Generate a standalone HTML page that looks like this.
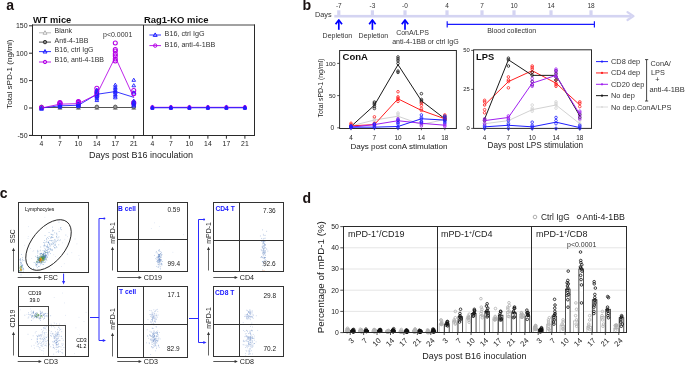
<!DOCTYPE html>
<html><head><meta charset="utf-8"><style>
html,body{margin:0;padding:0;background:#fff;}
svg{display:block;will-change:transform;}
svg text{font-family:"Liberation Sans",sans-serif;}
</style></head><body>
<svg width="685" height="365" viewBox="0 0 685 365">
<rect width="685" height="365" fill="#fff"/>
<text x="6.3" y="10.2" font-size="14" font-weight="bold" fill="#1a1212" >a</text>
<text x="33" y="23.1" font-size="9.3" font-weight="bold" fill="#111" >WT mice</text>
<text x="144" y="23.1" font-size="9.45" font-weight="bold" fill="#111" >Rag1-KO mice</text>
<line x1="32" y1="25" x2="255" y2="25" stroke="#444" stroke-width="1" />
<line x1="32.5" y1="24.5" x2="32.5" y2="136" stroke="#2a2a2a" stroke-width="1" />
<line x1="29" y1="135.5" x2="255" y2="135.5" stroke="#2a2a2a" stroke-width="1" />
<line x1="143.5" y1="25" x2="143.5" y2="135.5" stroke="#2a2a2a" stroke-width="1" />
<line x1="254.5" y1="24.5" x2="254.5" y2="136" stroke="#2a2a2a" stroke-width="1" />
<line x1="29" y1="25.8" x2="32.5" y2="25.8" stroke="#2a2a2a" stroke-width="1" />
<text x="27.6" y="28.2" font-size="7" text-anchor="end" fill="#222" >150</text>
<line x1="29" y1="53.2" x2="32.5" y2="53.2" stroke="#2a2a2a" stroke-width="1" />
<text x="27.6" y="55.6" font-size="7" text-anchor="end" fill="#222" >100</text>
<line x1="29" y1="80.6" x2="32.5" y2="80.6" stroke="#2a2a2a" stroke-width="1" />
<text x="27.6" y="83" font-size="7" text-anchor="end" fill="#222" >50</text>
<line x1="29" y1="108" x2="32.5" y2="108" stroke="#2a2a2a" stroke-width="1" />
<text x="27.6" y="110.4" font-size="7" text-anchor="end" fill="#222" >0</text>
<line x1="29" y1="135.4" x2="32.5" y2="135.4" stroke="#2a2a2a" stroke-width="1" />
<text x="27.6" y="137.8" font-size="7" text-anchor="end" fill="#222" >-50</text>
<line x1="41.5" y1="135.5" x2="41.5" y2="138.7" stroke="#2a2a2a" stroke-width="1" />
<text x="41.5" y="145.9" font-size="6.8" text-anchor="middle" fill="#222" >4</text>
<line x1="59.95" y1="135.5" x2="59.95" y2="138.7" stroke="#2a2a2a" stroke-width="1" />
<text x="59.95" y="145.9" font-size="6.8" text-anchor="middle" fill="#222" >7</text>
<line x1="78.4" y1="135.5" x2="78.4" y2="138.7" stroke="#2a2a2a" stroke-width="1" />
<text x="78.4" y="145.9" font-size="6.8" text-anchor="middle" fill="#222" >10</text>
<line x1="96.85" y1="135.5" x2="96.85" y2="138.7" stroke="#2a2a2a" stroke-width="1" />
<text x="96.85" y="145.9" font-size="6.8" text-anchor="middle" fill="#222" >14</text>
<line x1="115.3" y1="135.5" x2="115.3" y2="138.7" stroke="#2a2a2a" stroke-width="1" />
<text x="115.3" y="145.9" font-size="6.8" text-anchor="middle" fill="#222" >17</text>
<line x1="133.75" y1="135.5" x2="133.75" y2="138.7" stroke="#2a2a2a" stroke-width="1" />
<text x="133.75" y="145.9" font-size="6.8" text-anchor="middle" fill="#222" >21</text>
<line x1="152.4" y1="135.5" x2="152.4" y2="138.7" stroke="#2a2a2a" stroke-width="1" />
<text x="152.4" y="145.9" font-size="6.8" text-anchor="middle" fill="#222" >4</text>
<line x1="170.9" y1="135.5" x2="170.9" y2="138.7" stroke="#2a2a2a" stroke-width="1" />
<text x="170.9" y="145.9" font-size="6.8" text-anchor="middle" fill="#222" >7</text>
<line x1="189.4" y1="135.5" x2="189.4" y2="138.7" stroke="#2a2a2a" stroke-width="1" />
<text x="189.4" y="145.9" font-size="6.8" text-anchor="middle" fill="#222" >10</text>
<line x1="207.9" y1="135.5" x2="207.9" y2="138.7" stroke="#2a2a2a" stroke-width="1" />
<text x="207.9" y="145.9" font-size="6.8" text-anchor="middle" fill="#222" >14</text>
<line x1="226.4" y1="135.5" x2="226.4" y2="138.7" stroke="#2a2a2a" stroke-width="1" />
<text x="226.4" y="145.9" font-size="6.8" text-anchor="middle" fill="#222" >17</text>
<line x1="244.9" y1="135.5" x2="244.9" y2="138.7" stroke="#2a2a2a" stroke-width="1" />
<text x="244.9" y="145.9" font-size="6.8" text-anchor="middle" fill="#222" >21</text>
<text x="141" y="158.1" font-size="9" text-anchor="middle" fill="#222" >Days post B16 inoculation</text>
<text x="12.4" y="74.2" font-size="8.1" text-anchor="middle" fill="#222" transform="rotate(-90 12.4 74.2)" >Total sPD-1 (ng/ml)</text>
<line x1="39" y1="32.8" x2="51" y2="32.8" stroke="#b0b0b0" stroke-width="0.9" />
<polygon points="45,30.72 43,34.19 47,34.19" stroke="#b0b0b0" stroke-width="1" fill="#fff"/>
<text x="54.6" y="33.3" font-size="7" fill="#333" >Blank</text>
<line x1="39" y1="42.1" x2="51" y2="42.1" stroke="#333333" stroke-width="0.9" />
<circle cx="45" cy="42.1" r="1.7" stroke="#333333" stroke-width="1" fill="#888"/>
<text x="54.6" y="42.6" font-size="7" fill="#333" >Anti-4-1BB</text>
<line x1="39" y1="51.6" x2="51" y2="51.6" stroke="#1e1eff" stroke-width="0.9" />
<polygon points="45,49.52 43,52.99 47,52.99" stroke="#1e1eff" stroke-width="1" fill="none"/>
<text x="54.6" y="52.3" font-size="7" fill="#333" >B16, ctrl IgG</text>
<line x1="39" y1="62" x2="51" y2="62" stroke="#b400e6" stroke-width="0.9" />
<circle cx="45" cy="62" r="1.7" stroke="#b400e6" stroke-width="1" fill="none"/>
<text x="54.6" y="62.3" font-size="7" fill="#333" >B16, anti-4-1BB</text>
<text x="103" y="37.3" font-size="7" fill="#333" >p&lt;0.0001</text>
<line x1="41.5" y1="107.5" x2="133.75" y2="107.5" stroke="#555" stroke-width="1" />
<polygon points="41.5,105.92 39.5,109.39 43.5,109.39" stroke="#9a9a9a" stroke-width="0.9" fill="#a0a0a0"/>
<circle cx="41.5" cy="106.9" r="1.8" stroke="#555" stroke-width="0.9" fill="#999"/>
<polygon points="59.95,105.92 57.95,109.39 61.95,109.39" stroke="#9a9a9a" stroke-width="0.9" fill="#a0a0a0"/>
<circle cx="59.95" cy="106.9" r="1.8" stroke="#555" stroke-width="0.9" fill="#999"/>
<polygon points="78.4,105.92 76.4,109.39 80.4,109.39" stroke="#9a9a9a" stroke-width="0.9" fill="#a0a0a0"/>
<circle cx="78.4" cy="106.9" r="1.8" stroke="#555" stroke-width="0.9" fill="#999"/>
<polygon points="96.85,105.92 94.85,109.39 98.85,109.39" stroke="#9a9a9a" stroke-width="0.9" fill="#a0a0a0"/>
<circle cx="96.85" cy="106.9" r="1.8" stroke="#555" stroke-width="0.9" fill="#999"/>
<polygon points="115.3,105.92 113.3,109.39 117.3,109.39" stroke="#9a9a9a" stroke-width="0.9" fill="#a0a0a0"/>
<circle cx="115.3" cy="106.9" r="1.8" stroke="#555" stroke-width="0.9" fill="#999"/>
<polygon points="133.75,105.92 131.75,109.39 135.75,109.39" stroke="#9a9a9a" stroke-width="0.9" fill="#a0a0a0"/>
<circle cx="133.75" cy="106.9" r="1.8" stroke="#555" stroke-width="0.9" fill="#999"/>
<circle cx="41.5" cy="107.45" r="2" stroke="#b400e6" stroke-width="1.05" fill="none"/>
<circle cx="59.95" cy="104.71" r="2" stroke="#b400e6" stroke-width="1.05" fill="none"/>
<circle cx="59.95" cy="103.62" r="2" stroke="#b400e6" stroke-width="1.05" fill="none"/>
<circle cx="59.95" cy="103.07" r="2" stroke="#b400e6" stroke-width="1.05" fill="none"/>
<circle cx="59.95" cy="102.52" r="2" stroke="#b400e6" stroke-width="1.05" fill="none"/>
<circle cx="78.4" cy="104.16" r="2" stroke="#b400e6" stroke-width="1.05" fill="none"/>
<circle cx="78.4" cy="103.07" r="2" stroke="#b400e6" stroke-width="1.05" fill="none"/>
<circle cx="78.4" cy="102.52" r="2" stroke="#b400e6" stroke-width="1.05" fill="none"/>
<circle cx="78.4" cy="101.97" r="2" stroke="#b400e6" stroke-width="1.05" fill="none"/>
<circle cx="78.4" cy="101.42" r="2" stroke="#b400e6" stroke-width="1.05" fill="none"/>
<circle cx="96.85" cy="88.27" r="2" stroke="#b400e6" stroke-width="1.05" fill="none"/>
<circle cx="96.85" cy="91.56" r="2" stroke="#b400e6" stroke-width="1.05" fill="none"/>
<circle cx="96.85" cy="93.75" r="2" stroke="#b400e6" stroke-width="1.05" fill="none"/>
<circle cx="96.85" cy="95.94" r="2" stroke="#b400e6" stroke-width="1.05" fill="none"/>
<circle cx="115.3" cy="43.01" r="2" stroke="#b400e6" stroke-width="1.05" fill="none"/>
<circle cx="115.3" cy="49.47" r="2" stroke="#b400e6" stroke-width="1.05" fill="none"/>
<circle cx="115.3" cy="51.01" r="2" stroke="#b400e6" stroke-width="1.05" fill="none"/>
<circle cx="115.3" cy="54.02" r="2" stroke="#b400e6" stroke-width="1.05" fill="none"/>
<circle cx="115.3" cy="55.99" r="2" stroke="#b400e6" stroke-width="1.05" fill="none"/>
<circle cx="115.3" cy="59.01" r="2" stroke="#b400e6" stroke-width="1.05" fill="none"/>
<circle cx="115.3" cy="60.98" r="2" stroke="#b400e6" stroke-width="1.05" fill="none"/>
<circle cx="133.75" cy="90.46" r="2" stroke="#b400e6" stroke-width="1.05" fill="none"/>
<circle cx="133.75" cy="93.75" r="2" stroke="#b400e6" stroke-width="1.05" fill="none"/>
<circle cx="133.75" cy="102.52" r="2" stroke="#b400e6" stroke-width="1.05" fill="none"/>
<circle cx="133.75" cy="103.62" r="2" stroke="#b400e6" stroke-width="1.05" fill="none"/>
<polygon points="41.5,106.13 39.7,109.25 43.3,109.25" stroke="#1e1eff" stroke-width="0.9" fill="none"/>
<polygon points="41.5,107.23 39.7,110.34 43.3,110.34" stroke="#1e1eff" stroke-width="0.9" fill="none"/>
<polygon points="59.95,105.03 58.15,108.15 61.75,108.15" stroke="#1e1eff" stroke-width="0.9" fill="none"/>
<polygon points="59.95,104.49 58.15,107.6 61.75,107.6" stroke="#1e1eff" stroke-width="0.9" fill="none"/>
<polygon points="59.95,103.94 58.15,107.06 61.75,107.06" stroke="#1e1eff" stroke-width="0.9" fill="none"/>
<polygon points="59.95,103.39 58.15,106.51 61.75,106.51" stroke="#1e1eff" stroke-width="0.9" fill="none"/>
<polygon points="59.95,102.84 58.15,105.96 61.75,105.96" stroke="#1e1eff" stroke-width="0.9" fill="none"/>
<polygon points="78.4,104.49 76.6,107.6 80.2,107.6" stroke="#1e1eff" stroke-width="0.9" fill="none"/>
<polygon points="78.4,103.94 76.6,107.06 80.2,107.06" stroke="#1e1eff" stroke-width="0.9" fill="none"/>
<polygon points="78.4,103.39 76.6,106.51 80.2,106.51" stroke="#1e1eff" stroke-width="0.9" fill="none"/>
<polygon points="78.4,102.84 76.6,105.96 80.2,105.96" stroke="#1e1eff" stroke-width="0.9" fill="none"/>
<polygon points="78.4,102.29 76.6,105.41 80.2,105.41" stroke="#1e1eff" stroke-width="0.9" fill="none"/>
<polygon points="78.4,101.75 76.6,104.86 80.2,104.86" stroke="#1e1eff" stroke-width="0.9" fill="none"/>
<polygon points="96.85,98.46 95.05,101.58 98.65,101.58" stroke="#1e1eff" stroke-width="0.9" fill="none"/>
<polygon points="96.85,96.81 95.05,99.93 98.65,99.93" stroke="#1e1eff" stroke-width="0.9" fill="none"/>
<polygon points="96.85,95.17 95.05,98.29 98.65,98.29" stroke="#1e1eff" stroke-width="0.9" fill="none"/>
<polygon points="96.85,94.07 95.05,97.19 98.65,97.19" stroke="#1e1eff" stroke-width="0.9" fill="none"/>
<polygon points="96.85,92.98 95.05,96.1 98.65,96.1" stroke="#1e1eff" stroke-width="0.9" fill="none"/>
<polygon points="96.85,91.88 95.05,95 98.65,95" stroke="#1e1eff" stroke-width="0.9" fill="none"/>
<polygon points="96.85,90.79 95.05,93.9 98.65,93.9" stroke="#1e1eff" stroke-width="0.9" fill="none"/>
<polygon points="96.85,89.69 95.05,92.81 98.65,92.81" stroke="#1e1eff" stroke-width="0.9" fill="none"/>
<polygon points="96.85,88.05 95.05,91.16 98.65,91.16" stroke="#1e1eff" stroke-width="0.9" fill="none"/>
<polygon points="115.3,95.72 113.5,98.84 117.1,98.84" stroke="#1e1eff" stroke-width="0.9" fill="none"/>
<polygon points="115.3,94.07 113.5,97.19 117.1,97.19" stroke="#1e1eff" stroke-width="0.9" fill="none"/>
<polygon points="115.3,92.43 113.5,95.55 117.1,95.55" stroke="#1e1eff" stroke-width="0.9" fill="none"/>
<polygon points="115.3,90.79 113.5,93.9 117.1,93.9" stroke="#1e1eff" stroke-width="0.9" fill="none"/>
<polygon points="115.3,89.69 113.5,92.81 117.1,92.81" stroke="#1e1eff" stroke-width="0.9" fill="none"/>
<polygon points="115.3,88.59 113.5,91.71 117.1,91.71" stroke="#1e1eff" stroke-width="0.9" fill="none"/>
<polygon points="115.3,86.95 113.5,90.07 117.1,90.07" stroke="#1e1eff" stroke-width="0.9" fill="none"/>
<polygon points="115.3,85.31 113.5,88.42 117.1,88.42" stroke="#1e1eff" stroke-width="0.9" fill="none"/>
<polygon points="115.3,83.11 113.5,86.23 117.1,86.23" stroke="#1e1eff" stroke-width="0.9" fill="none"/>
<polygon points="133.75,78.18 131.95,81.3 135.55,81.3" stroke="#1e1eff" stroke-width="0.9" fill="none"/>
<polygon points="133.75,83.66 131.95,86.78 135.55,86.78" stroke="#1e1eff" stroke-width="0.9" fill="none"/>
<polygon points="133.75,90.79 131.95,93.9 135.55,93.9" stroke="#1e1eff" stroke-width="0.9" fill="none"/>
<polygon points="133.75,99.01 131.95,102.12 135.55,102.12" stroke="#1e1eff" stroke-width="0.9" fill="none"/>
<polygon points="133.75,100.65 131.95,103.77 135.55,103.77" stroke="#1e1eff" stroke-width="0.9" fill="none"/>
<polygon points="133.75,101.75 131.95,104.86 135.55,104.86" stroke="#1e1eff" stroke-width="0.9" fill="none"/>
<polygon points="133.75,102.84 131.95,105.96 135.55,105.96" stroke="#1e1eff" stroke-width="0.9" fill="none"/>
<polygon points="133.75,103.94 131.95,107.06 135.55,107.06" stroke="#1e1eff" stroke-width="0.9" fill="none"/>
<polyline points="41.5,108 59.95,105.81 78.4,105.26 96.85,94.3 115.3,91.56 133.75,97.31" stroke="#1e1eff" stroke-width="0.9" fill="none" stroke-linejoin="round" />
<polyline points="41.5,108 59.95,104.16 78.4,103.62 96.85,94.3 115.3,57.04 133.75,97.59" stroke="#b400e6" stroke-width="0.85" fill="none" stroke-linejoin="round" />
<line x1="149.4" y1="35" x2="161" y2="35" stroke="#1e1eff" stroke-width="0.9" />
<polygon points="155.2,32.92 153.2,36.39 157.2,36.39" stroke="#1e1eff" stroke-width="1" fill="none"/>
<text x="164.6" y="36.2" font-size="7.2" fill="#333" >B16, ctrl IgG</text>
<line x1="149.4" y1="45.6" x2="161" y2="45.6" stroke="#b400e6" stroke-width="0.9" />
<circle cx="155.2" cy="45.6" r="1.7" stroke="#b400e6" stroke-width="1" fill="none"/>
<text x="164.6" y="46.8" font-size="7.2" fill="#333" >B16, anti-4-1BB</text>
<polyline points="152.4,107.34 170.9,107.34 189.4,107.34 207.9,107.34 226.4,107.34 244.9,107.34" stroke="#b400e6" stroke-width="1" fill="none" stroke-linejoin="round" />
<polyline points="152.4,107.73 170.9,107.73 189.4,107.73 207.9,107.73 226.4,107.73 244.9,107.73" stroke="#1e1eff" stroke-width="1.2" fill="none" stroke-linejoin="round" />
<circle cx="152.4" cy="106.9" r="1.5" stroke="#b400e6" stroke-width="0.9" fill="none"/>
<circle cx="152.4" cy="107.45" r="1.5" stroke="#b400e6" stroke-width="0.9" fill="none"/>
<circle cx="152.4" cy="108" r="1.5" stroke="#b400e6" stroke-width="0.9" fill="none"/>
<polygon points="152.4,105.62 150.9,108.22 153.9,108.22" stroke="#1e1eff" stroke-width="1.0" fill="#1e1eff"/>
<polygon points="152.4,106.17 150.9,108.77 153.9,108.77" stroke="#1e1eff" stroke-width="1.0" fill="#1e1eff"/>
<polygon points="152.4,106.72 150.9,109.31 153.9,109.31" stroke="#1e1eff" stroke-width="1.0" fill="#1e1eff"/>
<circle cx="170.9" cy="106.9" r="1.5" stroke="#b400e6" stroke-width="0.9" fill="none"/>
<circle cx="170.9" cy="107.45" r="1.5" stroke="#b400e6" stroke-width="0.9" fill="none"/>
<circle cx="170.9" cy="108" r="1.5" stroke="#b400e6" stroke-width="0.9" fill="none"/>
<polygon points="170.9,105.62 169.4,108.22 172.4,108.22" stroke="#1e1eff" stroke-width="1.0" fill="#1e1eff"/>
<polygon points="170.9,106.17 169.4,108.77 172.4,108.77" stroke="#1e1eff" stroke-width="1.0" fill="#1e1eff"/>
<polygon points="170.9,106.72 169.4,109.31 172.4,109.31" stroke="#1e1eff" stroke-width="1.0" fill="#1e1eff"/>
<circle cx="189.4" cy="106.9" r="1.5" stroke="#b400e6" stroke-width="0.9" fill="none"/>
<circle cx="189.4" cy="107.45" r="1.5" stroke="#b400e6" stroke-width="0.9" fill="none"/>
<circle cx="189.4" cy="108" r="1.5" stroke="#b400e6" stroke-width="0.9" fill="none"/>
<polygon points="189.4,105.62 187.9,108.22 190.9,108.22" stroke="#1e1eff" stroke-width="1.0" fill="#1e1eff"/>
<polygon points="189.4,106.17 187.9,108.77 190.9,108.77" stroke="#1e1eff" stroke-width="1.0" fill="#1e1eff"/>
<polygon points="189.4,106.72 187.9,109.31 190.9,109.31" stroke="#1e1eff" stroke-width="1.0" fill="#1e1eff"/>
<circle cx="207.9" cy="106.9" r="1.5" stroke="#b400e6" stroke-width="0.9" fill="none"/>
<circle cx="207.9" cy="107.45" r="1.5" stroke="#b400e6" stroke-width="0.9" fill="none"/>
<circle cx="207.9" cy="108" r="1.5" stroke="#b400e6" stroke-width="0.9" fill="none"/>
<polygon points="207.9,105.62 206.4,108.22 209.4,108.22" stroke="#1e1eff" stroke-width="1.0" fill="#1e1eff"/>
<polygon points="207.9,106.17 206.4,108.77 209.4,108.77" stroke="#1e1eff" stroke-width="1.0" fill="#1e1eff"/>
<polygon points="207.9,106.72 206.4,109.31 209.4,109.31" stroke="#1e1eff" stroke-width="1.0" fill="#1e1eff"/>
<circle cx="226.4" cy="106.9" r="1.5" stroke="#b400e6" stroke-width="0.9" fill="none"/>
<circle cx="226.4" cy="107.45" r="1.5" stroke="#b400e6" stroke-width="0.9" fill="none"/>
<circle cx="226.4" cy="108" r="1.5" stroke="#b400e6" stroke-width="0.9" fill="none"/>
<polygon points="226.4,105.62 224.9,108.22 227.9,108.22" stroke="#1e1eff" stroke-width="1.0" fill="#1e1eff"/>
<polygon points="226.4,106.17 224.9,108.77 227.9,108.77" stroke="#1e1eff" stroke-width="1.0" fill="#1e1eff"/>
<polygon points="226.4,106.72 224.9,109.31 227.9,109.31" stroke="#1e1eff" stroke-width="1.0" fill="#1e1eff"/>
<circle cx="244.9" cy="106.9" r="1.5" stroke="#b400e6" stroke-width="0.9" fill="none"/>
<circle cx="244.9" cy="107.45" r="1.5" stroke="#b400e6" stroke-width="0.9" fill="none"/>
<circle cx="244.9" cy="108" r="1.5" stroke="#b400e6" stroke-width="0.9" fill="none"/>
<polygon points="244.9,105.62 243.4,108.22 246.4,108.22" stroke="#1e1eff" stroke-width="1.0" fill="#1e1eff"/>
<polygon points="244.9,106.17 243.4,108.77 246.4,108.77" stroke="#1e1eff" stroke-width="1.0" fill="#1e1eff"/>
<polygon points="244.9,106.72 243.4,109.31 246.4,109.31" stroke="#1e1eff" stroke-width="1.0" fill="#1e1eff"/>
<text x="302.6" y="10.4" font-size="14.2" font-weight="bold" fill="#1a1212" >b</text>
<text x="315" y="17.4" font-size="7.3" fill="#333" >Days</text>
<rect x="334.3" y="14.9" width="297" height="2.6" fill="#d4d4f2"/>
<polyline points="627.5,12.2 633.5,16.1 627.5,20" stroke="#d4d4f2" stroke-width="2.2" fill="none" stroke-linejoin="round" stroke-linecap="round"/>
<rect x="337.2" y="10.3" width="3.2" height="5" fill="#d4d4f2"/>
<text x="338.8" y="8" font-size="6.5" text-anchor="middle" fill="#333" >-7</text>
<rect x="370.8" y="10.3" width="3.2" height="5" fill="#d4d4f2"/>
<text x="372.4" y="8" font-size="6.5" text-anchor="middle" fill="#333" >-3</text>
<rect x="403.4" y="10.3" width="3.2" height="5" fill="#d4d4f2"/>
<text x="405" y="8" font-size="6.5" text-anchor="middle" fill="#333" >-0</text>
<rect x="445.4" y="10.3" width="3.2" height="5" fill="#d4d4f2"/>
<text x="447" y="8" font-size="6.5" text-anchor="middle" fill="#333" >4</text>
<rect x="480.4" y="10.3" width="3.2" height="5" fill="#d4d4f2"/>
<text x="482" y="8" font-size="6.5" text-anchor="middle" fill="#333" >7</text>
<rect x="512.4" y="10.3" width="3.2" height="5" fill="#d4d4f2"/>
<text x="514" y="8" font-size="6.5" text-anchor="middle" fill="#333" >10</text>
<rect x="549.4" y="10.3" width="3.2" height="5" fill="#d4d4f2"/>
<text x="551" y="8" font-size="6.5" text-anchor="middle" fill="#333" >14</text>
<rect x="589.4" y="10.3" width="3.2" height="5" fill="#d4d4f2"/>
<text x="591" y="8" font-size="6.5" text-anchor="middle" fill="#333" >18</text>
<line x1="338.8" y1="29.8" x2="338.8" y2="20.5" stroke="#0000ff" stroke-width="1.7" />
<polyline points="336.1,23.6 338.8,20 341.5,23.6" stroke="#0000ff" stroke-width="1.7" fill="none" stroke-linejoin="round" stroke-linecap="square" stroke-linejoin="miter"/>
<line x1="372.4" y1="29.8" x2="372.4" y2="20.5" stroke="#0000ff" stroke-width="1.7" />
<polyline points="369.7,23.6 372.4,20 375.1,23.6" stroke="#0000ff" stroke-width="1.7" fill="none" stroke-linejoin="round" stroke-linecap="square" stroke-linejoin="miter"/>
<line x1="405" y1="29.8" x2="405" y2="20.5" stroke="#0000ff" stroke-width="1.7" />
<polyline points="402.3,23.6 405,20 407.7,23.6" stroke="#0000ff" stroke-width="1.7" fill="none" stroke-linejoin="round" stroke-linecap="square" stroke-linejoin="miter"/>
<text x="337.4" y="38.1" font-size="7" text-anchor="middle" fill="#333" >Depletion</text>
<text x="373.4" y="38.1" font-size="7" text-anchor="middle" fill="#333" >Depletion</text>
<text x="412.5" y="34.5" font-size="7" text-anchor="middle" fill="#333" >ConA/LPS</text>
<text x="425.5" y="44" font-size="7.1" text-anchor="middle" fill="#333" >anti-4-1BB or ctrl IgG</text>
<line x1="447" y1="24.4" x2="594.6" y2="24.4" stroke="#1a1aff" stroke-width="1.2" />
<line x1="447.2" y1="21.2" x2="447.2" y2="27.6" stroke="#1a1aff" stroke-width="1.2" />
<line x1="594.4" y1="21.2" x2="594.4" y2="27.6" stroke="#1a1aff" stroke-width="1.2" />
<text x="511.7" y="32.5" font-size="7" text-anchor="middle" fill="#333" >Blood collection</text>
<rect x="339.6" y="50.5" width="116.8" height="78" stroke="#2a2a2a" stroke-width="1" fill="none" />
<line x1="337.2" y1="127.8" x2="339.6" y2="127.8" stroke="#2a2a2a" stroke-width="0.8" />
<text x="334.2" y="130.2" font-size="6.6" text-anchor="end" fill="#222" >0</text>
<line x1="337.2" y1="95.6" x2="339.6" y2="95.6" stroke="#2a2a2a" stroke-width="0.8" />
<text x="335.6" y="97.8" font-size="6" text-anchor="end" fill="#222" >50</text>
<line x1="337.2" y1="63.4" x2="339.6" y2="63.4" stroke="#2a2a2a" stroke-width="0.8" />
<text x="335.6" y="65.6" font-size="6" text-anchor="end" fill="#222" >100</text>
<line x1="351" y1="128" x2="351" y2="130.2" stroke="#2a2a2a" stroke-width="0.8" />
<text x="351" y="139.6" font-size="6.4" text-anchor="middle" fill="#222" >4</text>
<line x1="374.4" y1="128" x2="374.4" y2="130.2" stroke="#2a2a2a" stroke-width="0.8" />
<text x="374.4" y="139.6" font-size="6.4" text-anchor="middle" fill="#222" >7</text>
<line x1="398" y1="128" x2="398" y2="130.2" stroke="#2a2a2a" stroke-width="0.8" />
<text x="398" y="139.6" font-size="6.4" text-anchor="middle" fill="#222" >10</text>
<line x1="421.4" y1="128" x2="421.4" y2="130.2" stroke="#2a2a2a" stroke-width="0.8" />
<text x="421.4" y="139.6" font-size="6.4" text-anchor="middle" fill="#222" >14</text>
<line x1="444.8" y1="128" x2="444.8" y2="130.2" stroke="#2a2a2a" stroke-width="0.8" />
<text x="444.8" y="139.6" font-size="6.4" text-anchor="middle" fill="#222" >18</text>
<text x="342.6" y="59.8" font-size="9.5" font-weight="bold" fill="#111" >ConA</text>
<text x="323.3" y="88" font-size="6.9" text-anchor="middle" fill="#222" transform="rotate(-90 323.3 88)" >Total sPD-1 (ng/ml)</text>
<text x="399" y="149.3" font-size="8.1" text-anchor="middle" fill="#222" >Days post conA stimulation</text>
<rect x="473.6" y="49.8" width="117.9" height="78.6" stroke="#2a2a2a" stroke-width="1" fill="none" />
<line x1="471.2" y1="128.4" x2="473.6" y2="128.4" stroke="#2a2a2a" stroke-width="0.8" />
<text x="469.8" y="130.4" font-size="5.8" text-anchor="end" fill="#222" >0</text>
<line x1="471.2" y1="89.4" x2="473.6" y2="89.4" stroke="#2a2a2a" stroke-width="0.8" />
<text x="469.8" y="91.4" font-size="5.8" text-anchor="end" fill="#222" >25</text>
<line x1="471.2" y1="50.4" x2="473.6" y2="50.4" stroke="#2a2a2a" stroke-width="0.8" />
<text x="469.8" y="52.4" font-size="5.8" text-anchor="end" fill="#222" >50</text>
<line x1="484.6" y1="128.4" x2="484.6" y2="130.6" stroke="#2a2a2a" stroke-width="0.8" />
<text x="484.6" y="139.6" font-size="6.4" text-anchor="middle" fill="#222" >4</text>
<line x1="508.4" y1="128.4" x2="508.4" y2="130.6" stroke="#2a2a2a" stroke-width="0.8" />
<text x="508.4" y="139.6" font-size="6.4" text-anchor="middle" fill="#222" >7</text>
<line x1="532.2" y1="128.4" x2="532.2" y2="130.6" stroke="#2a2a2a" stroke-width="0.8" />
<text x="532.2" y="139.6" font-size="6.4" text-anchor="middle" fill="#222" >10</text>
<line x1="556" y1="128.4" x2="556" y2="130.6" stroke="#2a2a2a" stroke-width="0.8" />
<text x="556" y="139.6" font-size="6.4" text-anchor="middle" fill="#222" >14</text>
<line x1="579.8" y1="128.4" x2="579.8" y2="130.6" stroke="#2a2a2a" stroke-width="0.8" />
<text x="579.8" y="139.6" font-size="6.4" text-anchor="middle" fill="#222" >18</text>
<text x="476" y="60.3" font-size="9.3" font-weight="bold" fill="#111" >LPS</text>
<text x="535.3" y="147.8" font-size="8.2" text-anchor="middle" fill="#222" >Days post LPS stimulation</text>
<circle cx="351" cy="125.87" r="1.3" stroke="#d2d2d2" stroke-width="0.8" fill="none"/>
<circle cx="374.4" cy="121.36" r="1.3" stroke="#d2d2d2" stroke-width="0.8" fill="none"/>
<circle cx="374.4" cy="120.07" r="1.3" stroke="#d2d2d2" stroke-width="0.8" fill="none"/>
<circle cx="374.4" cy="118.78" r="1.3" stroke="#d2d2d2" stroke-width="0.8" fill="none"/>
<circle cx="398" cy="118.14" r="1.3" stroke="#d2d2d2" stroke-width="0.8" fill="none"/>
<circle cx="398" cy="116.21" r="1.3" stroke="#d2d2d2" stroke-width="0.8" fill="none"/>
<circle cx="398" cy="114.28" r="1.3" stroke="#d2d2d2" stroke-width="0.8" fill="none"/>
<circle cx="398" cy="112.99" r="1.3" stroke="#d2d2d2" stroke-width="0.8" fill="none"/>
<circle cx="421.4" cy="125.87" r="1.3" stroke="#d2d2d2" stroke-width="0.8" fill="none"/>
<circle cx="421.4" cy="124.58" r="1.3" stroke="#d2d2d2" stroke-width="0.8" fill="none"/>
<circle cx="444.8" cy="120.07" r="1.3" stroke="#d2d2d2" stroke-width="0.8" fill="none"/>
<circle cx="444.8" cy="118.78" r="1.3" stroke="#d2d2d2" stroke-width="0.8" fill="none"/>
<polyline points="351,125.87 374.4,120.07 398,116.21 421.4,124.58 444.8,119.43" stroke="#d2d2d2" stroke-width="1" fill="none" stroke-linejoin="round" />
<circle cx="351" cy="127.16" r="1.3" stroke="#1a1a1a" stroke-width="0.8" fill="none"/>
<circle cx="351" cy="126.51" r="1.3" stroke="#1a1a1a" stroke-width="0.8" fill="none"/>
<circle cx="351" cy="125.87" r="1.3" stroke="#1a1a1a" stroke-width="0.8" fill="none"/>
<circle cx="374.4" cy="108.48" r="1.3" stroke="#1a1a1a" stroke-width="0.8" fill="none"/>
<circle cx="374.4" cy="106.55" r="1.3" stroke="#1a1a1a" stroke-width="0.8" fill="none"/>
<circle cx="374.4" cy="104.62" r="1.3" stroke="#1a1a1a" stroke-width="0.8" fill="none"/>
<circle cx="374.4" cy="103.33" r="1.3" stroke="#1a1a1a" stroke-width="0.8" fill="none"/>
<circle cx="374.4" cy="102.04" r="1.3" stroke="#1a1a1a" stroke-width="0.8" fill="none"/>
<circle cx="398" cy="56.96" r="1.3" stroke="#1a1a1a" stroke-width="0.8" fill="none"/>
<circle cx="398" cy="58.89" r="1.3" stroke="#1a1a1a" stroke-width="0.8" fill="none"/>
<circle cx="398" cy="60.82" r="1.3" stroke="#1a1a1a" stroke-width="0.8" fill="none"/>
<circle cx="398" cy="63.4" r="1.3" stroke="#1a1a1a" stroke-width="0.8" fill="none"/>
<circle cx="398" cy="71.13" r="1.3" stroke="#1a1a1a" stroke-width="0.8" fill="none"/>
<circle cx="398" cy="72.42" r="1.3" stroke="#1a1a1a" stroke-width="0.8" fill="none"/>
<circle cx="421.4" cy="93.67" r="1.3" stroke="#1a1a1a" stroke-width="0.8" fill="none"/>
<circle cx="421.4" cy="99.46" r="1.3" stroke="#1a1a1a" stroke-width="0.8" fill="none"/>
<circle cx="421.4" cy="100.75" r="1.3" stroke="#1a1a1a" stroke-width="0.8" fill="none"/>
<circle cx="421.4" cy="102.04" r="1.3" stroke="#1a1a1a" stroke-width="0.8" fill="none"/>
<circle cx="444.8" cy="120.07" r="1.3" stroke="#1a1a1a" stroke-width="0.8" fill="none"/>
<circle cx="444.8" cy="118.78" r="1.3" stroke="#1a1a1a" stroke-width="0.8" fill="none"/>
<circle cx="444.8" cy="117.5" r="1.3" stroke="#1a1a1a" stroke-width="0.8" fill="none"/>
<circle cx="444.8" cy="116.21" r="1.3" stroke="#1a1a1a" stroke-width="0.8" fill="none"/>
<polyline points="351,126.51 374.4,105.26 398,64.69 421.4,100.75 444.8,118.78" stroke="#1a1a1a" stroke-width="1" fill="none" stroke-linejoin="round" />
<circle cx="351" cy="124.58" r="1.3" stroke="#ff1f1f" stroke-width="0.8" fill="none"/>
<circle cx="351" cy="123.29" r="1.3" stroke="#ff1f1f" stroke-width="0.8" fill="none"/>
<circle cx="374.4" cy="116.85" r="1.3" stroke="#ff1f1f" stroke-width="0.8" fill="none"/>
<circle cx="374.4" cy="123.29" r="1.3" stroke="#ff1f1f" stroke-width="0.8" fill="none"/>
<circle cx="374.4" cy="125.22" r="1.3" stroke="#ff1f1f" stroke-width="0.8" fill="none"/>
<circle cx="398" cy="91.74" r="1.3" stroke="#ff1f1f" stroke-width="0.8" fill="none"/>
<circle cx="398" cy="96.89" r="1.3" stroke="#ff1f1f" stroke-width="0.8" fill="none"/>
<circle cx="398" cy="98.18" r="1.3" stroke="#ff1f1f" stroke-width="0.8" fill="none"/>
<circle cx="398" cy="99.46" r="1.3" stroke="#ff1f1f" stroke-width="0.8" fill="none"/>
<circle cx="398" cy="101.4" r="1.3" stroke="#ff1f1f" stroke-width="0.8" fill="none"/>
<circle cx="421.4" cy="103.33" r="1.3" stroke="#ff1f1f" stroke-width="0.8" fill="none"/>
<circle cx="421.4" cy="105.26" r="1.3" stroke="#ff1f1f" stroke-width="0.8" fill="none"/>
<circle cx="421.4" cy="108.48" r="1.3" stroke="#ff1f1f" stroke-width="0.8" fill="none"/>
<circle cx="421.4" cy="110.41" r="1.3" stroke="#ff1f1f" stroke-width="0.8" fill="none"/>
<circle cx="444.8" cy="119.43" r="1.3" stroke="#ff1f1f" stroke-width="0.8" fill="none"/>
<circle cx="444.8" cy="118.14" r="1.3" stroke="#ff1f1f" stroke-width="0.8" fill="none"/>
<circle cx="444.8" cy="114.92" r="1.3" stroke="#ff1f1f" stroke-width="0.8" fill="none"/>
<polyline points="351,125.87 374.4,124.58 398,98.82 421.4,110.41 444.8,118.78" stroke="#ff1f1f" stroke-width="1" fill="none" stroke-linejoin="round" />
<circle cx="351" cy="127.16" r="1.3" stroke="#a020f0" stroke-width="0.8" fill="none"/>
<circle cx="351" cy="126.51" r="1.3" stroke="#a020f0" stroke-width="0.8" fill="none"/>
<circle cx="374.4" cy="125.22" r="1.3" stroke="#a020f0" stroke-width="0.8" fill="none"/>
<circle cx="374.4" cy="123.94" r="1.3" stroke="#a020f0" stroke-width="0.8" fill="none"/>
<circle cx="398" cy="122" r="1.3" stroke="#a020f0" stroke-width="0.8" fill="none"/>
<circle cx="398" cy="120.07" r="1.3" stroke="#a020f0" stroke-width="0.8" fill="none"/>
<circle cx="398" cy="118.78" r="1.3" stroke="#a020f0" stroke-width="0.8" fill="none"/>
<circle cx="421.4" cy="125.87" r="1.3" stroke="#a020f0" stroke-width="0.8" fill="none"/>
<circle cx="421.4" cy="123.94" r="1.3" stroke="#a020f0" stroke-width="0.8" fill="none"/>
<circle cx="421.4" cy="122" r="1.3" stroke="#a020f0" stroke-width="0.8" fill="none"/>
<circle cx="444.8" cy="126.51" r="1.3" stroke="#a020f0" stroke-width="0.8" fill="none"/>
<circle cx="444.8" cy="125.22" r="1.3" stroke="#a020f0" stroke-width="0.8" fill="none"/>
<circle cx="444.8" cy="123.94" r="1.3" stroke="#a020f0" stroke-width="0.8" fill="none"/>
<polyline points="351,127.16 374.4,124.58 398,120.72 421.4,123.29 444.8,125.22" stroke="#a020f0" stroke-width="1" fill="none" stroke-linejoin="round" />
<circle cx="351" cy="127.8" r="1.3" stroke="#1f1fff" stroke-width="0.8" fill="none"/>
<circle cx="351" cy="127.16" r="1.3" stroke="#1f1fff" stroke-width="0.8" fill="none"/>
<circle cx="351" cy="126.51" r="1.3" stroke="#1f1fff" stroke-width="0.8" fill="none"/>
<circle cx="351" cy="125.87" r="1.3" stroke="#1f1fff" stroke-width="0.8" fill="none"/>
<circle cx="374.4" cy="127.8" r="1.3" stroke="#1f1fff" stroke-width="0.8" fill="none"/>
<circle cx="374.4" cy="126.51" r="1.3" stroke="#1f1fff" stroke-width="0.8" fill="none"/>
<circle cx="374.4" cy="124.58" r="1.3" stroke="#1f1fff" stroke-width="0.8" fill="none"/>
<circle cx="374.4" cy="123.94" r="1.3" stroke="#1f1fff" stroke-width="0.8" fill="none"/>
<circle cx="398" cy="127.8" r="1.3" stroke="#1f1fff" stroke-width="0.8" fill="none"/>
<circle cx="398" cy="126.51" r="1.3" stroke="#1f1fff" stroke-width="0.8" fill="none"/>
<circle cx="398" cy="123.94" r="1.3" stroke="#1f1fff" stroke-width="0.8" fill="none"/>
<circle cx="398" cy="122.65" r="1.3" stroke="#1f1fff" stroke-width="0.8" fill="none"/>
<circle cx="398" cy="120.07" r="1.3" stroke="#1f1fff" stroke-width="0.8" fill="none"/>
<circle cx="421.4" cy="122.65" r="1.3" stroke="#1f1fff" stroke-width="0.8" fill="none"/>
<circle cx="421.4" cy="121.36" r="1.3" stroke="#1f1fff" stroke-width="0.8" fill="none"/>
<circle cx="421.4" cy="118.78" r="1.3" stroke="#1f1fff" stroke-width="0.8" fill="none"/>
<circle cx="421.4" cy="117.5" r="1.3" stroke="#1f1fff" stroke-width="0.8" fill="none"/>
<circle cx="421.4" cy="114.92" r="1.3" stroke="#1f1fff" stroke-width="0.8" fill="none"/>
<circle cx="444.8" cy="122.65" r="1.3" stroke="#1f1fff" stroke-width="0.8" fill="none"/>
<circle cx="444.8" cy="121.36" r="1.3" stroke="#1f1fff" stroke-width="0.8" fill="none"/>
<circle cx="444.8" cy="120.07" r="1.3" stroke="#1f1fff" stroke-width="0.8" fill="none"/>
<circle cx="444.8" cy="118.14" r="1.3" stroke="#1f1fff" stroke-width="0.8" fill="none"/>
<circle cx="444.8" cy="116.21" r="1.3" stroke="#1f1fff" stroke-width="0.8" fill="none"/>
<polyline points="351,127.16 374.4,127.16 398,126.51 421.4,118.78 444.8,120.07" stroke="#1f1fff" stroke-width="1" fill="none" stroke-linejoin="round" />
<circle cx="484.6" cy="123.72" r="1.3" stroke="#d2d2d2" stroke-width="0.8" fill="none"/>
<circle cx="484.6" cy="122.16" r="1.3" stroke="#d2d2d2" stroke-width="0.8" fill="none"/>
<circle cx="508.4" cy="122.16" r="1.3" stroke="#d2d2d2" stroke-width="0.8" fill="none"/>
<circle cx="508.4" cy="119.04" r="1.3" stroke="#d2d2d2" stroke-width="0.8" fill="none"/>
<circle cx="532.2" cy="105" r="1.3" stroke="#d2d2d2" stroke-width="0.8" fill="none"/>
<circle cx="532.2" cy="108.12" r="1.3" stroke="#d2d2d2" stroke-width="0.8" fill="none"/>
<circle cx="532.2" cy="109.68" r="1.3" stroke="#d2d2d2" stroke-width="0.8" fill="none"/>
<circle cx="532.2" cy="111.24" r="1.3" stroke="#d2d2d2" stroke-width="0.8" fill="none"/>
<circle cx="556" cy="101.88" r="1.3" stroke="#d2d2d2" stroke-width="0.8" fill="none"/>
<circle cx="556" cy="103.44" r="1.3" stroke="#d2d2d2" stroke-width="0.8" fill="none"/>
<circle cx="556" cy="105" r="1.3" stroke="#d2d2d2" stroke-width="0.8" fill="none"/>
<circle cx="556" cy="108.12" r="1.3" stroke="#d2d2d2" stroke-width="0.8" fill="none"/>
<circle cx="579.8" cy="125.28" r="1.3" stroke="#d2d2d2" stroke-width="0.8" fill="none"/>
<circle cx="579.8" cy="123.72" r="1.3" stroke="#d2d2d2" stroke-width="0.8" fill="none"/>
<circle cx="579.8" cy="120.6" r="1.3" stroke="#d2d2d2" stroke-width="0.8" fill="none"/>
<polyline points="484.6,123.72 508.4,120.6 532.2,109.68 556,105 579.8,123.72" stroke="#d2d2d2" stroke-width="1" fill="none" stroke-linejoin="round" />
<circle cx="484.6" cy="128.4" r="1.3" stroke="#1f1fff" stroke-width="0.8" fill="none"/>
<circle cx="484.6" cy="126.84" r="1.3" stroke="#1f1fff" stroke-width="0.8" fill="none"/>
<circle cx="484.6" cy="125.28" r="1.3" stroke="#1f1fff" stroke-width="0.8" fill="none"/>
<circle cx="508.4" cy="128.4" r="1.3" stroke="#1f1fff" stroke-width="0.8" fill="none"/>
<circle cx="508.4" cy="125.28" r="1.3" stroke="#1f1fff" stroke-width="0.8" fill="none"/>
<circle cx="508.4" cy="123.72" r="1.3" stroke="#1f1fff" stroke-width="0.8" fill="none"/>
<circle cx="508.4" cy="120.6" r="1.3" stroke="#1f1fff" stroke-width="0.8" fill="none"/>
<circle cx="532.2" cy="128.4" r="1.3" stroke="#1f1fff" stroke-width="0.8" fill="none"/>
<circle cx="532.2" cy="126.84" r="1.3" stroke="#1f1fff" stroke-width="0.8" fill="none"/>
<circle cx="532.2" cy="125.28" r="1.3" stroke="#1f1fff" stroke-width="0.8" fill="none"/>
<circle cx="532.2" cy="122.16" r="1.3" stroke="#1f1fff" stroke-width="0.8" fill="none"/>
<circle cx="556" cy="128.4" r="1.3" stroke="#1f1fff" stroke-width="0.8" fill="none"/>
<circle cx="556" cy="123.72" r="1.3" stroke="#1f1fff" stroke-width="0.8" fill="none"/>
<circle cx="556" cy="120.6" r="1.3" stroke="#1f1fff" stroke-width="0.8" fill="none"/>
<circle cx="556" cy="117.48" r="1.3" stroke="#1f1fff" stroke-width="0.8" fill="none"/>
<circle cx="579.8" cy="128.4" r="1.3" stroke="#1f1fff" stroke-width="0.8" fill="none"/>
<circle cx="579.8" cy="126.84" r="1.3" stroke="#1f1fff" stroke-width="0.8" fill="none"/>
<circle cx="579.8" cy="125.28" r="1.3" stroke="#1f1fff" stroke-width="0.8" fill="none"/>
<polyline points="484.6,126.84 508.4,125.28 532.2,126.84 556,122.16 579.8,127.62" stroke="#1f1fff" stroke-width="1" fill="none" stroke-linejoin="round" />
<circle cx="484.6" cy="100.32" r="1.3" stroke="#ff1f1f" stroke-width="0.8" fill="none"/>
<circle cx="484.6" cy="101.88" r="1.3" stroke="#ff1f1f" stroke-width="0.8" fill="none"/>
<circle cx="484.6" cy="105" r="1.3" stroke="#ff1f1f" stroke-width="0.8" fill="none"/>
<circle cx="484.6" cy="109.68" r="1.3" stroke="#ff1f1f" stroke-width="0.8" fill="none"/>
<circle cx="484.6" cy="112.8" r="1.3" stroke="#ff1f1f" stroke-width="0.8" fill="none"/>
<circle cx="508.4" cy="76.92" r="1.3" stroke="#ff1f1f" stroke-width="0.8" fill="none"/>
<circle cx="508.4" cy="80.04" r="1.3" stroke="#ff1f1f" stroke-width="0.8" fill="none"/>
<circle cx="508.4" cy="81.6" r="1.3" stroke="#ff1f1f" stroke-width="0.8" fill="none"/>
<circle cx="508.4" cy="87.84" r="1.3" stroke="#ff1f1f" stroke-width="0.8" fill="none"/>
<circle cx="532.2" cy="66" r="1.3" stroke="#ff1f1f" stroke-width="0.8" fill="none"/>
<circle cx="532.2" cy="67.56" r="1.3" stroke="#ff1f1f" stroke-width="0.8" fill="none"/>
<circle cx="532.2" cy="69.12" r="1.3" stroke="#ff1f1f" stroke-width="0.8" fill="none"/>
<circle cx="532.2" cy="72.24" r="1.3" stroke="#ff1f1f" stroke-width="0.8" fill="none"/>
<circle cx="556" cy="80.04" r="1.3" stroke="#ff1f1f" stroke-width="0.8" fill="none"/>
<circle cx="556" cy="83.16" r="1.3" stroke="#ff1f1f" stroke-width="0.8" fill="none"/>
<circle cx="556" cy="84.72" r="1.3" stroke="#ff1f1f" stroke-width="0.8" fill="none"/>
<circle cx="556" cy="86.28" r="1.3" stroke="#ff1f1f" stroke-width="0.8" fill="none"/>
<circle cx="579.8" cy="101.88" r="1.3" stroke="#ff1f1f" stroke-width="0.8" fill="none"/>
<circle cx="579.8" cy="103.44" r="1.3" stroke="#ff1f1f" stroke-width="0.8" fill="none"/>
<circle cx="579.8" cy="106.56" r="1.3" stroke="#ff1f1f" stroke-width="0.8" fill="none"/>
<polyline points="484.6,105 508.4,81.6 532.2,70.68 556,83.16 579.8,105" stroke="#ff1f1f" stroke-width="1" fill="none" stroke-linejoin="round" />
<circle cx="484.6" cy="119.04" r="1.3" stroke="#1a1a1a" stroke-width="0.8" fill="none"/>
<circle cx="484.6" cy="120.6" r="1.3" stroke="#1a1a1a" stroke-width="0.8" fill="none"/>
<circle cx="508.4" cy="59.76" r="1.3" stroke="#1a1a1a" stroke-width="0.8" fill="none"/>
<circle cx="508.4" cy="66" r="1.3" stroke="#1a1a1a" stroke-width="0.8" fill="none"/>
<circle cx="508.4" cy="58.2" r="1.3" stroke="#1a1a1a" stroke-width="0.8" fill="none"/>
<circle cx="532.2" cy="72.24" r="1.3" stroke="#1a1a1a" stroke-width="0.8" fill="none"/>
<circle cx="532.2" cy="75.36" r="1.3" stroke="#1a1a1a" stroke-width="0.8" fill="none"/>
<circle cx="532.2" cy="81.6" r="1.3" stroke="#1a1a1a" stroke-width="0.8" fill="none"/>
<circle cx="532.2" cy="84.72" r="1.3" stroke="#1a1a1a" stroke-width="0.8" fill="none"/>
<circle cx="556" cy="70.68" r="1.3" stroke="#1a1a1a" stroke-width="0.8" fill="none"/>
<circle cx="556" cy="73.8" r="1.3" stroke="#1a1a1a" stroke-width="0.8" fill="none"/>
<circle cx="556" cy="76.92" r="1.3" stroke="#1a1a1a" stroke-width="0.8" fill="none"/>
<circle cx="556" cy="80.04" r="1.3" stroke="#1a1a1a" stroke-width="0.8" fill="none"/>
<circle cx="579.8" cy="117.48" r="1.3" stroke="#1a1a1a" stroke-width="0.8" fill="none"/>
<circle cx="579.8" cy="114.36" r="1.3" stroke="#1a1a1a" stroke-width="0.8" fill="none"/>
<polyline points="484.6,119.04 508.4,59.76 532.2,75.36 556,75.36 579.8,115.92" stroke="#1a1a1a" stroke-width="1" fill="none" stroke-linejoin="round" />
<circle cx="484.6" cy="123.72" r="1.3" stroke="#a020f0" stroke-width="0.8" fill="none"/>
<circle cx="484.6" cy="120.6" r="1.3" stroke="#a020f0" stroke-width="0.8" fill="none"/>
<circle cx="484.6" cy="119.04" r="1.3" stroke="#a020f0" stroke-width="0.8" fill="none"/>
<circle cx="508.4" cy="119.04" r="1.3" stroke="#a020f0" stroke-width="0.8" fill="none"/>
<circle cx="508.4" cy="117.48" r="1.3" stroke="#a020f0" stroke-width="0.8" fill="none"/>
<circle cx="508.4" cy="115.92" r="1.3" stroke="#a020f0" stroke-width="0.8" fill="none"/>
<circle cx="532.2" cy="78.48" r="1.3" stroke="#a020f0" stroke-width="0.8" fill="none"/>
<circle cx="532.2" cy="81.6" r="1.3" stroke="#a020f0" stroke-width="0.8" fill="none"/>
<circle cx="532.2" cy="84.72" r="1.3" stroke="#a020f0" stroke-width="0.8" fill="none"/>
<circle cx="532.2" cy="86.28" r="1.3" stroke="#a020f0" stroke-width="0.8" fill="none"/>
<circle cx="556" cy="69.12" r="1.3" stroke="#a020f0" stroke-width="0.8" fill="none"/>
<circle cx="556" cy="70.68" r="1.3" stroke="#a020f0" stroke-width="0.8" fill="none"/>
<circle cx="556" cy="72.24" r="1.3" stroke="#a020f0" stroke-width="0.8" fill="none"/>
<circle cx="556" cy="75.36" r="1.3" stroke="#a020f0" stroke-width="0.8" fill="none"/>
<circle cx="556" cy="76.92" r="1.3" stroke="#a020f0" stroke-width="0.8" fill="none"/>
<circle cx="579.8" cy="119.04" r="1.3" stroke="#a020f0" stroke-width="0.8" fill="none"/>
<circle cx="579.8" cy="115.92" r="1.3" stroke="#a020f0" stroke-width="0.8" fill="none"/>
<circle cx="579.8" cy="112.8" r="1.3" stroke="#a020f0" stroke-width="0.8" fill="none"/>
<circle cx="579.8" cy="111.24" r="1.3" stroke="#a020f0" stroke-width="0.8" fill="none"/>
<polyline points="484.6,120.6 508.4,117.48 532.2,83.16 556,75.36 579.8,114.36" stroke="#a020f0" stroke-width="1" fill="none" stroke-linejoin="round" />
<line x1="596" y1="61.6" x2="608" y2="61.6" stroke="#1f1fff" stroke-width="1" />
<circle cx="602" cy="61.6" r="1.1" stroke="#1f1fff" stroke-width="0" fill="#1f1fff"/>
<text x="611" y="64.1" font-size="7.4" fill="#333" >CD8 dep</text>
<line x1="596" y1="72.95" x2="608" y2="72.95" stroke="#ff1f1f" stroke-width="1" />
<circle cx="602" cy="72.95" r="1.1" stroke="#ff1f1f" stroke-width="0" fill="#ff1f1f"/>
<text x="611" y="75.45" font-size="7.4" fill="#333" >CD4 dep</text>
<line x1="596" y1="84.3" x2="608" y2="84.3" stroke="#a020f0" stroke-width="1" />
<circle cx="602" cy="84.3" r="1.1" stroke="#a020f0" stroke-width="0" fill="#a020f0"/>
<text x="611" y="86.8" font-size="7.4" fill="#333" >CD20 dep</text>
<line x1="596" y1="95.65" x2="608" y2="95.65" stroke="#1a1a1a" stroke-width="1" />
<circle cx="602" cy="95.65" r="1.1" stroke="#1a1a1a" stroke-width="0" fill="#1a1a1a"/>
<text x="611" y="98.15" font-size="7.4" fill="#333" >No dep</text>
<line x1="596" y1="107" x2="608" y2="107" stroke="#dcdcdc" stroke-width="1" />
<circle cx="602" cy="107" r="1.1" stroke="#dcdcdc" stroke-width="0" fill="#dcdcdc"/>
<text x="611" y="109.5" font-size="7.4" fill="#333" >No dep.ConA/LPS</text>
<line x1="646.6" y1="59.6" x2="646.6" y2="101" stroke="#333" stroke-width="0.9" />
<line x1="645" y1="59.6" x2="648.2" y2="59.6" stroke="#333" stroke-width="0.9" />
<line x1="645" y1="101" x2="648.2" y2="101" stroke="#333" stroke-width="0.9" />
<text x="650.6" y="66" font-size="7.3" fill="#333" >ConA/</text>
<text x="651" y="75" font-size="7.3" fill="#333" >LPS</text>
<text x="657.3" y="82.3" font-size="7.3" text-anchor="middle" fill="#333" >+</text>
<text x="649.4" y="91.6" font-size="7.5" fill="#333" >anti-4-1BB</text>
<text x="-0.2" y="198.3" font-size="14" font-weight="bold" fill="#1a1212" >c</text>
<rect x="45.95" y="257.34" width="0.8" height="0.8" fill="#4f7fc0" opacity="0.5"/>
<rect x="38.78" y="257.06" width="0.8" height="0.8" fill="#4f7fc0" opacity="0.5"/>
<rect x="40.43" y="257.7" width="0.8" height="0.8" fill="#4f7fc0" opacity="0.5"/>
<rect x="46.17" y="252.01" width="0.8" height="0.8" fill="#4f7fc0" opacity="0.5"/>
<rect x="45.55" y="250.24" width="0.8" height="0.8" fill="#4f7fc0" opacity="0.5"/>
<rect x="37.66" y="250.88" width="0.8" height="0.8" fill="#4f7fc0" opacity="0.5"/>
<rect x="39.75" y="253.3" width="0.8" height="0.8" fill="#4f7fc0" opacity="0.5"/>
<rect x="42.47" y="256.14" width="0.8" height="0.8" fill="#4f7fc0" opacity="0.5"/>
<rect x="43.38" y="258.43" width="0.8" height="0.8" fill="#4f7fc0" opacity="0.5"/>
<rect x="54.09" y="244.78" width="0.8" height="0.8" fill="#4f7fc0" opacity="0.5"/>
<rect x="45.19" y="249.03" width="0.8" height="0.8" fill="#4f7fc0" opacity="0.5"/>
<rect x="42.84" y="258.35" width="0.8" height="0.8" fill="#4f7fc0" opacity="0.5"/>
<rect x="46.23" y="245.9" width="0.8" height="0.8" fill="#4f7fc0" opacity="0.5"/>
<rect x="44.58" y="248.23" width="0.8" height="0.8" fill="#4f7fc0" opacity="0.5"/>
<rect x="50.44" y="237.87" width="0.8" height="0.8" fill="#4f7fc0" opacity="0.5"/>
<rect x="40.28" y="246.6" width="0.8" height="0.8" fill="#4f7fc0" opacity="0.5"/>
<rect x="47.54" y="253.27" width="0.8" height="0.8" fill="#4f7fc0" opacity="0.5"/>
<rect x="37.59" y="259.39" width="0.8" height="0.8" fill="#4f7fc0" opacity="0.5"/>
<rect x="40.97" y="256.83" width="0.8" height="0.8" fill="#4f7fc0" opacity="0.5"/>
<rect x="49.3" y="240.14" width="0.8" height="0.8" fill="#4f7fc0" opacity="0.5"/>
<rect x="50.59" y="243.78" width="0.8" height="0.8" fill="#4f7fc0" opacity="0.5"/>
<rect x="44.17" y="245.28" width="0.8" height="0.8" fill="#4f7fc0" opacity="0.5"/>
<rect x="56.73" y="237.5" width="0.8" height="0.8" fill="#4f7fc0" opacity="0.5"/>
<rect x="54.05" y="247.12" width="0.8" height="0.8" fill="#4f7fc0" opacity="0.5"/>
<rect x="55.15" y="245.25" width="0.8" height="0.8" fill="#4f7fc0" opacity="0.5"/>
<rect x="39.8" y="257.46" width="0.8" height="0.8" fill="#4f7fc0" opacity="0.5"/>
<rect x="39.5" y="258.32" width="0.8" height="0.8" fill="#4f7fc0" opacity="0.5"/>
<rect x="45.73" y="258.84" width="0.8" height="0.8" fill="#4f7fc0" opacity="0.5"/>
<rect x="41.61" y="259.72" width="0.8" height="0.8" fill="#4f7fc0" opacity="0.5"/>
<rect x="57.05" y="240.17" width="0.8" height="0.8" fill="#4f7fc0" opacity="0.5"/>
<rect x="51.38" y="244.24" width="0.8" height="0.8" fill="#4f7fc0" opacity="0.5"/>
<rect x="52.1" y="242.48" width="0.8" height="0.8" fill="#4f7fc0" opacity="0.5"/>
<rect x="49.52" y="248.15" width="0.8" height="0.8" fill="#4f7fc0" opacity="0.5"/>
<rect x="42.6" y="258.54" width="0.8" height="0.8" fill="#4f7fc0" opacity="0.5"/>
<rect x="38.75" y="255.92" width="0.8" height="0.8" fill="#4f7fc0" opacity="0.5"/>
<rect x="45.72" y="255.13" width="0.8" height="0.8" fill="#4f7fc0" opacity="0.5"/>
<rect x="37.25" y="249.91" width="0.8" height="0.8" fill="#4f7fc0" opacity="0.5"/>
<rect x="44.18" y="243.68" width="0.8" height="0.8" fill="#4f7fc0" opacity="0.5"/>
<rect x="56.44" y="247.25" width="0.8" height="0.8" fill="#4f7fc0" opacity="0.5"/>
<rect x="56.05" y="236.2" width="0.8" height="0.8" fill="#4f7fc0" opacity="0.5"/>
<rect x="43.21" y="253.25" width="0.8" height="0.8" fill="#4f7fc0" opacity="0.5"/>
<rect x="49.47" y="246.44" width="0.8" height="0.8" fill="#4f7fc0" opacity="0.5"/>
<rect x="43.54" y="258.11" width="0.8" height="0.8" fill="#4f7fc0" opacity="0.5"/>
<rect x="42.63" y="257.78" width="0.8" height="0.8" fill="#4f7fc0" opacity="0.5"/>
<rect x="40.99" y="257.81" width="0.8" height="0.8" fill="#4f7fc0" opacity="0.5"/>
<rect x="51.3" y="236.26" width="0.8" height="0.8" fill="#4f7fc0" opacity="0.5"/>
<rect x="41.11" y="257.44" width="0.8" height="0.8" fill="#4f7fc0" opacity="0.5"/>
<rect x="46.43" y="250.28" width="0.8" height="0.8" fill="#4f7fc0" opacity="0.5"/>
<rect x="44.08" y="250.77" width="0.8" height="0.8" fill="#4f7fc0" opacity="0.5"/>
<rect x="40.25" y="259.09" width="0.8" height="0.8" fill="#4f7fc0" opacity="0.5"/>
<rect x="52.57" y="240.23" width="0.8" height="0.8" fill="#4f7fc0" opacity="0.5"/>
<rect x="52.38" y="234.49" width="0.8" height="0.8" fill="#4f7fc0" opacity="0.5"/>
<rect x="50.7" y="249.28" width="0.8" height="0.8" fill="#4f7fc0" opacity="0.5"/>
<rect x="60.06" y="228.56" width="0.8" height="0.8" fill="#4f7fc0" opacity="0.5"/>
<rect x="41.6" y="256.36" width="0.8" height="0.8" fill="#4f7fc0" opacity="0.5"/>
<rect x="44.24" y="240.09" width="0.8" height="0.8" fill="#4f7fc0" opacity="0.5"/>
<rect x="44.45" y="259.06" width="0.8" height="0.8" fill="#4f7fc0" opacity="0.5"/>
<rect x="60.6" y="227.01" width="0.8" height="0.8" fill="#4f7fc0" opacity="0.5"/>
<rect x="51.7" y="236.96" width="0.8" height="0.8" fill="#4f7fc0" opacity="0.5"/>
<rect x="45.74" y="249.91" width="0.8" height="0.8" fill="#4f7fc0" opacity="0.5"/>
<rect x="40.68" y="259.9" width="0.8" height="0.8" fill="#4f7fc0" opacity="0.5"/>
<rect x="53.22" y="243.02" width="0.8" height="0.8" fill="#4f7fc0" opacity="0.5"/>
<rect x="65.45" y="234.65" width="0.8" height="0.8" fill="#4f7fc0" opacity="0.5"/>
<rect x="44.38" y="255.14" width="0.8" height="0.8" fill="#4f7fc0" opacity="0.5"/>
<rect x="43.2" y="259.83" width="0.8" height="0.8" fill="#4f7fc0" opacity="0.5"/>
<rect x="56.32" y="232.73" width="0.8" height="0.8" fill="#4f7fc0" opacity="0.5"/>
<rect x="49.05" y="243.91" width="0.8" height="0.8" fill="#4f7fc0" opacity="0.5"/>
<rect x="54.07" y="241.72" width="0.8" height="0.8" fill="#4f7fc0" opacity="0.5"/>
<rect x="48.07" y="242.55" width="0.8" height="0.8" fill="#4f7fc0" opacity="0.5"/>
<rect x="47.74" y="247.08" width="0.8" height="0.8" fill="#4f7fc0" opacity="0.5"/>
<rect x="51.7" y="236.91" width="0.8" height="0.8" fill="#4f7fc0" opacity="0.5"/>
<rect x="54.32" y="232.42" width="0.8" height="0.8" fill="#4f7fc0" opacity="0.5"/>
<rect x="44.93" y="261.8" width="0.8" height="0.8" fill="#4f7fc0" opacity="0.5"/>
<rect x="56.2" y="246.25" width="0.8" height="0.8" fill="#4f7fc0" opacity="0.5"/>
<rect x="53.21" y="230.26" width="0.8" height="0.8" fill="#4f7fc0" opacity="0.5"/>
<rect x="47.13" y="248.85" width="0.8" height="0.8" fill="#4f7fc0" opacity="0.5"/>
<rect x="52.06" y="229.7" width="0.8" height="0.8" fill="#4f7fc0" opacity="0.5"/>
<rect x="46.3" y="239.2" width="0.8" height="0.8" fill="#4f7fc0" opacity="0.5"/>
<rect x="52.8" y="242.59" width="0.8" height="0.8" fill="#4f7fc0" opacity="0.5"/>
<rect x="43.33" y="258.31" width="0.8" height="0.8" fill="#4f7fc0" opacity="0.5"/>
<rect x="41.42" y="255.85" width="0.8" height="0.8" fill="#4f7fc0" opacity="0.5"/>
<rect x="51" y="240.3" width="0.8" height="0.8" fill="#4f7fc0" opacity="0.5"/>
<rect x="50.3" y="245.41" width="0.8" height="0.8" fill="#4f7fc0" opacity="0.5"/>
<rect x="48.72" y="236.15" width="0.8" height="0.8" fill="#4f7fc0" opacity="0.5"/>
<rect x="49.87" y="249.54" width="0.8" height="0.8" fill="#4f7fc0" opacity="0.5"/>
<rect x="46.89" y="256.47" width="0.8" height="0.8" fill="#4f7fc0" opacity="0.5"/>
<rect x="37.59" y="257.22" width="0.8" height="0.8" fill="#4f7fc0" opacity="0.5"/>
<rect x="44.99" y="251.84" width="0.8" height="0.8" fill="#4f7fc0" opacity="0.5"/>
<rect x="47.2" y="246.68" width="0.8" height="0.8" fill="#4f7fc0" opacity="0.5"/>
<rect x="46.96" y="250.84" width="0.8" height="0.8" fill="#4f7fc0" opacity="0.5"/>
<rect x="45.89" y="241.22" width="0.8" height="0.8" fill="#4f7fc0" opacity="0.5"/>
<rect x="54.26" y="239.69" width="0.8" height="0.8" fill="#4f7fc0" opacity="0.5"/>
<rect x="43.64" y="246.44" width="0.8" height="0.8" fill="#4f7fc0" opacity="0.5"/>
<rect x="44.96" y="245.46" width="0.8" height="0.8" fill="#4f7fc0" opacity="0.5"/>
<rect x="50.25" y="248.53" width="0.8" height="0.8" fill="#4f7fc0" opacity="0.5"/>
<rect x="56.21" y="236.59" width="0.8" height="0.8" fill="#4f7fc0" opacity="0.5"/>
<rect x="53.01" y="245.86" width="0.8" height="0.8" fill="#4f7fc0" opacity="0.5"/>
<rect x="43.72" y="258.97" width="0.8" height="0.8" fill="#4f7fc0" opacity="0.5"/>
<rect x="41.29" y="258.65" width="0.8" height="0.8" fill="#4f7fc0" opacity="0.5"/>
<rect x="50.54" y="237.23" width="0.8" height="0.8" fill="#4f7fc0" opacity="0.5"/>
<rect x="40.92" y="252.86" width="0.8" height="0.8" fill="#4f7fc0" opacity="0.5"/>
<rect x="46.89" y="252.16" width="0.8" height="0.8" fill="#4f7fc0" opacity="0.5"/>
<rect x="45" y="254.97" width="0.8" height="0.8" fill="#4f7fc0" opacity="0.5"/>
<rect x="51.85" y="249.7" width="0.8" height="0.8" fill="#4f7fc0" opacity="0.5"/>
<rect x="38.85" y="258.01" width="0.8" height="0.8" fill="#4f7fc0" opacity="0.5"/>
<rect x="44.52" y="256.01" width="0.8" height="0.8" fill="#4f7fc0" opacity="0.5"/>
<rect x="54.69" y="243.74" width="0.8" height="0.8" fill="#4f7fc0" opacity="0.5"/>
<rect x="47.84" y="251.59" width="0.8" height="0.8" fill="#4f7fc0" opacity="0.5"/>
<rect x="46.77" y="246.15" width="0.8" height="0.8" fill="#4f7fc0" opacity="0.5"/>
<rect x="58.55" y="221.79" width="0.8" height="0.8" fill="#4f7fc0" opacity="0.5"/>
<rect x="41.33" y="258.07" width="0.8" height="0.8" fill="#4f7fc0" opacity="0.5"/>
<rect x="50.79" y="243.29" width="0.8" height="0.8" fill="#4f7fc0" opacity="0.5"/>
<rect x="49.65" y="248.68" width="0.8" height="0.8" fill="#4f7fc0" opacity="0.5"/>
<rect x="46.47" y="260.25" width="0.8" height="0.8" fill="#4f7fc0" opacity="0.5"/>
<rect x="46.66" y="246.41" width="0.8" height="0.8" fill="#4f7fc0" opacity="0.5"/>
<rect x="40.11" y="255.19" width="0.8" height="0.8" fill="#4f7fc0" opacity="0.5"/>
<rect x="44.68" y="256.22" width="0.8" height="0.8" fill="#4f7fc0" opacity="0.5"/>
<rect x="58.35" y="244.41" width="0.8" height="0.8" fill="#4f7fc0" opacity="0.5"/>
<rect x="43.08" y="255.48" width="0.8" height="0.8" fill="#4f7fc0" opacity="0.5"/>
<rect x="37.28" y="251.36" width="0.8" height="0.8" fill="#4f7fc0" opacity="0.5"/>
<rect x="45.22" y="257.49" width="0.8" height="0.8" fill="#4f7fc0" opacity="0.5"/>
<rect x="43.8" y="256.53" width="0.8" height="0.8" fill="#4f7fc0" opacity="0.5"/>
<rect x="41.8" y="259.95" width="0.8" height="0.8" fill="#4f7fc0" opacity="0.5"/>
<rect x="43.39" y="251.87" width="0.8" height="0.8" fill="#4f7fc0" opacity="0.5"/>
<rect x="47.27" y="252.46" width="0.8" height="0.8" fill="#4f7fc0" opacity="0.5"/>
<rect x="41.02" y="258.42" width="0.8" height="0.8" fill="#4f7fc0" opacity="0.5"/>
<rect x="47.78" y="242.01" width="0.8" height="0.8" fill="#4f7fc0" opacity="0.5"/>
<rect x="46.95" y="249.8" width="0.8" height="0.8" fill="#4f7fc0" opacity="0.5"/>
<rect x="47.58" y="241.8" width="0.8" height="0.8" fill="#4f7fc0" opacity="0.5"/>
<rect x="48.42" y="242.31" width="0.8" height="0.8" fill="#4f7fc0" opacity="0.5"/>
<rect x="52.61" y="243.89" width="0.8" height="0.8" fill="#4f7fc0" opacity="0.5"/>
<rect x="50.62" y="233.76" width="0.8" height="0.8" fill="#4f7fc0" opacity="0.5"/>
<rect x="43.94" y="252.96" width="0.8" height="0.8" fill="#4f7fc0" opacity="0.5"/>
<rect x="45.54" y="258.94" width="0.8" height="0.8" fill="#4f7fc0" opacity="0.5"/>
<rect x="43.31" y="256.2" width="0.8" height="0.8" fill="#4f7fc0" opacity="0.5"/>
<rect x="56.59" y="234.58" width="0.8" height="0.8" fill="#4f7fc0" opacity="0.5"/>
<rect x="43.1" y="257.08" width="0.8" height="0.8" fill="#4f7fc0" opacity="0.5"/>
<rect x="47.22" y="253.68" width="0.8" height="0.8" fill="#4f7fc0" opacity="0.5"/>
<rect x="50.16" y="253.24" width="0.8" height="0.8" fill="#4f7fc0" opacity="0.5"/>
<rect x="47.02" y="257.2" width="0.8" height="0.8" fill="#4f7fc0" opacity="0.5"/>
<rect x="43.21" y="254.28" width="0.8" height="0.8" fill="#4f7fc0" opacity="0.5"/>
<rect x="40.68" y="253.22" width="0.8" height="0.8" fill="#4f7fc0" opacity="0.5"/>
<rect x="41.88" y="256.07" width="0.8" height="0.8" fill="#4f7fc0" opacity="0.5"/>
<rect x="45.2" y="256.56" width="0.8" height="0.8" fill="#4f7fc0" opacity="0.5"/>
<rect x="43.3" y="258.16" width="0.8" height="0.8" fill="#4f7fc0" opacity="0.5"/>
<rect x="39.51" y="253.82" width="0.8" height="0.8" fill="#4f7fc0" opacity="0.5"/>
<rect x="47.11" y="237.08" width="0.8" height="0.8" fill="#4f7fc0" opacity="0.5"/>
<rect x="50.32" y="240.06" width="0.8" height="0.8" fill="#4f7fc0" opacity="0.5"/>
<rect x="59.95" y="239.5" width="0.8" height="0.8" fill="#4f7fc0" opacity="0.5"/>
<rect x="54.96" y="247.51" width="0.8" height="0.8" fill="#4f7fc0" opacity="0.5"/>
<rect x="48.66" y="232.2" width="0.8" height="0.8" fill="#4f7fc0" opacity="0.5"/>
<rect x="54.9" y="243.85" width="0.8" height="0.8" fill="#4f7fc0" opacity="0.5"/>
<rect x="49.02" y="244.55" width="0.8" height="0.8" fill="#4f7fc0" opacity="0.5"/>
<rect x="44.62" y="235.23" width="0.8" height="0.8" fill="#4f7fc0" opacity="0.5"/>
<rect x="48.22" y="241.92" width="0.8" height="0.8" fill="#4f7fc0" opacity="0.5"/>
<rect x="42.71" y="259.73" width="0.8" height="0.8" fill="#4f7fc0" opacity="0.5"/>
<rect x="43.15" y="254.41" width="0.8" height="0.8" fill="#4f7fc0" opacity="0.5"/>
<rect x="44.36" y="242.31" width="0.8" height="0.8" fill="#4f7fc0" opacity="0.5"/>
<rect x="51.57" y="250.15" width="0.8" height="0.8" fill="#4f7fc0" opacity="0.5"/>
<rect x="45.66" y="242.19" width="0.8" height="0.8" fill="#4f7fc0" opacity="0.5"/>
<rect x="54.13" y="247.55" width="0.8" height="0.8" fill="#4f7fc0" opacity="0.5"/>
<rect x="44.63" y="256.24" width="0.8" height="0.8" fill="#4f7fc0" opacity="0.5"/>
<rect x="51.79" y="248.91" width="0.8" height="0.8" fill="#4f7fc0" opacity="0.5"/>
<rect x="50.98" y="234.13" width="0.8" height="0.8" fill="#4f7fc0" opacity="0.5"/>
<rect x="43.4" y="245.28" width="0.8" height="0.8" fill="#4f7fc0" opacity="0.5"/>
<rect x="47.04" y="245.35" width="0.8" height="0.8" fill="#4f7fc0" opacity="0.5"/>
<rect x="41.59" y="261.27" width="0.8" height="0.8" fill="#4f7fc0" opacity="0.5"/>
<rect x="42.82" y="254.08" width="0.8" height="0.8" fill="#4f7fc0" opacity="0.5"/>
<rect x="40.71" y="261.61" width="0.8" height="0.8" fill="#4f7fc0" opacity="0.5"/>
<rect x="47.94" y="241.38" width="0.8" height="0.8" fill="#4f7fc0" opacity="0.5"/>
<rect x="42.61" y="250.13" width="0.8" height="0.8" fill="#4f7fc0" opacity="0.5"/>
<rect x="42.89" y="256.08" width="0.8" height="0.8" fill="#4f7fc0" opacity="0.5"/>
<rect x="56.26" y="233.54" width="0.8" height="0.8" fill="#4f7fc0" opacity="0.5"/>
<rect x="48.86" y="243.26" width="0.8" height="0.8" fill="#4f7fc0" opacity="0.5"/>
<rect x="44.92" y="253.2" width="0.8" height="0.8" fill="#4f7fc0" opacity="0.5"/>
<rect x="56.14" y="240.81" width="0.8" height="0.8" fill="#4f7fc0" opacity="0.5"/>
<rect x="35.09" y="255.9" width="0.8" height="0.8" fill="#4f7fc0" opacity="0.5"/>
<rect x="42.96" y="254.13" width="0.8" height="0.8" fill="#4f7fc0" opacity="0.5"/>
<rect x="52.49" y="234.42" width="0.8" height="0.8" fill="#4f7fc0" opacity="0.5"/>
<rect x="52.66" y="237.05" width="0.8" height="0.8" fill="#4f7fc0" opacity="0.5"/>
<rect x="38.16" y="258.15" width="0.8" height="0.8" fill="#4f7fc0" opacity="0.5"/>
<rect x="44.89" y="256.38" width="0.8" height="0.8" fill="#4f7fc0" opacity="0.5"/>
<rect x="43.47" y="253.9" width="0.8" height="0.8" fill="#4f7fc0" opacity="0.5"/>
<rect x="51.52" y="240.54" width="0.8" height="0.8" fill="#4f7fc0" opacity="0.5"/>
<rect x="52.11" y="226.72" width="0.8" height="0.8" fill="#4f7fc0" opacity="0.5"/>
<rect x="41.07" y="256.62" width="0.8" height="0.8" fill="#4f7fc0" opacity="0.5"/>
<rect x="52.29" y="230.74" width="0.8" height="0.8" fill="#4f7fc0" opacity="0.5"/>
<rect x="44.7" y="252.54" width="0.8" height="0.8" fill="#4f7fc0" opacity="0.5"/>
<rect x="42.49" y="255.48" width="0.8" height="0.8" fill="#4f7fc0" opacity="0.5"/>
<rect x="54.5" y="238.98" width="0.8" height="0.8" fill="#4f7fc0" opacity="0.5"/>
<rect x="47.29" y="252.41" width="0.8" height="0.8" fill="#4f7fc0" opacity="0.5"/>
<rect x="61.06" y="229.31" width="0.8" height="0.8" fill="#4f7fc0" opacity="0.5"/>
<rect x="55.41" y="241.66" width="0.8" height="0.8" fill="#4f7fc0" opacity="0.5"/>
<rect x="46.55" y="247.36" width="0.8" height="0.8" fill="#4f7fc0" opacity="0.5"/>
<rect x="44.04" y="244.75" width="0.8" height="0.8" fill="#4f7fc0" opacity="0.5"/>
<rect x="48.17" y="246.73" width="0.8" height="0.8" fill="#4f7fc0" opacity="0.5"/>
<rect x="57.72" y="239.41" width="0.8" height="0.8" fill="#4f7fc0" opacity="0.5"/>
<rect x="42.28" y="258.11" width="0.8" height="0.8" fill="#4f7fc0" opacity="0.5"/>
<rect x="55.01" y="240.54" width="0.8" height="0.8" fill="#4f7fc0" opacity="0.5"/>
<rect x="40.48" y="253.32" width="0.8" height="0.8" fill="#4f7fc0" opacity="0.5"/>
<rect x="42.84" y="258.14" width="0.8" height="0.8" fill="#4f7fc0" opacity="0.5"/>
<rect x="50.77" y="236.71" width="0.8" height="0.8" fill="#4f7fc0" opacity="0.5"/>
<rect x="58.52" y="236.54" width="0.8" height="0.8" fill="#4f7fc0" opacity="0.5"/>
<rect x="42.06" y="258.02" width="0.8" height="0.8" fill="#4f7fc0" opacity="0.5"/>
<rect x="45.53" y="254.69" width="0.8" height="0.8" fill="#4f7fc0" opacity="0.5"/>
<rect x="37.37" y="252.63" width="0.8" height="0.8" fill="#4f7fc0" opacity="0.5"/>
<rect x="47.05" y="244.31" width="0.8" height="0.8" fill="#4f7fc0" opacity="0.5"/>
<rect x="44.18" y="251.21" width="0.8" height="0.8" fill="#4f7fc0" opacity="0.5"/>
<rect x="39.99" y="264.48" width="0.8" height="0.8" fill="#4f7fc0" opacity="0.5"/>
<rect x="37.78" y="257.01" width="0.8" height="0.8" fill="#4f7fc0" opacity="0.5"/>
<rect x="53.55" y="241.5" width="0.8" height="0.8" fill="#4f7fc0" opacity="0.5"/>
<rect x="40.14" y="257.11" width="0.8" height="0.8" fill="#4f7fc0" opacity="0.5"/>
<rect x="60.17" y="227.45" width="0.8" height="0.8" fill="#4f7fc0" opacity="0.5"/>
<rect x="45.04" y="258.77" width="0.8" height="0.8" fill="#4f7fc0" opacity="0.5"/>
<rect x="47.97" y="237.99" width="0.8" height="0.8" fill="#4f7fc0" opacity="0.5"/>
<rect x="36.38" y="261.75" width="0.8" height="0.8" fill="#4f7fc0" opacity="0.5"/>
<rect x="58.75" y="231.01" width="0.8" height="0.8" fill="#4f7fc0" opacity="0.5"/>
<rect x="43.88" y="256.34" width="0.8" height="0.8" fill="#4f7fc0" opacity="0.5"/>
<rect x="43.04" y="241.98" width="0.8" height="0.8" fill="#4f7fc0" opacity="0.5"/>
<rect x="46.03" y="238.01" width="0.8" height="0.8" fill="#4f7fc0" opacity="0.5"/>
<rect x="37.09" y="261.7" width="0.8" height="0.8" fill="#3f72b5" opacity="0.55"/>
<rect x="46.42" y="256.35" width="0.8" height="0.8" fill="#3f72b5" opacity="0.55"/>
<rect x="41.79" y="263.75" width="0.8" height="0.8" fill="#3f72b5" opacity="0.55"/>
<rect x="39.34" y="257.77" width="0.8" height="0.8" fill="#3f72b5" opacity="0.55"/>
<rect x="42.69" y="258.89" width="0.8" height="0.8" fill="#3f72b5" opacity="0.55"/>
<rect x="37.75" y="257.45" width="0.8" height="0.8" fill="#3f72b5" opacity="0.55"/>
<rect x="41.93" y="258.57" width="0.8" height="0.8" fill="#3f72b5" opacity="0.55"/>
<rect x="36.82" y="260.49" width="0.8" height="0.8" fill="#3f72b5" opacity="0.55"/>
<rect x="39.26" y="260.72" width="0.8" height="0.8" fill="#3f72b5" opacity="0.55"/>
<rect x="40.63" y="258.5" width="0.8" height="0.8" fill="#3f72b5" opacity="0.55"/>
<rect x="39.87" y="261.88" width="0.8" height="0.8" fill="#3f72b5" opacity="0.55"/>
<rect x="45.45" y="254.89" width="0.8" height="0.8" fill="#3f72b5" opacity="0.55"/>
<rect x="43.71" y="254.94" width="0.8" height="0.8" fill="#3f72b5" opacity="0.55"/>
<rect x="41.23" y="260.28" width="0.8" height="0.8" fill="#3f72b5" opacity="0.55"/>
<rect x="45.85" y="254.61" width="0.8" height="0.8" fill="#3f72b5" opacity="0.55"/>
<rect x="40.76" y="259.14" width="0.8" height="0.8" fill="#3f72b5" opacity="0.55"/>
<rect x="36.21" y="261.42" width="0.8" height="0.8" fill="#3f72b5" opacity="0.55"/>
<rect x="38.84" y="260.75" width="0.8" height="0.8" fill="#3f72b5" opacity="0.55"/>
<rect x="37.38" y="255.61" width="0.8" height="0.8" fill="#3f72b5" opacity="0.55"/>
<rect x="41.12" y="259.09" width="0.8" height="0.8" fill="#3f72b5" opacity="0.55"/>
<rect x="39.24" y="261.83" width="0.8" height="0.8" fill="#3f72b5" opacity="0.55"/>
<rect x="40.13" y="257.47" width="0.8" height="0.8" fill="#3f72b5" opacity="0.55"/>
<rect x="42.53" y="253.57" width="0.8" height="0.8" fill="#3f72b5" opacity="0.55"/>
<rect x="38.83" y="259.75" width="0.8" height="0.8" fill="#3f72b5" opacity="0.55"/>
<rect x="43.72" y="256.45" width="0.8" height="0.8" fill="#3f72b5" opacity="0.55"/>
<rect x="41.99" y="256.23" width="0.8" height="0.8" fill="#3f72b5" opacity="0.55"/>
<rect x="41.97" y="262.18" width="0.8" height="0.8" fill="#3f72b5" opacity="0.55"/>
<rect x="38.8" y="265.88" width="0.8" height="0.8" fill="#3f72b5" opacity="0.55"/>
<rect x="38.94" y="259.78" width="0.8" height="0.8" fill="#3f72b5" opacity="0.55"/>
<rect x="41.55" y="260.79" width="0.8" height="0.8" fill="#3f72b5" opacity="0.55"/>
<rect x="37.04" y="255.5" width="0.8" height="0.8" fill="#3f72b5" opacity="0.55"/>
<rect x="42.94" y="259.37" width="0.8" height="0.8" fill="#3f72b5" opacity="0.55"/>
<rect x="43" y="264.04" width="0.8" height="0.8" fill="#3f72b5" opacity="0.55"/>
<rect x="41.66" y="258.76" width="0.8" height="0.8" fill="#3f72b5" opacity="0.55"/>
<rect x="43.97" y="257.66" width="0.8" height="0.8" fill="#3f72b5" opacity="0.55"/>
<rect x="46.32" y="252.14" width="0.8" height="0.8" fill="#3f72b5" opacity="0.55"/>
<rect x="39.8" y="250.4" width="0.8" height="0.8" fill="#3f72b5" opacity="0.55"/>
<rect x="43.6" y="255.99" width="0.8" height="0.8" fill="#3f72b5" opacity="0.55"/>
<rect x="43.96" y="262.24" width="0.8" height="0.8" fill="#3f72b5" opacity="0.55"/>
<rect x="40.98" y="257.86" width="0.8" height="0.8" fill="#3f72b5" opacity="0.55"/>
<rect x="39.4" y="257.31" width="0.8" height="0.8" fill="#3f72b5" opacity="0.55"/>
<rect x="38.98" y="261.35" width="0.8" height="0.8" fill="#3f72b5" opacity="0.55"/>
<rect x="41.12" y="258.6" width="0.8" height="0.8" fill="#3f72b5" opacity="0.55"/>
<rect x="40.45" y="261.17" width="0.8" height="0.8" fill="#3f72b5" opacity="0.55"/>
<rect x="42.58" y="257.19" width="0.8" height="0.8" fill="#3f72b5" opacity="0.55"/>
<rect x="43.13" y="256.84" width="0.8" height="0.8" fill="#3f72b5" opacity="0.55"/>
<rect x="37.31" y="264.44" width="0.8" height="0.8" fill="#3f72b5" opacity="0.55"/>
<rect x="42.49" y="255.16" width="0.8" height="0.8" fill="#3f72b5" opacity="0.55"/>
<rect x="44.45" y="257.31" width="0.8" height="0.8" fill="#3f72b5" opacity="0.55"/>
<rect x="35.99" y="265.63" width="0.8" height="0.8" fill="#3f72b5" opacity="0.55"/>
<rect x="42.07" y="260.14" width="0.8" height="0.8" fill="#3f72b5" opacity="0.55"/>
<rect x="41.63" y="257.74" width="0.8" height="0.8" fill="#3f72b5" opacity="0.55"/>
<rect x="36.05" y="263.96" width="0.8" height="0.8" fill="#3f72b5" opacity="0.55"/>
<rect x="41.1" y="257.71" width="0.8" height="0.8" fill="#3f72b5" opacity="0.55"/>
<rect x="42.12" y="258.03" width="0.8" height="0.8" fill="#3f72b5" opacity="0.55"/>
<rect x="43.16" y="256.25" width="0.8" height="0.8" fill="#3f72b5" opacity="0.55"/>
<rect x="40.88" y="253.09" width="0.8" height="0.8" fill="#3f72b5" opacity="0.55"/>
<rect x="39.65" y="261.04" width="0.8" height="0.8" fill="#3f72b5" opacity="0.55"/>
<rect x="45.28" y="255" width="0.8" height="0.8" fill="#3f72b5" opacity="0.55"/>
<rect x="40.61" y="262.79" width="0.8" height="0.8" fill="#3f72b5" opacity="0.55"/>
<rect x="39.96" y="261" width="0.8" height="0.8" fill="#3f72b5" opacity="0.55"/>
<rect x="46.37" y="255.38" width="0.8" height="0.8" fill="#3f72b5" opacity="0.55"/>
<rect x="44.93" y="254.33" width="0.8" height="0.8" fill="#3f72b5" opacity="0.55"/>
<rect x="41.66" y="257.9" width="0.8" height="0.8" fill="#3f72b5" opacity="0.55"/>
<rect x="41.37" y="261.17" width="0.8" height="0.8" fill="#3f72b5" opacity="0.55"/>
<rect x="48.65" y="252.21" width="0.8" height="0.8" fill="#3f72b5" opacity="0.55"/>
<rect x="39.16" y="260.88" width="0.8" height="0.8" fill="#3f72b5" opacity="0.55"/>
<rect x="37.62" y="261.8" width="0.8" height="0.8" fill="#3f72b5" opacity="0.55"/>
<rect x="42.83" y="256.69" width="0.8" height="0.8" fill="#3f72b5" opacity="0.55"/>
<rect x="42.7" y="253.51" width="0.8" height="0.8" fill="#3f72b5" opacity="0.55"/>
<rect x="43.43" y="253.09" width="0.8" height="0.8" fill="#3f72b5" opacity="0.55"/>
<rect x="38.77" y="258.41" width="0.8" height="0.8" fill="#3f72b5" opacity="0.55"/>
<rect x="39.72" y="261.47" width="0.8" height="0.8" fill="#3f72b5" opacity="0.55"/>
<rect x="41.26" y="257.33" width="0.8" height="0.8" fill="#3f72b5" opacity="0.55"/>
<rect x="42.74" y="261.5" width="0.8" height="0.8" fill="#3f72b5" opacity="0.55"/>
<rect x="41.02" y="259.42" width="0.8" height="0.8" fill="#3f72b5" opacity="0.55"/>
<rect x="44.97" y="256.81" width="0.8" height="0.8" fill="#3f72b5" opacity="0.55"/>
<rect x="36.89" y="267.34" width="0.8" height="0.8" fill="#3f72b5" opacity="0.55"/>
<rect x="48.07" y="249.18" width="0.8" height="0.8" fill="#3f72b5" opacity="0.55"/>
<rect x="40.87" y="259.64" width="0.8" height="0.8" fill="#3f72b5" opacity="0.55"/>
<rect x="44.09" y="258.36" width="0.8" height="0.8" fill="#3f72b5" opacity="0.55"/>
<rect x="40.13" y="256.32" width="0.8" height="0.8" fill="#3f72b5" opacity="0.55"/>
<rect x="41.33" y="260.95" width="0.8" height="0.8" fill="#3f72b5" opacity="0.55"/>
<rect x="37.51" y="257.96" width="0.8" height="0.8" fill="#3f72b5" opacity="0.55"/>
<rect x="40.92" y="253.59" width="0.8" height="0.8" fill="#3f72b5" opacity="0.55"/>
<rect x="40.17" y="257.88" width="0.8" height="0.8" fill="#3f72b5" opacity="0.55"/>
<rect x="42.44" y="255.84" width="0.8" height="0.8" fill="#3f72b5" opacity="0.55"/>
<rect x="38.18" y="259.18" width="0.8" height="0.8" fill="#3f72b5" opacity="0.55"/>
<rect x="40.84" y="256.89" width="0.8" height="0.8" fill="#3f72b5" opacity="0.55"/>
<rect x="41.04" y="260.4" width="0.8" height="0.8" fill="#3f72b5" opacity="0.55"/>
<rect x="44.79" y="260.59" width="0.8" height="0.8" fill="#3f72b5" opacity="0.55"/>
<rect x="38.49" y="258.93" width="0.8" height="0.8" fill="#3f72b5" opacity="0.55"/>
<rect x="33.05" y="268.13" width="0.8" height="0.8" fill="#3f72b5" opacity="0.55"/>
<rect x="38.68" y="259.81" width="0.8" height="0.8" fill="#3f72b5" opacity="0.55"/>
<rect x="42.67" y="254.02" width="0.8" height="0.8" fill="#3f72b5" opacity="0.55"/>
<rect x="42.48" y="257.54" width="0.8" height="0.8" fill="#3f72b5" opacity="0.55"/>
<rect x="35.16" y="262.75" width="0.8" height="0.8" fill="#3f72b5" opacity="0.55"/>
<rect x="44.82" y="251.42" width="0.8" height="0.8" fill="#3f72b5" opacity="0.55"/>
<rect x="43.58" y="257.49" width="0.8" height="0.8" fill="#3f72b5" opacity="0.55"/>
<rect x="42.52" y="258.72" width="0.8" height="0.8" fill="#3f72b5" opacity="0.55"/>
<rect x="45.17" y="255.42" width="0.8" height="0.8" fill="#3f72b5" opacity="0.55"/>
<rect x="43.8" y="255.77" width="0.8" height="0.8" fill="#3f72b5" opacity="0.55"/>
<rect x="43.33" y="255.02" width="0.8" height="0.8" fill="#3f72b5" opacity="0.55"/>
<rect x="40.65" y="263.14" width="0.8" height="0.8" fill="#3f72b5" opacity="0.55"/>
<rect x="42.43" y="257.24" width="0.8" height="0.8" fill="#3f72b5" opacity="0.55"/>
<rect x="37.34" y="258.68" width="0.8" height="0.8" fill="#3f72b5" opacity="0.55"/>
<rect x="41.62" y="260.53" width="0.8" height="0.8" fill="#3f72b5" opacity="0.55"/>
<rect x="42.36" y="259.02" width="0.8" height="0.8" fill="#3f72b5" opacity="0.55"/>
<rect x="40.87" y="262.04" width="0.8" height="0.8" fill="#3f72b5" opacity="0.55"/>
<rect x="39.75" y="257.84" width="0.8" height="0.8" fill="#3f72b5" opacity="0.55"/>
<rect x="43.84" y="256.96" width="0.8" height="0.8" fill="#3f72b5" opacity="0.55"/>
<rect x="40.11" y="257.56" width="0.8" height="0.8" fill="#3f72b5" opacity="0.55"/>
<rect x="40.18" y="260.59" width="0.8" height="0.8" fill="#3f72b5" opacity="0.55"/>
<rect x="42.13" y="254.72" width="0.8" height="0.8" fill="#3f72b5" opacity="0.55"/>
<rect x="42.36" y="258.14" width="0.8" height="0.8" fill="#3f72b5" opacity="0.55"/>
<rect x="37.8" y="262.4" width="0.8" height="0.8" fill="#3f72b5" opacity="0.55"/>
<rect x="40.1" y="258.18" width="0.8" height="0.8" fill="#3f72b5" opacity="0.55"/>
<rect x="43.55" y="260.35" width="0.8" height="0.8" fill="#3f72b5" opacity="0.55"/>
<rect x="38.8" y="260.94" width="0.8" height="0.8" fill="#3f72b5" opacity="0.55"/>
<rect x="38.2" y="266.11" width="0.8" height="0.8" fill="#3f72b5" opacity="0.55"/>
<rect x="39.42" y="262.51" width="0.8" height="0.8" fill="#3f72b5" opacity="0.55"/>
<rect x="38.93" y="261.82" width="0.8" height="0.8" fill="#3f72b5" opacity="0.55"/>
<rect x="48.1" y="247.73" width="0.8" height="0.8" fill="#3f72b5" opacity="0.55"/>
<rect x="39.61" y="260.62" width="0.8" height="0.8" fill="#3f72b5" opacity="0.55"/>
<rect x="40.7" y="256.97" width="0.8" height="0.8" fill="#3f72b5" opacity="0.55"/>
<rect x="47.89" y="254.57" width="0.8" height="0.8" fill="#3f72b5" opacity="0.55"/>
<rect x="35.74" y="263.84" width="0.8" height="0.8" fill="#3f72b5" opacity="0.55"/>
<rect x="35.49" y="264.75" width="0.8" height="0.8" fill="#3f72b5" opacity="0.55"/>
<rect x="39.15" y="259.98" width="0.8" height="0.8" fill="#3f72b5" opacity="0.55"/>
<rect x="45.04" y="256.38" width="0.8" height="0.8" fill="#3f72b5" opacity="0.55"/>
<rect x="36.55" y="256.83" width="0.8" height="0.8" fill="#3f72b5" opacity="0.55"/>
<rect x="44.78" y="258.12" width="0.8" height="0.8" fill="#3f72b5" opacity="0.55"/>
<rect x="38.39" y="262.27" width="0.8" height="0.8" fill="#3f72b5" opacity="0.55"/>
<rect x="42.59" y="259.2" width="0.8" height="0.8" fill="#3f72b5" opacity="0.55"/>
<rect x="33.77" y="262.06" width="0.8" height="0.8" fill="#3f72b5" opacity="0.55"/>
<rect x="43.88" y="258.65" width="0.8" height="0.8" fill="#3f72b5" opacity="0.55"/>
<rect x="43.82" y="250.52" width="0.8" height="0.8" fill="#3f72b5" opacity="0.55"/>
<rect x="41.54" y="259.44" width="0.8" height="0.8" fill="#3f72b5" opacity="0.55"/>
<rect x="49.17" y="251.16" width="0.8" height="0.8" fill="#3f72b5" opacity="0.55"/>
<rect x="39.95" y="259.22" width="0.8" height="0.8" fill="#3f72b5" opacity="0.55"/>
<rect x="43.84" y="255.66" width="0.8" height="0.8" fill="#3f72b5" opacity="0.55"/>
<rect x="44.67" y="254.28" width="0.8" height="0.8" fill="#3f72b5" opacity="0.55"/>
<rect x="41.85" y="256.64" width="0.8" height="0.8" fill="#3f72b5" opacity="0.55"/>
<rect x="41.51" y="256.43" width="0.8" height="0.8" fill="#3f72b5" opacity="0.55"/>
<rect x="35.89" y="264.37" width="0.8" height="0.8" fill="#3f72b5" opacity="0.55"/>
<rect x="41.97" y="256.49" width="0.8" height="0.8" fill="#3f72b5" opacity="0.55"/>
<rect x="41.64" y="260.65" width="0.8" height="0.8" fill="#3f72b5" opacity="0.55"/>
<rect x="37.87" y="260.09" width="0.8" height="0.8" fill="#3f72b5" opacity="0.55"/>
<rect x="42.73" y="258.81" width="0.8" height="0.8" fill="#3f72b5" opacity="0.55"/>
<rect x="39.93" y="253.75" width="0.8" height="0.8" fill="#3f72b5" opacity="0.55"/>
<rect x="44.98" y="256.95" width="0.8" height="0.8" fill="#3f72b5" opacity="0.55"/>
<rect x="41.04" y="257.76" width="0.8" height="0.8" fill="#3f72b5" opacity="0.55"/>
<rect x="41.84" y="256.9" width="0.8" height="0.8" fill="#3f72b5" opacity="0.55"/>
<rect x="37.72" y="258.57" width="0.8" height="0.8" fill="#3f72b5" opacity="0.55"/>
<rect x="39.09" y="258.08" width="0.8" height="0.8" fill="#3f72b5" opacity="0.55"/>
<rect x="37.29" y="262.35" width="0.8" height="0.8" fill="#3f72b5" opacity="0.55"/>
<rect x="36.81" y="262.7" width="0.8" height="0.8" fill="#3f72b5" opacity="0.55"/>
<rect x="37.75" y="261.35" width="0.8" height="0.8" fill="#3f72b5" opacity="0.55"/>
<rect x="45.4" y="256.38" width="0.8" height="0.8" fill="#3f72b5" opacity="0.55"/>
<rect x="38.66" y="260.03" width="0.8" height="0.8" fill="#3f72b5" opacity="0.55"/>
<rect x="41.3" y="255.55" width="0.8" height="0.8" fill="#4f9a45" opacity="0.75"/>
<rect x="39.78" y="259.49" width="0.8" height="0.8" fill="#4f9a45" opacity="0.75"/>
<rect x="40.06" y="259.19" width="0.8" height="0.8" fill="#4f9a45" opacity="0.75"/>
<rect x="42.47" y="258.85" width="0.8" height="0.8" fill="#4f9a45" opacity="0.75"/>
<rect x="42.81" y="258.35" width="0.8" height="0.8" fill="#4f9a45" opacity="0.75"/>
<rect x="40.42" y="258.82" width="0.8" height="0.8" fill="#4f9a45" opacity="0.75"/>
<rect x="40.46" y="258.32" width="0.8" height="0.8" fill="#4f9a45" opacity="0.75"/>
<rect x="40.64" y="255.96" width="0.8" height="0.8" fill="#4f9a45" opacity="0.75"/>
<rect x="40.33" y="258.86" width="0.8" height="0.8" fill="#4f9a45" opacity="0.75"/>
<rect x="39.05" y="259.63" width="0.8" height="0.8" fill="#4f9a45" opacity="0.75"/>
<rect x="42.03" y="257.62" width="0.8" height="0.8" fill="#4f9a45" opacity="0.75"/>
<rect x="45.15" y="251.84" width="0.8" height="0.8" fill="#4f9a45" opacity="0.75"/>
<rect x="40.59" y="255.83" width="0.8" height="0.8" fill="#4f9a45" opacity="0.75"/>
<rect x="42.96" y="261.57" width="0.8" height="0.8" fill="#4f9a45" opacity="0.75"/>
<rect x="36" y="261.71" width="0.8" height="0.8" fill="#4f9a45" opacity="0.75"/>
<rect x="42.04" y="257.39" width="0.8" height="0.8" fill="#4f9a45" opacity="0.75"/>
<rect x="42.1" y="254.25" width="0.8" height="0.8" fill="#4f9a45" opacity="0.75"/>
<rect x="42.7" y="258.07" width="0.8" height="0.8" fill="#4f9a45" opacity="0.75"/>
<rect x="41.05" y="257.53" width="0.8" height="0.8" fill="#4f9a45" opacity="0.75"/>
<rect x="42.28" y="256.96" width="0.8" height="0.8" fill="#4f9a45" opacity="0.75"/>
<rect x="41.45" y="257.42" width="0.8" height="0.8" fill="#4f9a45" opacity="0.75"/>
<rect x="36.51" y="261.15" width="0.8" height="0.8" fill="#4f9a45" opacity="0.75"/>
<rect x="41.4" y="259.46" width="0.8" height="0.8" fill="#4f9a45" opacity="0.75"/>
<rect x="39.25" y="259.5" width="0.8" height="0.8" fill="#4f9a45" opacity="0.75"/>
<rect x="42.23" y="257.99" width="0.8" height="0.8" fill="#4f9a45" opacity="0.75"/>
<rect x="43.48" y="260.2" width="0.8" height="0.8" fill="#4f9a45" opacity="0.75"/>
<rect x="39.18" y="256.52" width="0.8" height="0.8" fill="#4f9a45" opacity="0.75"/>
<rect x="42.71" y="259.92" width="0.8" height="0.8" fill="#4f9a45" opacity="0.75"/>
<rect x="42.84" y="258.7" width="0.8" height="0.8" fill="#4f9a45" opacity="0.75"/>
<rect x="39.76" y="258.1" width="0.8" height="0.8" fill="#4f9a45" opacity="0.75"/>
<rect x="42.78" y="255.98" width="0.8" height="0.8" fill="#4f9a45" opacity="0.75"/>
<rect x="37.37" y="259.08" width="0.8" height="0.8" fill="#4f9a45" opacity="0.75"/>
<rect x="45.98" y="258.59" width="0.8" height="0.8" fill="#4f9a45" opacity="0.75"/>
<rect x="39.63" y="258.16" width="0.8" height="0.8" fill="#4f9a45" opacity="0.75"/>
<rect x="41.46" y="257.02" width="0.8" height="0.8" fill="#4f9a45" opacity="0.75"/>
<rect x="43.62" y="256.8" width="0.8" height="0.8" fill="#4f9a45" opacity="0.75"/>
<rect x="38.83" y="261.9" width="0.8" height="0.8" fill="#4f9a45" opacity="0.75"/>
<rect x="39.83" y="259.55" width="0.8" height="0.8" fill="#4f9a45" opacity="0.75"/>
<rect x="40.97" y="258.01" width="0.8" height="0.8" fill="#4f9a45" opacity="0.75"/>
<rect x="41.65" y="257" width="0.8" height="0.8" fill="#4f9a45" opacity="0.75"/>
<rect x="37.31" y="257.18" width="0.8" height="0.8" fill="#4f9a45" opacity="0.75"/>
<rect x="38.47" y="258.81" width="0.8" height="0.8" fill="#4f9a45" opacity="0.75"/>
<rect x="40.95" y="258.62" width="0.8" height="0.8" fill="#4f9a45" opacity="0.75"/>
<rect x="42.11" y="258.02" width="0.8" height="0.8" fill="#4f9a45" opacity="0.75"/>
<rect x="39.41" y="258.32" width="0.8" height="0.8" fill="#4f9a45" opacity="0.75"/>
<rect x="36.76" y="260.77" width="0.8" height="0.8" fill="#4f9a45" opacity="0.75"/>
<rect x="41.97" y="258.77" width="0.8" height="0.8" fill="#4f9a45" opacity="0.75"/>
<rect x="40.76" y="258.37" width="0.8" height="0.8" fill="#4f9a45" opacity="0.75"/>
<rect x="42.87" y="257.4" width="0.8" height="0.8" fill="#4f9a45" opacity="0.75"/>
<rect x="42.48" y="258.55" width="0.8" height="0.8" fill="#4f9a45" opacity="0.75"/>
<rect x="41.43" y="260.33" width="0.8" height="0.8" fill="#4f9a45" opacity="0.75"/>
<rect x="39.85" y="258.61" width="0.8" height="0.8" fill="#4f9a45" opacity="0.75"/>
<rect x="39.38" y="258.19" width="0.8" height="0.8" fill="#4f9a45" opacity="0.75"/>
<rect x="44.11" y="259.45" width="0.8" height="0.8" fill="#4f9a45" opacity="0.75"/>
<rect x="41.05" y="259.38" width="0.8" height="0.8" fill="#4f9a45" opacity="0.75"/>
<rect x="43.35" y="258.38" width="0.8" height="0.8" fill="#4f9a45" opacity="0.75"/>
<rect x="43.41" y="255.03" width="0.8" height="0.8" fill="#4f9a45" opacity="0.75"/>
<rect x="39.72" y="259.99" width="0.8" height="0.8" fill="#4f9a45" opacity="0.75"/>
<rect x="43.87" y="256.94" width="0.8" height="0.8" fill="#4f9a45" opacity="0.75"/>
<rect x="39.28" y="258.96" width="0.8" height="0.8" fill="#4f9a45" opacity="0.75"/>
<rect x="39.68" y="257.92" width="0.8" height="0.8" fill="#4f9a45" opacity="0.75"/>
<rect x="44" y="255.7" width="0.8" height="0.8" fill="#4f9a45" opacity="0.75"/>
<rect x="41.04" y="261.94" width="0.8" height="0.8" fill="#4f9a45" opacity="0.75"/>
<rect x="43.37" y="257.62" width="0.8" height="0.8" fill="#4f9a45" opacity="0.75"/>
<rect x="39.78" y="259.89" width="0.8" height="0.8" fill="#4f9a45" opacity="0.75"/>
<rect x="44.24" y="257.55" width="0.8" height="0.8" fill="#4f9a45" opacity="0.75"/>
<rect x="43.52" y="257.14" width="0.8" height="0.8" fill="#4f9a45" opacity="0.75"/>
<rect x="42.03" y="257.56" width="0.8" height="0.8" fill="#4f9a45" opacity="0.75"/>
<rect x="41.85" y="260.07" width="0.8" height="0.8" fill="#4f9a45" opacity="0.75"/>
<rect x="38.14" y="260.12" width="0.8" height="0.8" fill="#4f9a45" opacity="0.75"/>
<rect x="40.74" y="258.93" width="0.8" height="0.8" fill="#e0b020" opacity="0.9"/>
<rect x="40.19" y="260.29" width="0.8" height="0.8" fill="#e0b020" opacity="0.9"/>
<rect x="42.5" y="260.13" width="0.8" height="0.8" fill="#e0b020" opacity="0.9"/>
<rect x="40.83" y="257.95" width="0.8" height="0.8" fill="#e0b020" opacity="0.9"/>
<rect x="42.43" y="259.58" width="0.8" height="0.8" fill="#e0b020" opacity="0.9"/>
<rect x="40.47" y="258.38" width="0.8" height="0.8" fill="#e0b020" opacity="0.9"/>
<rect x="40.44" y="258.4" width="0.8" height="0.8" fill="#e0b020" opacity="0.9"/>
<rect x="40.57" y="259.97" width="0.8" height="0.8" fill="#e0b020" opacity="0.9"/>
<rect x="40.53" y="259.78" width="0.8" height="0.8" fill="#e0b020" opacity="0.9"/>
<rect x="39.65" y="260.93" width="0.8" height="0.8" fill="#e0b020" opacity="0.9"/>
<rect x="39.85" y="257.68" width="0.8" height="0.8" fill="#e0b020" opacity="0.9"/>
<rect x="40.31" y="258.74" width="0.8" height="0.8" fill="#e0b020" opacity="0.9"/>
<rect x="39.49" y="259.15" width="0.8" height="0.8" fill="#e0b020" opacity="0.9"/>
<rect x="40.79" y="258.32" width="0.8" height="0.8" fill="#e0b020" opacity="0.9"/>
<rect x="40.36" y="260.93" width="0.8" height="0.8" fill="#e0b020" opacity="0.9"/>
<rect x="41.18" y="259.35" width="0.8" height="0.8" fill="#e0b020" opacity="0.9"/>
<rect x="40.63" y="259.38" width="0.8" height="0.8" fill="#e0b020" opacity="0.9"/>
<rect x="40.45" y="260.23" width="0.8" height="0.8" fill="#e0b020" opacity="0.9"/>
<rect x="40.41" y="257.1" width="0.8" height="0.8" fill="#e0b020" opacity="0.9"/>
<rect x="40.48" y="258.61" width="0.8" height="0.8" fill="#e0b020" opacity="0.9"/>
<rect x="41.15" y="258.89" width="0.8" height="0.8" fill="#e0b020" opacity="0.9"/>
<rect x="40.65" y="261.68" width="0.8" height="0.8" fill="#e0b020" opacity="0.9"/>
<rect x="39.78" y="259.24" width="0.8" height="0.8" fill="#e05a20" opacity="0.9"/>
<rect x="39.59" y="258.6" width="0.8" height="0.8" fill="#e05a20" opacity="0.9"/>
<rect x="39.36" y="259.98" width="0.8" height="0.8" fill="#e05a20" opacity="0.9"/>
<rect x="39.98" y="258.87" width="0.8" height="0.8" fill="#e05a20" opacity="0.9"/>
<rect x="39.56" y="260.11" width="0.8" height="0.8" fill="#e05a20" opacity="0.9"/>
<rect x="39.91" y="259.62" width="0.8" height="0.8" fill="#e05a20" opacity="0.9"/>
<rect x="21.23" y="270.43" width="0.8" height="0.8" fill="#4f7fc0" opacity="0.55"/>
<rect x="23.32" y="269.13" width="0.8" height="0.8" fill="#4f7fc0" opacity="0.55"/>
<rect x="20.99" y="265.74" width="0.8" height="0.8" fill="#4f7fc0" opacity="0.55"/>
<rect x="23.14" y="270.71" width="0.8" height="0.8" fill="#4f7fc0" opacity="0.55"/>
<rect x="20.4" y="266.83" width="0.8" height="0.8" fill="#4f7fc0" opacity="0.55"/>
<rect x="21.17" y="265.21" width="0.8" height="0.8" fill="#4f7fc0" opacity="0.55"/>
<rect x="20.15" y="259.69" width="0.8" height="0.8" fill="#4f7fc0" opacity="0.55"/>
<rect x="20.11" y="258.82" width="0.8" height="0.8" fill="#4f7fc0" opacity="0.55"/>
<rect x="22.39" y="267.15" width="0.8" height="0.8" fill="#4f7fc0" opacity="0.55"/>
<rect x="19.23" y="270.58" width="0.8" height="0.8" fill="#4f7fc0" opacity="0.55"/>
<rect x="21.96" y="257.37" width="0.8" height="0.8" fill="#4f7fc0" opacity="0.55"/>
<rect x="23.19" y="268.24" width="0.8" height="0.8" fill="#4f7fc0" opacity="0.55"/>
<rect x="23.48" y="260.08" width="0.8" height="0.8" fill="#4f7fc0" opacity="0.55"/>
<rect x="21.49" y="266.69" width="0.8" height="0.8" fill="#4f7fc0" opacity="0.55"/>
<rect x="21.06" y="265.68" width="0.8" height="0.8" fill="#4f7fc0" opacity="0.55"/>
<rect x="22.17" y="259.02" width="0.8" height="0.8" fill="#4f7fc0" opacity="0.55"/>
<rect x="19.19" y="259.42" width="0.8" height="0.8" fill="#4f7fc0" opacity="0.55"/>
<rect x="20.08" y="262.58" width="0.8" height="0.8" fill="#4f7fc0" opacity="0.55"/>
<rect x="21.28" y="266.07" width="0.8" height="0.8" fill="#4f7fc0" opacity="0.55"/>
<rect x="20.84" y="262.29" width="0.8" height="0.8" fill="#4f7fc0" opacity="0.55"/>
<rect x="20.23" y="268.81" width="0.8" height="0.8" fill="#4f7fc0" opacity="0.55"/>
<rect x="21.79" y="265.4" width="0.8" height="0.8" fill="#4f7fc0" opacity="0.55"/>
<rect x="20.38" y="271.21" width="0.8" height="0.8" fill="#4f7fc0" opacity="0.55"/>
<rect x="20.03" y="267.59" width="0.8" height="0.8" fill="#4f7fc0" opacity="0.55"/>
<rect x="22.3" y="263.94" width="0.8" height="0.8" fill="#4f7fc0" opacity="0.55"/>
<rect x="21.87" y="260.54" width="0.8" height="0.8" fill="#4f7fc0" opacity="0.55"/>
<rect x="22.12" y="265.8" width="0.8" height="0.8" fill="#4f7fc0" opacity="0.55"/>
<rect x="18.74" y="267.68" width="0.8" height="0.8" fill="#4f7fc0" opacity="0.55"/>
<rect x="19.64" y="270.13" width="0.8" height="0.8" fill="#4f7fc0" opacity="0.55"/>
<rect x="19.92" y="264.34" width="0.8" height="0.8" fill="#4f7fc0" opacity="0.55"/>
<rect x="21.17" y="263.67" width="0.8" height="0.8" fill="#4f7fc0" opacity="0.55"/>
<rect x="21.14" y="262.79" width="0.8" height="0.8" fill="#4f7fc0" opacity="0.55"/>
<rect x="21.67" y="265.02" width="0.8" height="0.8" fill="#4f7fc0" opacity="0.55"/>
<rect x="21.07" y="253.99" width="0.8" height="0.8" fill="#4f7fc0" opacity="0.55"/>
<rect x="22.31" y="265.13" width="0.8" height="0.8" fill="#4f7fc0" opacity="0.55"/>
<rect x="18.48" y="265.38" width="0.8" height="0.8" fill="#4f7fc0" opacity="0.55"/>
<rect x="21.41" y="269.28" width="0.8" height="0.8" fill="#4f7fc0" opacity="0.55"/>
<rect x="19.39" y="271.19" width="0.8" height="0.8" fill="#4f7fc0" opacity="0.55"/>
<rect x="20.59" y="274.58" width="0.8" height="0.8" fill="#4f7fc0" opacity="0.55"/>
<rect x="20.61" y="267.72" width="0.8" height="0.8" fill="#4f7fc0" opacity="0.55"/>
<rect x="20.32" y="260.54" width="0.8" height="0.8" fill="#4f7fc0" opacity="0.55"/>
<rect x="22.23" y="268.63" width="0.8" height="0.8" fill="#4f7fc0" opacity="0.55"/>
<rect x="22.8" y="268.43" width="0.8" height="0.8" fill="#4f7fc0" opacity="0.55"/>
<rect x="20.05" y="258.35" width="0.8" height="0.8" fill="#4f7fc0" opacity="0.55"/>
<rect x="19.95" y="262.3" width="0.8" height="0.8" fill="#4f7fc0" opacity="0.55"/>
<rect x="19.85" y="268.87" width="0.8" height="0.8" fill="#6aa040" opacity="0.8"/>
<rect x="20.76" y="267.6" width="0.8" height="0.8" fill="#6aa040" opacity="0.8"/>
<rect x="20.64" y="267.78" width="0.8" height="0.8" fill="#6aa040" opacity="0.8"/>
<rect x="20.67" y="269.13" width="0.8" height="0.8" fill="#6aa040" opacity="0.8"/>
<rect x="21.27" y="266.97" width="0.8" height="0.8" fill="#6aa040" opacity="0.8"/>
<rect x="19.29" y="270.14" width="0.8" height="0.8" fill="#6aa040" opacity="0.8"/>
<rect x="20.59" y="269.66" width="0.8" height="0.8" fill="#6aa040" opacity="0.8"/>
<rect x="19.19" y="267.51" width="0.8" height="0.8" fill="#6aa040" opacity="0.8"/>
<rect x="20.52" y="265.84" width="0.8" height="0.8" fill="#6aa040" opacity="0.8"/>
<rect x="20.09" y="269.09" width="0.8" height="0.8" fill="#6aa040" opacity="0.8"/>
<rect x="21.36" y="270.39" width="0.8" height="0.8" fill="#6aa040" opacity="0.8"/>
<rect x="19.81" y="265.9" width="0.8" height="0.8" fill="#6aa040" opacity="0.8"/>
<rect x="20.92" y="269.41" width="0.8" height="0.8" fill="#6aa040" opacity="0.8"/>
<rect x="20.65" y="266.05" width="0.8" height="0.8" fill="#6aa040" opacity="0.8"/>
<rect x="20.69" y="269.63" width="0.8" height="0.8" fill="#f0a020" opacity="0.9"/>
<rect x="20.58" y="268.61" width="0.8" height="0.8" fill="#f0a020" opacity="0.9"/>
<rect x="20.45" y="269.63" width="0.8" height="0.8" fill="#f0a020" opacity="0.9"/>
<rect x="20.02" y="267.53" width="0.8" height="0.8" fill="#f0a020" opacity="0.9"/>
<rect x="20.46" y="269.38" width="0.8" height="0.8" fill="#f0a020" opacity="0.9"/>
<rect x="20.31" y="269.71" width="0.8" height="0.8" fill="#f0a020" opacity="0.9"/>
<rect x="20.01" y="268.93" width="0.8" height="0.8" fill="#f0a020" opacity="0.9"/>
<rect x="20.15" y="269.46" width="0.8" height="0.8" fill="#f0a020" opacity="0.9"/>
<rect x="78.56" y="255.08" width="0.7" height="0.7" fill="#6a8cc8" opacity="0.35"/>
<rect x="27.9" y="267.93" width="0.7" height="0.7" fill="#6a8cc8" opacity="0.35"/>
<rect x="27.9" y="236.13" width="0.7" height="0.7" fill="#6a8cc8" opacity="0.35"/>
<rect x="79.06" y="258.72" width="0.7" height="0.7" fill="#6a8cc8" opacity="0.35"/>
<rect x="64.53" y="238.92" width="0.7" height="0.7" fill="#6a8cc8" opacity="0.35"/>
<rect x="33.38" y="250.09" width="0.7" height="0.7" fill="#6a8cc8" opacity="0.35"/>
<rect x="28.2" y="226.35" width="0.7" height="0.7" fill="#6a8cc8" opacity="0.35"/>
<rect x="44.52" y="216.87" width="0.7" height="0.7" fill="#6a8cc8" opacity="0.35"/>
<rect x="45.14" y="258.51" width="0.7" height="0.7" fill="#6a8cc8" opacity="0.35"/>
<rect x="62.22" y="242.53" width="0.7" height="0.7" fill="#6a8cc8" opacity="0.35"/>
<rect x="58.68" y="240.48" width="0.7" height="0.7" fill="#6a8cc8" opacity="0.35"/>
<rect x="30.23" y="248.2" width="0.7" height="0.7" fill="#6a8cc8" opacity="0.35"/>
<rect x="45.47" y="255.75" width="0.7" height="0.7" fill="#6a8cc8" opacity="0.35"/>
<rect x="74.66" y="238.65" width="0.7" height="0.7" fill="#6a8cc8" opacity="0.35"/>
<rect x="55.29" y="256.2" width="0.7" height="0.7" fill="#6a8cc8" opacity="0.35"/>
<rect x="46.43" y="227.57" width="0.7" height="0.7" fill="#6a8cc8" opacity="0.35"/>
<rect x="63.89" y="263.4" width="0.7" height="0.7" fill="#6a8cc8" opacity="0.35"/>
<rect x="66.89" y="253.5" width="0.7" height="0.7" fill="#6a8cc8" opacity="0.35"/>
<rect x="71.44" y="252.38" width="0.7" height="0.7" fill="#6a8cc8" opacity="0.35"/>
<rect x="59.21" y="239.96" width="0.7" height="0.7" fill="#6a8cc8" opacity="0.35"/>
<rect x="40.15" y="249.56" width="0.7" height="0.7" fill="#6a8cc8" opacity="0.35"/>
<rect x="27.68" y="238.08" width="0.7" height="0.7" fill="#6a8cc8" opacity="0.35"/>
<rect x="67.38" y="254.22" width="0.7" height="0.7" fill="#6a8cc8" opacity="0.35"/>
<rect x="58.52" y="228.75" width="0.7" height="0.7" fill="#6a8cc8" opacity="0.35"/>
<rect x="46.57" y="240.04" width="0.7" height="0.7" fill="#6a8cc8" opacity="0.35"/>
<rect x="58.05" y="237.51" width="0.7" height="0.7" fill="#6a8cc8" opacity="0.35"/>
<rect x="61.16" y="266.16" width="0.7" height="0.7" fill="#6a8cc8" opacity="0.35"/>
<rect x="32.62" y="251" width="0.7" height="0.7" fill="#6a8cc8" opacity="0.35"/>
<rect x="67.13" y="236.38" width="0.7" height="0.7" fill="#6a8cc8" opacity="0.35"/>
<rect x="50.41" y="268.6" width="0.7" height="0.7" fill="#6a8cc8" opacity="0.35"/>
<rect x="24.21" y="244.88" width="0.7" height="0.7" fill="#6a8cc8" opacity="0.35"/>
<rect x="31.33" y="258" width="0.7" height="0.7" fill="#6a8cc8" opacity="0.35"/>
<rect x="76.55" y="243.56" width="0.7" height="0.7" fill="#6a8cc8" opacity="0.35"/>
<rect x="27.86" y="246.6" width="0.7" height="0.7" fill="#6a8cc8" opacity="0.35"/>
<rect x="53.38" y="254.45" width="0.7" height="0.7" fill="#6a8cc8" opacity="0.35"/>
<ellipse cx="48.5" cy="245" rx="29.6" ry="16.8" transform="rotate(-51 48.5 245)" fill="none" stroke="#222" stroke-width="0.9"/>
<text x="25" y="210.7" font-size="5" fill="#000" >Lymphocytes</text>
<rect x="30.88" y="314.78" width="0.8" height="0.8" fill="#5a80c0" opacity="0.5"/>
<rect x="40.89" y="312.86" width="0.8" height="0.8" fill="#5a80c0" opacity="0.5"/>
<rect x="27.72" y="317.6" width="0.8" height="0.8" fill="#5a80c0" opacity="0.5"/>
<rect x="39.88" y="317.94" width="0.8" height="0.8" fill="#5a80c0" opacity="0.5"/>
<rect x="31.38" y="317.12" width="0.8" height="0.8" fill="#5a80c0" opacity="0.5"/>
<rect x="48.37" y="319.01" width="0.8" height="0.8" fill="#5a80c0" opacity="0.5"/>
<rect x="36.95" y="315.54" width="0.8" height="0.8" fill="#5a80c0" opacity="0.5"/>
<rect x="37.23" y="317" width="0.8" height="0.8" fill="#5a80c0" opacity="0.5"/>
<rect x="43.19" y="315.17" width="0.8" height="0.8" fill="#5a80c0" opacity="0.5"/>
<rect x="31.2" y="316.48" width="0.8" height="0.8" fill="#5a80c0" opacity="0.5"/>
<rect x="35.65" y="316.26" width="0.8" height="0.8" fill="#5a80c0" opacity="0.5"/>
<rect x="39.32" y="318.25" width="0.8" height="0.8" fill="#5a80c0" opacity="0.5"/>
<rect x="43.69" y="314.1" width="0.8" height="0.8" fill="#5a80c0" opacity="0.5"/>
<rect x="39.75" y="318.53" width="0.8" height="0.8" fill="#5a80c0" opacity="0.5"/>
<rect x="35.31" y="315.87" width="0.8" height="0.8" fill="#5a80c0" opacity="0.5"/>
<rect x="43.95" y="317.51" width="0.8" height="0.8" fill="#5a80c0" opacity="0.5"/>
<rect x="40.59" y="312.36" width="0.8" height="0.8" fill="#5a80c0" opacity="0.5"/>
<rect x="31.7" y="315.49" width="0.8" height="0.8" fill="#5a80c0" opacity="0.5"/>
<rect x="39.94" y="320.1" width="0.8" height="0.8" fill="#5a80c0" opacity="0.5"/>
<rect x="33.69" y="317.28" width="0.8" height="0.8" fill="#5a80c0" opacity="0.5"/>
<rect x="41.85" y="311.66" width="0.8" height="0.8" fill="#5a80c0" opacity="0.5"/>
<rect x="33.91" y="315.33" width="0.8" height="0.8" fill="#5a80c0" opacity="0.5"/>
<rect x="35.53" y="314.69" width="0.8" height="0.8" fill="#5a80c0" opacity="0.5"/>
<rect x="40.35" y="313.38" width="0.8" height="0.8" fill="#5a80c0" opacity="0.5"/>
<rect x="40.33" y="313.73" width="0.8" height="0.8" fill="#5a80c0" opacity="0.5"/>
<rect x="35.28" y="316.07" width="0.8" height="0.8" fill="#5a80c0" opacity="0.5"/>
<rect x="35.13" y="315.57" width="0.8" height="0.8" fill="#5a80c0" opacity="0.5"/>
<rect x="46" y="315.05" width="0.8" height="0.8" fill="#5a80c0" opacity="0.5"/>
<rect x="37.27" y="316.47" width="0.8" height="0.8" fill="#5a80c0" opacity="0.5"/>
<rect x="36.17" y="317.17" width="0.8" height="0.8" fill="#5a80c0" opacity="0.5"/>
<rect x="31.59" y="316.24" width="0.8" height="0.8" fill="#5a80c0" opacity="0.5"/>
<rect x="35.44" y="313.4" width="0.8" height="0.8" fill="#5a80c0" opacity="0.5"/>
<rect x="46.85" y="313.3" width="0.8" height="0.8" fill="#5a80c0" opacity="0.5"/>
<rect x="46.78" y="316.32" width="0.8" height="0.8" fill="#5a80c0" opacity="0.5"/>
<rect x="45.27" y="313.05" width="0.8" height="0.8" fill="#5a80c0" opacity="0.5"/>
<rect x="43.99" y="317.91" width="0.8" height="0.8" fill="#5a80c0" opacity="0.5"/>
<rect x="37.42" y="314.74" width="0.8" height="0.8" fill="#5a80c0" opacity="0.5"/>
<rect x="50.28" y="315.35" width="0.8" height="0.8" fill="#5a80c0" opacity="0.5"/>
<rect x="35.89" y="313.74" width="0.8" height="0.8" fill="#5a80c0" opacity="0.5"/>
<rect x="40.23" y="315.66" width="0.8" height="0.8" fill="#5a80c0" opacity="0.5"/>
<rect x="38.89" y="318.44" width="0.8" height="0.8" fill="#5a80c0" opacity="0.5"/>
<rect x="36.36" y="315.95" width="0.8" height="0.8" fill="#5a80c0" opacity="0.5"/>
<rect x="45.3" y="312.99" width="0.8" height="0.8" fill="#5a80c0" opacity="0.5"/>
<rect x="43.19" y="318.66" width="0.8" height="0.8" fill="#5a80c0" opacity="0.5"/>
<rect x="31.23" y="312.8" width="0.8" height="0.8" fill="#5a80c0" opacity="0.5"/>
<rect x="32.81" y="311.31" width="0.8" height="0.8" fill="#5a80c0" opacity="0.5"/>
<rect x="40.26" y="311.29" width="0.8" height="0.8" fill="#5a80c0" opacity="0.5"/>
<rect x="40.49" y="317.91" width="0.8" height="0.8" fill="#5a80c0" opacity="0.5"/>
<rect x="29.92" y="314.37" width="0.8" height="0.8" fill="#5a80c0" opacity="0.5"/>
<rect x="28.41" y="316.56" width="0.8" height="0.8" fill="#5a80c0" opacity="0.5"/>
<rect x="34.31" y="314.47" width="0.8" height="0.8" fill="#5a80c0" opacity="0.5"/>
<rect x="38.27" y="316.09" width="0.8" height="0.8" fill="#5a80c0" opacity="0.5"/>
<rect x="36.27" y="315.03" width="0.8" height="0.8" fill="#5a80c0" opacity="0.5"/>
<rect x="35.27" y="315.23" width="0.8" height="0.8" fill="#5a80c0" opacity="0.5"/>
<rect x="32.14" y="315.13" width="0.8" height="0.8" fill="#5a80c0" opacity="0.5"/>
<rect x="28.34" y="314.02" width="0.8" height="0.8" fill="#5a80c0" opacity="0.5"/>
<rect x="47.58" y="315.16" width="0.8" height="0.8" fill="#5a80c0" opacity="0.5"/>
<rect x="31.7" y="315.51" width="0.8" height="0.8" fill="#5a80c0" opacity="0.5"/>
<rect x="33.14" y="311.7" width="0.8" height="0.8" fill="#5a80c0" opacity="0.5"/>
<rect x="34.32" y="316.47" width="0.8" height="0.8" fill="#5a80c0" opacity="0.5"/>
<rect x="39.92" y="314.81" width="0.8" height="0.8" fill="#5a80c0" opacity="0.5"/>
<rect x="33.37" y="312.84" width="0.8" height="0.8" fill="#5a80c0" opacity="0.5"/>
<rect x="44.75" y="315.49" width="0.8" height="0.8" fill="#5a80c0" opacity="0.5"/>
<rect x="33.24" y="310.78" width="0.8" height="0.8" fill="#5a80c0" opacity="0.5"/>
<rect x="31.15" y="319.95" width="0.8" height="0.8" fill="#5a80c0" opacity="0.5"/>
<rect x="32.26" y="314.85" width="0.8" height="0.8" fill="#5a80c0" opacity="0.5"/>
<rect x="39.05" y="314.68" width="0.8" height="0.8" fill="#5a80c0" opacity="0.5"/>
<rect x="36.61" y="312.25" width="0.8" height="0.8" fill="#5a80c0" opacity="0.5"/>
<rect x="32.74" y="318.38" width="0.8" height="0.8" fill="#5a80c0" opacity="0.5"/>
<rect x="34.22" y="316.69" width="0.8" height="0.8" fill="#5a80c0" opacity="0.5"/>
<rect x="29.53" y="314.45" width="0.8" height="0.8" fill="#5a80c0" opacity="0.5"/>
<rect x="39.31" y="317.07" width="0.8" height="0.8" fill="#5a80c0" opacity="0.5"/>
<rect x="32.39" y="316.19" width="0.8" height="0.8" fill="#5a80c0" opacity="0.5"/>
<rect x="39.93" y="313.52" width="0.8" height="0.8" fill="#5a80c0" opacity="0.5"/>
<rect x="40.39" y="313.2" width="0.8" height="0.8" fill="#5a80c0" opacity="0.5"/>
<rect x="34.02" y="314.96" width="0.8" height="0.8" fill="#5a80c0" opacity="0.5"/>
<rect x="24.43" y="314.78" width="0.8" height="0.8" fill="#5a80c0" opacity="0.5"/>
<rect x="33" y="312.07" width="0.8" height="0.8" fill="#5a80c0" opacity="0.5"/>
<rect x="35.87" y="316.53" width="0.8" height="0.8" fill="#5a80c0" opacity="0.5"/>
<rect x="35.98" y="317.53" width="0.8" height="0.8" fill="#5a80c0" opacity="0.5"/>
<rect x="32.2" y="312.38" width="0.8" height="0.8" fill="#5a80c0" opacity="0.5"/>
<rect x="45.76" y="315.8" width="0.8" height="0.8" fill="#5a80c0" opacity="0.5"/>
<rect x="42.73" y="313.35" width="0.8" height="0.8" fill="#5a80c0" opacity="0.5"/>
<rect x="42.02" y="315.52" width="0.8" height="0.8" fill="#5a80c0" opacity="0.5"/>
<rect x="41.24" y="315.05" width="0.8" height="0.8" fill="#5a80c0" opacity="0.5"/>
<rect x="44.03" y="313.7" width="0.8" height="0.8" fill="#5a80c0" opacity="0.5"/>
<rect x="33.18" y="312.04" width="0.8" height="0.8" fill="#5a80c0" opacity="0.5"/>
<rect x="43.8" y="313.52" width="0.8" height="0.8" fill="#5a80c0" opacity="0.5"/>
<rect x="32.78" y="313.12" width="0.8" height="0.8" fill="#5a80c0" opacity="0.5"/>
<rect x="35.77" y="312.46" width="0.8" height="0.8" fill="#5a80c0" opacity="0.5"/>
<rect x="36.55" y="313.75" width="0.8" height="0.8" fill="#5a80c0" opacity="0.5"/>
<rect x="35.24" y="313.08" width="0.8" height="0.8" fill="#5a80c0" opacity="0.5"/>
<rect x="38.18" y="314.08" width="0.8" height="0.8" fill="#5a80c0" opacity="0.5"/>
<rect x="38.57" y="315.5" width="0.8" height="0.8" fill="#5a80c0" opacity="0.5"/>
<rect x="39.7" y="310.62" width="0.8" height="0.8" fill="#5a80c0" opacity="0.5"/>
<rect x="35.32" y="313.41" width="0.8" height="0.8" fill="#5a80c0" opacity="0.5"/>
<rect x="41.87" y="311.84" width="0.8" height="0.8" fill="#5a80c0" opacity="0.5"/>
<rect x="34.43" y="314.41" width="0.8" height="0.8" fill="#5a80c0" opacity="0.5"/>
<rect x="36.32" y="316.98" width="0.8" height="0.8" fill="#5a80c0" opacity="0.5"/>
<rect x="35.79" y="316.93" width="0.8" height="0.8" fill="#5a80c0" opacity="0.5"/>
<rect x="30.67" y="311.38" width="0.8" height="0.8" fill="#5a80c0" opacity="0.5"/>
<rect x="44.1" y="315.87" width="0.8" height="0.8" fill="#5a80c0" opacity="0.5"/>
<rect x="40.44" y="315.25" width="0.8" height="0.8" fill="#5a80c0" opacity="0.5"/>
<rect x="40.42" y="312.57" width="0.8" height="0.8" fill="#5a80c0" opacity="0.5"/>
<rect x="42.74" y="313.94" width="0.8" height="0.8" fill="#5a80c0" opacity="0.5"/>
<rect x="42.93" y="315.18" width="0.8" height="0.8" fill="#5a80c0" opacity="0.5"/>
<rect x="28.13" y="312.43" width="0.8" height="0.8" fill="#5a80c0" opacity="0.5"/>
<rect x="43.64" y="314.73" width="0.8" height="0.8" fill="#5a80c0" opacity="0.5"/>
<rect x="36.02" y="315.49" width="0.8" height="0.8" fill="#5a80c0" opacity="0.5"/>
<rect x="35.87" y="313.91" width="0.8" height="0.8" fill="#5a80c0" opacity="0.5"/>
<rect x="38.2" y="315.14" width="0.8" height="0.8" fill="#6aa050" opacity="0.7"/>
<rect x="41.03" y="315.05" width="0.8" height="0.8" fill="#6aa050" opacity="0.7"/>
<rect x="41.76" y="316.8" width="0.8" height="0.8" fill="#6aa050" opacity="0.7"/>
<rect x="41.43" y="316.06" width="0.8" height="0.8" fill="#6aa050" opacity="0.7"/>
<rect x="38.26" y="315.14" width="0.8" height="0.8" fill="#6aa050" opacity="0.7"/>
<rect x="37.71" y="314.27" width="0.8" height="0.8" fill="#6aa050" opacity="0.7"/>
<rect x="37.87" y="314.36" width="0.8" height="0.8" fill="#6aa050" opacity="0.7"/>
<rect x="41.28" y="315.53" width="0.8" height="0.8" fill="#6aa050" opacity="0.7"/>
<rect x="37.11" y="313.08" width="0.8" height="0.8" fill="#6aa050" opacity="0.7"/>
<rect x="37.89" y="314.58" width="0.8" height="0.8" fill="#6aa050" opacity="0.7"/>
<rect x="35.83" y="313.86" width="0.8" height="0.8" fill="#6aa050" opacity="0.7"/>
<rect x="33.5" y="315.57" width="0.8" height="0.8" fill="#6aa050" opacity="0.7"/>
<rect x="37.87" y="317.58" width="0.8" height="0.8" fill="#6aa050" opacity="0.7"/>
<rect x="37.94" y="314.85" width="0.8" height="0.8" fill="#6aa050" opacity="0.7"/>
<rect x="40.89" y="315.13" width="0.8" height="0.8" fill="#6aa050" opacity="0.7"/>
<rect x="38.33" y="314.63" width="0.8" height="0.8" fill="#6aa050" opacity="0.7"/>
<rect x="36.79" y="316.5" width="0.8" height="0.8" fill="#6aa050" opacity="0.7"/>
<rect x="40" y="316.72" width="0.8" height="0.8" fill="#6aa050" opacity="0.7"/>
<rect x="37.3" y="315.03" width="0.8" height="0.8" fill="#6aa050" opacity="0.7"/>
<rect x="36.24" y="315.97" width="0.8" height="0.8" fill="#6aa050" opacity="0.7"/>
<rect x="35.21" y="315.56" width="0.8" height="0.8" fill="#6aa050" opacity="0.7"/>
<rect x="40.19" y="316.41" width="0.8" height="0.8" fill="#6aa050" opacity="0.7"/>
<rect x="36.12" y="316.09" width="0.8" height="0.8" fill="#6aa050" opacity="0.7"/>
<rect x="36.57" y="314.24" width="0.8" height="0.8" fill="#6aa050" opacity="0.7"/>
<rect x="35.35" y="316.16" width="0.8" height="0.8" fill="#6aa050" opacity="0.7"/>
<rect x="60.95" y="335.84" width="0.8" height="0.8" fill="#5a80c0" opacity="0.45"/>
<rect x="53.72" y="337.63" width="0.8" height="0.8" fill="#5a80c0" opacity="0.45"/>
<rect x="63.52" y="347.03" width="0.8" height="0.8" fill="#5a80c0" opacity="0.45"/>
<rect x="54.37" y="327.44" width="0.8" height="0.8" fill="#5a80c0" opacity="0.45"/>
<rect x="53.98" y="348.31" width="0.8" height="0.8" fill="#5a80c0" opacity="0.45"/>
<rect x="61.6" y="338.13" width="0.8" height="0.8" fill="#5a80c0" opacity="0.45"/>
<rect x="53.93" y="336.43" width="0.8" height="0.8" fill="#5a80c0" opacity="0.45"/>
<rect x="50.34" y="346.36" width="0.8" height="0.8" fill="#5a80c0" opacity="0.45"/>
<rect x="52.74" y="347.44" width="0.8" height="0.8" fill="#5a80c0" opacity="0.45"/>
<rect x="50.88" y="331.11" width="0.8" height="0.8" fill="#5a80c0" opacity="0.45"/>
<rect x="56.87" y="334.66" width="0.8" height="0.8" fill="#5a80c0" opacity="0.45"/>
<rect x="58.34" y="340.06" width="0.8" height="0.8" fill="#5a80c0" opacity="0.45"/>
<rect x="52.48" y="344.35" width="0.8" height="0.8" fill="#5a80c0" opacity="0.45"/>
<rect x="58.53" y="326.61" width="0.8" height="0.8" fill="#5a80c0" opacity="0.45"/>
<rect x="61.48" y="343.48" width="0.8" height="0.8" fill="#5a80c0" opacity="0.45"/>
<rect x="58.28" y="326.98" width="0.8" height="0.8" fill="#5a80c0" opacity="0.45"/>
<rect x="53.84" y="337.56" width="0.8" height="0.8" fill="#5a80c0" opacity="0.45"/>
<rect x="59.23" y="329.78" width="0.8" height="0.8" fill="#5a80c0" opacity="0.45"/>
<rect x="53.35" y="325.79" width="0.8" height="0.8" fill="#5a80c0" opacity="0.45"/>
<rect x="55.28" y="342.42" width="0.8" height="0.8" fill="#5a80c0" opacity="0.45"/>
<rect x="50.94" y="335.86" width="0.8" height="0.8" fill="#5a80c0" opacity="0.45"/>
<rect x="57.53" y="351.1" width="0.8" height="0.8" fill="#5a80c0" opacity="0.45"/>
<rect x="57.99" y="337.87" width="0.8" height="0.8" fill="#5a80c0" opacity="0.45"/>
<rect x="52.47" y="333.45" width="0.8" height="0.8" fill="#5a80c0" opacity="0.45"/>
<rect x="54.01" y="341.03" width="0.8" height="0.8" fill="#5a80c0" opacity="0.45"/>
<rect x="55.85" y="351.67" width="0.8" height="0.8" fill="#5a80c0" opacity="0.45"/>
<rect x="56.86" y="332.5" width="0.8" height="0.8" fill="#5a80c0" opacity="0.45"/>
<rect x="60.63" y="346.64" width="0.8" height="0.8" fill="#5a80c0" opacity="0.45"/>
<rect x="56.3" y="334.95" width="0.8" height="0.8" fill="#5a80c0" opacity="0.45"/>
<rect x="50.39" y="332.84" width="0.8" height="0.8" fill="#5a80c0" opacity="0.45"/>
<rect x="58.74" y="334.38" width="0.8" height="0.8" fill="#5a80c0" opacity="0.45"/>
<rect x="52.04" y="341.37" width="0.8" height="0.8" fill="#5a80c0" opacity="0.45"/>
<rect x="56.73" y="344.24" width="0.8" height="0.8" fill="#5a80c0" opacity="0.45"/>
<rect x="57.97" y="349.86" width="0.8" height="0.8" fill="#5a80c0" opacity="0.45"/>
<rect x="53.48" y="346.85" width="0.8" height="0.8" fill="#5a80c0" opacity="0.45"/>
<rect x="53.04" y="344.86" width="0.8" height="0.8" fill="#5a80c0" opacity="0.45"/>
<rect x="56.54" y="341.7" width="0.8" height="0.8" fill="#5a80c0" opacity="0.45"/>
<rect x="58.9" y="339.88" width="0.8" height="0.8" fill="#5a80c0" opacity="0.45"/>
<rect x="59.34" y="346.13" width="0.8" height="0.8" fill="#5a80c0" opacity="0.45"/>
<rect x="56.41" y="336.03" width="0.8" height="0.8" fill="#5a80c0" opacity="0.45"/>
<rect x="53.74" y="336.31" width="0.8" height="0.8" fill="#5a80c0" opacity="0.45"/>
<rect x="55.39" y="339.83" width="0.8" height="0.8" fill="#5a80c0" opacity="0.45"/>
<rect x="64.94" y="344.47" width="0.8" height="0.8" fill="#5a80c0" opacity="0.45"/>
<rect x="58.31" y="333.98" width="0.8" height="0.8" fill="#5a80c0" opacity="0.45"/>
<rect x="53.87" y="337.77" width="0.8" height="0.8" fill="#5a80c0" opacity="0.45"/>
<rect x="56.58" y="332.75" width="0.8" height="0.8" fill="#5a80c0" opacity="0.45"/>
<rect x="60.84" y="336.06" width="0.8" height="0.8" fill="#5a80c0" opacity="0.45"/>
<rect x="59.23" y="323.65" width="0.8" height="0.8" fill="#5a80c0" opacity="0.45"/>
<rect x="55.98" y="341.94" width="0.8" height="0.8" fill="#5a80c0" opacity="0.45"/>
<rect x="56.57" y="344.21" width="0.8" height="0.8" fill="#5a80c0" opacity="0.45"/>
<rect x="56.84" y="341.14" width="0.8" height="0.8" fill="#5a80c0" opacity="0.45"/>
<rect x="50.32" y="335.01" width="0.8" height="0.8" fill="#5a80c0" opacity="0.45"/>
<rect x="48.97" y="344.4" width="0.8" height="0.8" fill="#5a80c0" opacity="0.45"/>
<rect x="56.92" y="338.63" width="0.8" height="0.8" fill="#5a80c0" opacity="0.45"/>
<rect x="53.54" y="335.93" width="0.8" height="0.8" fill="#5a80c0" opacity="0.45"/>
<rect x="61.54" y="352.12" width="0.8" height="0.8" fill="#5a80c0" opacity="0.45"/>
<rect x="55.83" y="349.02" width="0.8" height="0.8" fill="#5a80c0" opacity="0.45"/>
<rect x="51.24" y="326.45" width="0.8" height="0.8" fill="#5a80c0" opacity="0.45"/>
<rect x="54.55" y="333.88" width="0.8" height="0.8" fill="#5a80c0" opacity="0.45"/>
<rect x="54.32" y="341.32" width="0.8" height="0.8" fill="#5a80c0" opacity="0.45"/>
<rect x="65.07" y="335.37" width="0.8" height="0.8" fill="#5a80c0" opacity="0.45"/>
<rect x="56.15" y="341.93" width="0.8" height="0.8" fill="#5a80c0" opacity="0.45"/>
<rect x="55.9" y="346.52" width="0.8" height="0.8" fill="#5a80c0" opacity="0.45"/>
<rect x="61.33" y="331.29" width="0.8" height="0.8" fill="#5a80c0" opacity="0.45"/>
<rect x="56.49" y="338.15" width="0.8" height="0.8" fill="#5a80c0" opacity="0.45"/>
<rect x="57.07" y="329.28" width="0.8" height="0.8" fill="#5a80c0" opacity="0.45"/>
<rect x="50.73" y="323.78" width="0.8" height="0.8" fill="#5a80c0" opacity="0.45"/>
<rect x="57.58" y="341.34" width="0.8" height="0.8" fill="#5a80c0" opacity="0.45"/>
<rect x="56.22" y="323.43" width="0.8" height="0.8" fill="#5a80c0" opacity="0.45"/>
<rect x="54.88" y="334.71" width="0.8" height="0.8" fill="#5a80c0" opacity="0.45"/>
<rect x="51.76" y="333.59" width="0.8" height="0.8" fill="#5a80c0" opacity="0.45"/>
<rect x="58.09" y="343.81" width="0.8" height="0.8" fill="#5a80c0" opacity="0.45"/>
<rect x="55.93" y="343.6" width="0.8" height="0.8" fill="#5a80c0" opacity="0.45"/>
<rect x="54.19" y="340.5" width="0.8" height="0.8" fill="#5a80c0" opacity="0.45"/>
<rect x="56.12" y="343.88" width="0.8" height="0.8" fill="#5a80c0" opacity="0.45"/>
<rect x="55.79" y="339" width="0.8" height="0.8" fill="#5a80c0" opacity="0.45"/>
<rect x="55.6" y="335.49" width="0.8" height="0.8" fill="#5a80c0" opacity="0.45"/>
<rect x="62.7" y="343.6" width="0.8" height="0.8" fill="#5a80c0" opacity="0.45"/>
<rect x="57.29" y="356.04" width="0.8" height="0.8" fill="#5a80c0" opacity="0.45"/>
<rect x="60.21" y="329.1" width="0.8" height="0.8" fill="#5a80c0" opacity="0.45"/>
<rect x="58.09" y="345.87" width="0.8" height="0.8" fill="#5a80c0" opacity="0.45"/>
<rect x="61.65" y="349.21" width="0.8" height="0.8" fill="#5a80c0" opacity="0.45"/>
<rect x="58.31" y="331.76" width="0.8" height="0.8" fill="#5a80c0" opacity="0.45"/>
<rect x="53.39" y="341.88" width="0.8" height="0.8" fill="#5a80c0" opacity="0.45"/>
<rect x="57.51" y="332.85" width="0.8" height="0.8" fill="#5a80c0" opacity="0.45"/>
<rect x="54.85" y="337.2" width="0.8" height="0.8" fill="#5a80c0" opacity="0.45"/>
<rect x="56.18" y="342.35" width="0.8" height="0.8" fill="#5a80c0" opacity="0.45"/>
<rect x="55.14" y="331.34" width="0.8" height="0.8" fill="#5a80c0" opacity="0.45"/>
<rect x="59.73" y="351.17" width="0.8" height="0.8" fill="#5a80c0" opacity="0.45"/>
<rect x="55.68" y="347.17" width="0.8" height="0.8" fill="#5a80c0" opacity="0.45"/>
<rect x="57.33" y="344.62" width="0.8" height="0.8" fill="#5a80c0" opacity="0.45"/>
<rect x="57.44" y="334.66" width="0.8" height="0.8" fill="#5a80c0" opacity="0.45"/>
<rect x="57.72" y="347.07" width="0.8" height="0.8" fill="#5a80c0" opacity="0.45"/>
<rect x="53.31" y="353.76" width="0.8" height="0.8" fill="#5a80c0" opacity="0.45"/>
<rect x="62.27" y="352.76" width="0.8" height="0.8" fill="#5a80c0" opacity="0.45"/>
<rect x="61.97" y="345.2" width="0.8" height="0.8" fill="#5a80c0" opacity="0.45"/>
<rect x="54.99" y="335.8" width="0.8" height="0.8" fill="#5a80c0" opacity="0.45"/>
<rect x="53.56" y="340.81" width="0.8" height="0.8" fill="#5a80c0" opacity="0.45"/>
<rect x="55.9" y="344.69" width="0.8" height="0.8" fill="#5a80c0" opacity="0.45"/>
<rect x="49.94" y="356.18" width="0.8" height="0.8" fill="#5a80c0" opacity="0.45"/>
<rect x="62.83" y="339.81" width="0.8" height="0.8" fill="#5a80c0" opacity="0.45"/>
<rect x="58.03" y="343.33" width="0.8" height="0.8" fill="#5a80c0" opacity="0.45"/>
<rect x="56.82" y="338.54" width="0.8" height="0.8" fill="#5a80c0" opacity="0.45"/>
<rect x="55.63" y="334.23" width="0.8" height="0.8" fill="#5a80c0" opacity="0.45"/>
<rect x="56.53" y="339.83" width="0.8" height="0.8" fill="#5a80c0" opacity="0.45"/>
<rect x="56.96" y="334.01" width="0.8" height="0.8" fill="#5a80c0" opacity="0.45"/>
<rect x="56.12" y="340.33" width="0.8" height="0.8" fill="#5a80c0" opacity="0.45"/>
<rect x="57.81" y="332.56" width="0.8" height="0.8" fill="#5a80c0" opacity="0.45"/>
<rect x="57.26" y="346.88" width="0.8" height="0.8" fill="#5a80c0" opacity="0.45"/>
<rect x="57.79" y="337.42" width="0.8" height="0.8" fill="#5a80c0" opacity="0.45"/>
<rect x="54.53" y="338.35" width="0.8" height="0.8" fill="#5a80c0" opacity="0.45"/>
<rect x="58.19" y="350.87" width="0.8" height="0.8" fill="#5a80c0" opacity="0.45"/>
<rect x="55.53" y="335.5" width="0.8" height="0.8" fill="#5a80c0" opacity="0.45"/>
<rect x="57.13" y="341.43" width="0.8" height="0.8" fill="#5a80c0" opacity="0.45"/>
<rect x="53.28" y="334.84" width="0.8" height="0.8" fill="#5a80c0" opacity="0.45"/>
<rect x="55.7" y="344.7" width="0.8" height="0.8" fill="#5a80c0" opacity="0.45"/>
<rect x="52.42" y="332.87" width="0.8" height="0.8" fill="#5a80c0" opacity="0.45"/>
<rect x="57.5" y="331.43" width="0.8" height="0.8" fill="#5a80c0" opacity="0.45"/>
<rect x="56.33" y="342.47" width="0.8" height="0.8" fill="#5a80c0" opacity="0.45"/>
<rect x="55.67" y="332.87" width="0.8" height="0.8" fill="#5a80c0" opacity="0.45"/>
<rect x="55.82" y="337.67" width="0.8" height="0.8" fill="#5a80c0" opacity="0.45"/>
<rect x="57.01" y="334.13" width="0.8" height="0.8" fill="#5a80c0" opacity="0.45"/>
<rect x="59.27" y="328.27" width="0.8" height="0.8" fill="#5a80c0" opacity="0.45"/>
<rect x="55.47" y="340.05" width="0.8" height="0.8" fill="#5a80c0" opacity="0.45"/>
<rect x="58.88" y="335.74" width="0.8" height="0.8" fill="#5a80c0" opacity="0.45"/>
<rect x="57.64" y="336.03" width="0.8" height="0.8" fill="#5a80c0" opacity="0.45"/>
<rect x="58.21" y="352.16" width="0.8" height="0.8" fill="#5a80c0" opacity="0.45"/>
<rect x="54.8" y="343.1" width="0.8" height="0.8" fill="#5a80c0" opacity="0.45"/>
<rect x="53.22" y="346.81" width="0.8" height="0.8" fill="#5a80c0" opacity="0.45"/>
<rect x="59.63" y="340.25" width="0.8" height="0.8" fill="#5a80c0" opacity="0.45"/>
<rect x="36.96" y="341.41" width="0.8" height="0.8" fill="#6a8cc8" opacity="0.42"/>
<rect x="46.1" y="345.54" width="0.8" height="0.8" fill="#6a8cc8" opacity="0.42"/>
<rect x="44.75" y="328.02" width="0.8" height="0.8" fill="#6a8cc8" opacity="0.42"/>
<rect x="38.78" y="347.53" width="0.8" height="0.8" fill="#6a8cc8" opacity="0.42"/>
<rect x="36.6" y="345.79" width="0.8" height="0.8" fill="#6a8cc8" opacity="0.42"/>
<rect x="49.03" y="343.57" width="0.8" height="0.8" fill="#6a8cc8" opacity="0.42"/>
<rect x="45.98" y="337" width="0.8" height="0.8" fill="#6a8cc8" opacity="0.42"/>
<rect x="36.6" y="338.38" width="0.8" height="0.8" fill="#6a8cc8" opacity="0.42"/>
<rect x="40.7" y="338.71" width="0.8" height="0.8" fill="#6a8cc8" opacity="0.42"/>
<rect x="44.29" y="338.13" width="0.8" height="0.8" fill="#6a8cc8" opacity="0.42"/>
<rect x="42.27" y="341.54" width="0.8" height="0.8" fill="#6a8cc8" opacity="0.42"/>
<rect x="41.48" y="350.06" width="0.8" height="0.8" fill="#6a8cc8" opacity="0.42"/>
<rect x="43.27" y="339.51" width="0.8" height="0.8" fill="#6a8cc8" opacity="0.42"/>
<rect x="40.67" y="335.25" width="0.8" height="0.8" fill="#6a8cc8" opacity="0.42"/>
<rect x="46.88" y="339.9" width="0.8" height="0.8" fill="#6a8cc8" opacity="0.42"/>
<rect x="37.18" y="335.63" width="0.8" height="0.8" fill="#6a8cc8" opacity="0.42"/>
<rect x="40.95" y="336.33" width="0.8" height="0.8" fill="#6a8cc8" opacity="0.42"/>
<rect x="45.84" y="332.03" width="0.8" height="0.8" fill="#6a8cc8" opacity="0.42"/>
<rect x="43.47" y="339.86" width="0.8" height="0.8" fill="#6a8cc8" opacity="0.42"/>
<rect x="36.79" y="339.28" width="0.8" height="0.8" fill="#6a8cc8" opacity="0.42"/>
<rect x="41.12" y="342.01" width="0.8" height="0.8" fill="#6a8cc8" opacity="0.42"/>
<rect x="39.7" y="340.82" width="0.8" height="0.8" fill="#6a8cc8" opacity="0.42"/>
<rect x="34.84" y="332.5" width="0.8" height="0.8" fill="#6a8cc8" opacity="0.42"/>
<rect x="44.64" y="345.25" width="0.8" height="0.8" fill="#6a8cc8" opacity="0.42"/>
<rect x="41.45" y="335.41" width="0.8" height="0.8" fill="#6a8cc8" opacity="0.42"/>
<rect x="45.83" y="326.45" width="0.8" height="0.8" fill="#6a8cc8" opacity="0.42"/>
<rect x="38.3" y="343.03" width="0.8" height="0.8" fill="#6a8cc8" opacity="0.42"/>
<rect x="44.11" y="332.81" width="0.8" height="0.8" fill="#6a8cc8" opacity="0.42"/>
<rect x="33.95" y="347.71" width="0.8" height="0.8" fill="#6a8cc8" opacity="0.42"/>
<rect x="42.11" y="333.62" width="0.8" height="0.8" fill="#6a8cc8" opacity="0.42"/>
<rect x="41.72" y="344.41" width="0.8" height="0.8" fill="#6a8cc8" opacity="0.42"/>
<rect x="31.13" y="345.66" width="0.8" height="0.8" fill="#6a8cc8" opacity="0.42"/>
<rect x="44.46" y="326.51" width="0.8" height="0.8" fill="#6a8cc8" opacity="0.42"/>
<rect x="44.58" y="328.32" width="0.8" height="0.8" fill="#6a8cc8" opacity="0.42"/>
<rect x="46.06" y="341.39" width="0.8" height="0.8" fill="#6a8cc8" opacity="0.42"/>
<rect x="50.51" y="335.34" width="0.8" height="0.8" fill="#6a8cc8" opacity="0.42"/>
<rect x="41.52" y="345.28" width="0.8" height="0.8" fill="#6a8cc8" opacity="0.42"/>
<rect x="38.94" y="334.77" width="0.8" height="0.8" fill="#6a8cc8" opacity="0.42"/>
<rect x="40.01" y="338.56" width="0.8" height="0.8" fill="#6a8cc8" opacity="0.42"/>
<rect x="37.17" y="341.91" width="0.8" height="0.8" fill="#6a8cc8" opacity="0.42"/>
<rect x="43.67" y="339.43" width="0.8" height="0.8" fill="#6a8cc8" opacity="0.42"/>
<rect x="48.3" y="337.03" width="0.8" height="0.8" fill="#6a8cc8" opacity="0.42"/>
<rect x="46.73" y="335.72" width="0.8" height="0.8" fill="#6a8cc8" opacity="0.42"/>
<rect x="44.52" y="327.39" width="0.8" height="0.8" fill="#6a8cc8" opacity="0.42"/>
<rect x="42.29" y="337.95" width="0.8" height="0.8" fill="#6a8cc8" opacity="0.42"/>
<rect x="39.52" y="335.34" width="0.8" height="0.8" fill="#6a8cc8" opacity="0.42"/>
<rect x="40.11" y="334.68" width="0.8" height="0.8" fill="#6a8cc8" opacity="0.42"/>
<rect x="32.73" y="335.42" width="0.8" height="0.8" fill="#6a8cc8" opacity="0.42"/>
<rect x="39.3" y="335.85" width="0.8" height="0.8" fill="#6a8cc8" opacity="0.42"/>
<rect x="37.27" y="338.19" width="0.8" height="0.8" fill="#6a8cc8" opacity="0.42"/>
<rect x="44.64" y="337.5" width="0.8" height="0.8" fill="#6a8cc8" opacity="0.42"/>
<rect x="39.53" y="347.14" width="0.8" height="0.8" fill="#6a8cc8" opacity="0.42"/>
<rect x="45.41" y="344.53" width="0.8" height="0.8" fill="#6a8cc8" opacity="0.42"/>
<rect x="46.12" y="337.04" width="0.8" height="0.8" fill="#6a8cc8" opacity="0.42"/>
<rect x="40.98" y="345.68" width="0.8" height="0.8" fill="#6a8cc8" opacity="0.42"/>
<rect x="39.28" y="338.28" width="0.8" height="0.8" fill="#6a8cc8" opacity="0.42"/>
<rect x="43.01" y="341.24" width="0.8" height="0.8" fill="#6a8cc8" opacity="0.42"/>
<rect x="40.39" y="344.9" width="0.8" height="0.8" fill="#6a8cc8" opacity="0.42"/>
<rect x="40.79" y="343.35" width="0.8" height="0.8" fill="#6a8cc8" opacity="0.42"/>
<rect x="45.78" y="342.96" width="0.8" height="0.8" fill="#6a8cc8" opacity="0.42"/>
<rect x="44.43" y="332.04" width="0.8" height="0.8" fill="#6a8cc8" opacity="0.42"/>
<rect x="36.26" y="335.29" width="0.8" height="0.8" fill="#6a8cc8" opacity="0.42"/>
<rect x="43.4" y="348" width="0.8" height="0.8" fill="#6a8cc8" opacity="0.42"/>
<rect x="36.61" y="340.84" width="0.8" height="0.8" fill="#6a8cc8" opacity="0.42"/>
<rect x="38.08" y="334.61" width="0.8" height="0.8" fill="#6a8cc8" opacity="0.42"/>
<rect x="40.39" y="343.15" width="0.8" height="0.8" fill="#6a8cc8" opacity="0.42"/>
<rect x="42.35" y="346.08" width="0.8" height="0.8" fill="#6a8cc8" opacity="0.42"/>
<rect x="37.56" y="344.34" width="0.8" height="0.8" fill="#6a8cc8" opacity="0.42"/>
<rect x="45.22" y="339.42" width="0.8" height="0.8" fill="#6a8cc8" opacity="0.42"/>
<rect x="43.41" y="335.62" width="0.8" height="0.8" fill="#6a8cc8" opacity="0.42"/>
<rect x="37.14" y="336.57" width="0.8" height="0.8" fill="#6a8cc8" opacity="0.42"/>
<rect x="38.93" y="356.34" width="0.8" height="0.8" fill="#6a8cc8" opacity="0.42"/>
<rect x="39.56" y="348.9" width="0.8" height="0.8" fill="#6a8cc8" opacity="0.42"/>
<rect x="42.31" y="340.87" width="0.8" height="0.8" fill="#6a8cc8" opacity="0.42"/>
<rect x="44.47" y="334.33" width="0.8" height="0.8" fill="#6a8cc8" opacity="0.42"/>
<rect x="45.17" y="341.26" width="0.8" height="0.8" fill="#6a8cc8" opacity="0.42"/>
<rect x="35.44" y="342.61" width="0.8" height="0.8" fill="#6a8cc8" opacity="0.42"/>
<rect x="43.71" y="341.72" width="0.8" height="0.8" fill="#6a8cc8" opacity="0.42"/>
<rect x="47.84" y="336.51" width="0.8" height="0.8" fill="#6a8cc8" opacity="0.42"/>
<rect x="43.55" y="343.49" width="0.8" height="0.8" fill="#6a8cc8" opacity="0.42"/>
<rect x="37.9" y="346.2" width="0.8" height="0.8" fill="#6a8cc8" opacity="0.42"/>
<rect x="35.7" y="331.2" width="0.8" height="0.8" fill="#6a8cc8" opacity="0.42"/>
<rect x="43.59" y="332.47" width="0.8" height="0.8" fill="#6a8cc8" opacity="0.42"/>
<rect x="41.03" y="329.13" width="0.8" height="0.8" fill="#6a8cc8" opacity="0.42"/>
<rect x="41.78" y="332.2" width="0.8" height="0.8" fill="#6a8cc8" opacity="0.42"/>
<rect x="42.87" y="329.8" width="0.8" height="0.8" fill="#6a8cc8" opacity="0.42"/>
<rect x="43.29" y="337.4" width="0.8" height="0.8" fill="#6a8cc8" opacity="0.42"/>
<rect x="41.76" y="338.59" width="0.8" height="0.8" fill="#6a8cc8" opacity="0.42"/>
<rect x="42.02" y="331.07" width="0.8" height="0.8" fill="#6a8cc8" opacity="0.42"/>
<rect x="31.24" y="339.2" width="0.8" height="0.8" fill="#6a8cc8" opacity="0.42"/>
<rect x="37.76" y="336.27" width="0.8" height="0.8" fill="#6a8cc8" opacity="0.42"/>
<rect x="43.21" y="327.09" width="0.8" height="0.8" fill="#6a8cc8" opacity="0.42"/>
<rect x="38.45" y="335.34" width="0.8" height="0.8" fill="#6a8cc8" opacity="0.42"/>
<rect x="37.27" y="340.96" width="0.8" height="0.8" fill="#6a8cc8" opacity="0.42"/>
<rect x="40.94" y="334.08" width="0.8" height="0.8" fill="#6a8cc8" opacity="0.42"/>
<rect x="37.56" y="343.84" width="0.8" height="0.8" fill="#6a8cc8" opacity="0.42"/>
<rect x="38.86" y="342.51" width="0.8" height="0.8" fill="#6a8cc8" opacity="0.42"/>
<rect x="43.3" y="327.64" width="0.8" height="0.8" fill="#6a8cc8" opacity="0.42"/>
<rect x="37.17" y="339.02" width="0.8" height="0.8" fill="#6a8cc8" opacity="0.42"/>
<rect x="42.87" y="343.68" width="0.8" height="0.8" fill="#6a8cc8" opacity="0.42"/>
<rect x="44.71" y="345.21" width="0.8" height="0.8" fill="#6a8cc8" opacity="0.42"/>
<rect x="40" y="337.74" width="0.8" height="0.8" fill="#6a8cc8" opacity="0.42"/>
<rect x="44.6" y="336.45" width="0.8" height="0.8" fill="#6a8cc8" opacity="0.42"/>
<rect x="45.73" y="329.46" width="0.8" height="0.8" fill="#6a8cc8" opacity="0.42"/>
<rect x="44.11" y="337.96" width="0.8" height="0.8" fill="#6a8cc8" opacity="0.42"/>
<rect x="33.63" y="344.88" width="0.8" height="0.8" fill="#6a8cc8" opacity="0.42"/>
<rect x="42.74" y="339.13" width="0.8" height="0.8" fill="#6a8cc8" opacity="0.42"/>
<rect x="37.19" y="336.21" width="0.8" height="0.8" fill="#6a8cc8" opacity="0.42"/>
<rect x="47.55" y="334.04" width="0.8" height="0.8" fill="#6a8cc8" opacity="0.42"/>
<rect x="27.61" y="333.86" width="0.8" height="0.8" fill="#6a8cc8" opacity="0.42"/>
<rect x="54.15" y="323.11" width="0.7" height="0.7" fill="#6a8cc8" opacity="0.35"/>
<rect x="65.23" y="314.93" width="0.7" height="0.7" fill="#6a8cc8" opacity="0.35"/>
<rect x="43.61" y="328.06" width="0.7" height="0.7" fill="#6a8cc8" opacity="0.35"/>
<rect x="43.17" y="350.67" width="0.7" height="0.7" fill="#6a8cc8" opacity="0.35"/>
<rect x="64.65" y="323.62" width="0.7" height="0.7" fill="#6a8cc8" opacity="0.35"/>
<rect x="26.53" y="313.96" width="0.7" height="0.7" fill="#6a8cc8" opacity="0.35"/>
<rect x="46.46" y="325.93" width="0.7" height="0.7" fill="#6a8cc8" opacity="0.35"/>
<rect x="57.89" y="346.31" width="0.7" height="0.7" fill="#6a8cc8" opacity="0.35"/>
<rect x="83.66" y="321.15" width="0.7" height="0.7" fill="#6a8cc8" opacity="0.35"/>
<rect x="49.05" y="329.97" width="0.7" height="0.7" fill="#6a8cc8" opacity="0.35"/>
<rect x="85.74" y="311.97" width="0.7" height="0.7" fill="#6a8cc8" opacity="0.35"/>
<rect x="54.99" y="342.22" width="0.7" height="0.7" fill="#6a8cc8" opacity="0.35"/>
<rect x="31.27" y="310.36" width="0.7" height="0.7" fill="#6a8cc8" opacity="0.35"/>
<rect x="84.58" y="342.87" width="0.7" height="0.7" fill="#6a8cc8" opacity="0.35"/>
<rect x="53.83" y="297.07" width="0.7" height="0.7" fill="#6a8cc8" opacity="0.35"/>
<rect x="79.04" y="334.15" width="0.7" height="0.7" fill="#6a8cc8" opacity="0.35"/>
<rect x="74.16" y="353.38" width="0.7" height="0.7" fill="#6a8cc8" opacity="0.35"/>
<rect x="78.62" y="316.94" width="0.7" height="0.7" fill="#6a8cc8" opacity="0.35"/>
<rect x="30.32" y="308.56" width="0.7" height="0.7" fill="#6a8cc8" opacity="0.35"/>
<rect x="53.77" y="322.31" width="0.7" height="0.7" fill="#6a8cc8" opacity="0.35"/>
<rect x="32.42" y="301.67" width="0.7" height="0.7" fill="#6a8cc8" opacity="0.35"/>
<rect x="61.59" y="328.6" width="0.7" height="0.7" fill="#6a8cc8" opacity="0.35"/>
<rect x="43.31" y="353.6" width="0.7" height="0.7" fill="#6a8cc8" opacity="0.35"/>
<rect x="62.01" y="292.71" width="0.7" height="0.7" fill="#6a8cc8" opacity="0.35"/>
<rect x="47.15" y="340.41" width="0.7" height="0.7" fill="#6a8cc8" opacity="0.35"/>
<rect x="40.24" y="334.2" width="0.7" height="0.7" fill="#6a8cc8" opacity="0.35"/>
<rect x="20.26" y="309.49" width="0.7" height="0.7" fill="#6a8cc8" opacity="0.35"/>
<rect x="75.58" y="327.52" width="0.7" height="0.7" fill="#6a8cc8" opacity="0.35"/>
<rect x="64.1" y="302.59" width="0.7" height="0.7" fill="#6a8cc8" opacity="0.35"/>
<rect x="52.86" y="325.41" width="0.7" height="0.7" fill="#6a8cc8" opacity="0.35"/>
<rect x="18.5" y="306.5" width="30" height="19" stroke="#333" stroke-width="0.9" fill="none" />
<rect x="48.5" y="325.5" width="17" height="31" stroke="#333" stroke-width="0.9" fill="none" />
<text x="28.2" y="294.8" font-size="5.2" fill="#000" >CD19</text>
<text x="29.6" y="301.8" font-size="5.2" fill="#000" >39.0</text>
<text x="76.2" y="341.8" font-size="5.2" fill="#000" >CD3</text>
<text x="76.4" y="348.2" font-size="5.2" fill="#000" >41.2</text>
<rect x="158.78" y="264.46" width="0.8" height="0.8" fill="#5a80c0" opacity="0.5"/>
<rect x="153.97" y="254.98" width="0.8" height="0.8" fill="#5a80c0" opacity="0.5"/>
<rect x="157.62" y="255.91" width="0.8" height="0.8" fill="#5a80c0" opacity="0.5"/>
<rect x="159.63" y="259.82" width="0.8" height="0.8" fill="#5a80c0" opacity="0.5"/>
<rect x="159.04" y="255.87" width="0.8" height="0.8" fill="#5a80c0" opacity="0.5"/>
<rect x="159.74" y="259.62" width="0.8" height="0.8" fill="#5a80c0" opacity="0.5"/>
<rect x="156.24" y="256.82" width="0.8" height="0.8" fill="#5a80c0" opacity="0.5"/>
<rect x="156.94" y="252.68" width="0.8" height="0.8" fill="#5a80c0" opacity="0.5"/>
<rect x="159.22" y="258.27" width="0.8" height="0.8" fill="#5a80c0" opacity="0.5"/>
<rect x="159.17" y="254.06" width="0.8" height="0.8" fill="#5a80c0" opacity="0.5"/>
<rect x="158.7" y="253.89" width="0.8" height="0.8" fill="#5a80c0" opacity="0.5"/>
<rect x="159.57" y="261.1" width="0.8" height="0.8" fill="#5a80c0" opacity="0.5"/>
<rect x="161.63" y="263.7" width="0.8" height="0.8" fill="#5a80c0" opacity="0.5"/>
<rect x="157.79" y="255.94" width="0.8" height="0.8" fill="#5a80c0" opacity="0.5"/>
<rect x="157.59" y="259.38" width="0.8" height="0.8" fill="#5a80c0" opacity="0.5"/>
<rect x="161.97" y="261.19" width="0.8" height="0.8" fill="#5a80c0" opacity="0.5"/>
<rect x="155.7" y="252.34" width="0.8" height="0.8" fill="#5a80c0" opacity="0.5"/>
<rect x="157.06" y="260.32" width="0.8" height="0.8" fill="#5a80c0" opacity="0.5"/>
<rect x="159" y="259.35" width="0.8" height="0.8" fill="#5a80c0" opacity="0.5"/>
<rect x="161.67" y="254.28" width="0.8" height="0.8" fill="#5a80c0" opacity="0.5"/>
<rect x="157.73" y="266.85" width="0.8" height="0.8" fill="#5a80c0" opacity="0.5"/>
<rect x="159.51" y="254.49" width="0.8" height="0.8" fill="#5a80c0" opacity="0.5"/>
<rect x="155.96" y="251.14" width="0.8" height="0.8" fill="#5a80c0" opacity="0.5"/>
<rect x="155.33" y="258.31" width="0.8" height="0.8" fill="#5a80c0" opacity="0.5"/>
<rect x="159.07" y="262.47" width="0.8" height="0.8" fill="#5a80c0" opacity="0.5"/>
<rect x="158.79" y="254.88" width="0.8" height="0.8" fill="#5a80c0" opacity="0.5"/>
<rect x="157.89" y="266.56" width="0.8" height="0.8" fill="#5a80c0" opacity="0.5"/>
<rect x="156.35" y="258.78" width="0.8" height="0.8" fill="#5a80c0" opacity="0.5"/>
<rect x="159.04" y="260.78" width="0.8" height="0.8" fill="#5a80c0" opacity="0.5"/>
<rect x="158.39" y="260.25" width="0.8" height="0.8" fill="#5a80c0" opacity="0.5"/>
<rect x="160.22" y="257.34" width="0.8" height="0.8" fill="#5a80c0" opacity="0.5"/>
<rect x="158.31" y="257.16" width="0.8" height="0.8" fill="#5a80c0" opacity="0.5"/>
<rect x="157.55" y="257.07" width="0.8" height="0.8" fill="#5a80c0" opacity="0.5"/>
<rect x="158.55" y="258.95" width="0.8" height="0.8" fill="#5a80c0" opacity="0.5"/>
<rect x="161" y="263.88" width="0.8" height="0.8" fill="#5a80c0" opacity="0.5"/>
<rect x="158.33" y="260.71" width="0.8" height="0.8" fill="#5a80c0" opacity="0.5"/>
<rect x="159.44" y="261.43" width="0.8" height="0.8" fill="#5a80c0" opacity="0.5"/>
<rect x="159.03" y="259.2" width="0.8" height="0.8" fill="#5a80c0" opacity="0.5"/>
<rect x="158.3" y="254.47" width="0.8" height="0.8" fill="#5a80c0" opacity="0.5"/>
<rect x="160.31" y="263.84" width="0.8" height="0.8" fill="#5a80c0" opacity="0.5"/>
<rect x="159.99" y="259.96" width="0.8" height="0.8" fill="#5a80c0" opacity="0.5"/>
<rect x="159.4" y="255.97" width="0.8" height="0.8" fill="#5a80c0" opacity="0.5"/>
<rect x="156.33" y="260.99" width="0.8" height="0.8" fill="#5a80c0" opacity="0.5"/>
<rect x="159.3" y="255.51" width="0.8" height="0.8" fill="#5a80c0" opacity="0.5"/>
<rect x="157.55" y="263.75" width="0.8" height="0.8" fill="#5a80c0" opacity="0.5"/>
<rect x="156.29" y="265.93" width="0.8" height="0.8" fill="#5a80c0" opacity="0.5"/>
<rect x="159.96" y="268.67" width="0.8" height="0.8" fill="#5a80c0" opacity="0.5"/>
<rect x="157.92" y="257.9" width="0.8" height="0.8" fill="#5a80c0" opacity="0.5"/>
<rect x="158.24" y="258.7" width="0.8" height="0.8" fill="#5a80c0" opacity="0.5"/>
<rect x="158.69" y="254.63" width="0.8" height="0.8" fill="#5a80c0" opacity="0.5"/>
<rect x="160.61" y="254.47" width="0.8" height="0.8" fill="#5a80c0" opacity="0.5"/>
<rect x="158.24" y="260.5" width="0.8" height="0.8" fill="#5a80c0" opacity="0.5"/>
<rect x="158.19" y="256.04" width="0.8" height="0.8" fill="#5a80c0" opacity="0.5"/>
<rect x="159.53" y="256.34" width="0.8" height="0.8" fill="#5a80c0" opacity="0.5"/>
<rect x="157.13" y="257.54" width="0.8" height="0.8" fill="#5a80c0" opacity="0.5"/>
<rect x="158.67" y="265.67" width="0.8" height="0.8" fill="#5a80c0" opacity="0.5"/>
<rect x="157.35" y="262.36" width="0.8" height="0.8" fill="#5a80c0" opacity="0.5"/>
<rect x="157.82" y="256.4" width="0.8" height="0.8" fill="#5a80c0" opacity="0.5"/>
<rect x="158.51" y="259.22" width="0.8" height="0.8" fill="#5a80c0" opacity="0.5"/>
<rect x="160.3" y="265.87" width="0.8" height="0.8" fill="#5a80c0" opacity="0.5"/>
<rect x="158.05" y="263.98" width="0.8" height="0.8" fill="#5a80c0" opacity="0.5"/>
<rect x="160.49" y="261.66" width="0.8" height="0.8" fill="#5a80c0" opacity="0.5"/>
<rect x="157.86" y="262.05" width="0.8" height="0.8" fill="#5a80c0" opacity="0.5"/>
<rect x="158.84" y="259.59" width="0.8" height="0.8" fill="#5a80c0" opacity="0.5"/>
<rect x="158.6" y="260.99" width="0.8" height="0.8" fill="#5a80c0" opacity="0.5"/>
<rect x="160.67" y="263.09" width="0.8" height="0.8" fill="#5a80c0" opacity="0.5"/>
<rect x="158.69" y="262.48" width="0.8" height="0.8" fill="#5a80c0" opacity="0.5"/>
<rect x="161.18" y="253.79" width="0.8" height="0.8" fill="#5a80c0" opacity="0.5"/>
<rect x="161.21" y="251.99" width="0.8" height="0.8" fill="#5a80c0" opacity="0.5"/>
<rect x="159.81" y="260.67" width="0.8" height="0.8" fill="#5a80c0" opacity="0.5"/>
<rect x="161.22" y="259.25" width="0.8" height="0.8" fill="#5a80c0" opacity="0.5"/>
<rect x="158.28" y="254.41" width="0.8" height="0.8" fill="#5a80c0" opacity="0.5"/>
<rect x="157.12" y="261.45" width="0.8" height="0.8" fill="#5a80c0" opacity="0.5"/>
<rect x="158.64" y="254.77" width="0.8" height="0.8" fill="#5a80c0" opacity="0.5"/>
<rect x="159.8" y="254.56" width="0.8" height="0.8" fill="#5a80c0" opacity="0.5"/>
<rect x="158.34" y="255.94" width="0.8" height="0.8" fill="#5a80c0" opacity="0.5"/>
<rect x="161.48" y="264.58" width="0.8" height="0.8" fill="#5a80c0" opacity="0.5"/>
<rect x="158.76" y="250.93" width="0.8" height="0.8" fill="#5a80c0" opacity="0.5"/>
<rect x="159.41" y="258.32" width="0.8" height="0.8" fill="#5a80c0" opacity="0.5"/>
<rect x="159.52" y="260.54" width="0.8" height="0.8" fill="#5a80c0" opacity="0.5"/>
<rect x="158.52" y="262.16" width="0.8" height="0.8" fill="#5a80c0" opacity="0.5"/>
<rect x="160.26" y="258.95" width="0.8" height="0.8" fill="#5a80c0" opacity="0.5"/>
<rect x="158.39" y="255.84" width="0.8" height="0.8" fill="#5a80c0" opacity="0.5"/>
<rect x="160.04" y="253.05" width="0.8" height="0.8" fill="#5a80c0" opacity="0.5"/>
<rect x="158.76" y="254.63" width="0.8" height="0.8" fill="#5a80c0" opacity="0.5"/>
<rect x="156.91" y="260.72" width="0.8" height="0.8" fill="#5a80c0" opacity="0.5"/>
<rect x="158.96" y="258.16" width="0.8" height="0.8" fill="#5a80c0" opacity="0.5"/>
<rect x="160.31" y="251.28" width="0.8" height="0.8" fill="#5a80c0" opacity="0.5"/>
<rect x="158.9" y="259.3" width="0.8" height="0.8" fill="#5a80c0" opacity="0.5"/>
<rect x="160.25" y="253.12" width="0.8" height="0.8" fill="#5a80c0" opacity="0.5"/>
<rect x="160.07" y="258.99" width="0.8" height="0.8" fill="#5a80c0" opacity="0.5"/>
<rect x="161.03" y="263.12" width="0.8" height="0.8" fill="#5a80c0" opacity="0.5"/>
<rect x="159.82" y="267.67" width="0.8" height="0.8" fill="#5a80c0" opacity="0.5"/>
<rect x="159" y="256.09" width="0.8" height="0.8" fill="#5a80c0" opacity="0.5"/>
<rect x="158.49" y="253.77" width="0.8" height="0.8" fill="#5a80c0" opacity="0.5"/>
<rect x="158.96" y="249.55" width="0.8" height="0.8" fill="#5a80c0" opacity="0.5"/>
<rect x="158.87" y="259.92" width="0.8" height="0.8" fill="#5a80c0" opacity="0.5"/>
<rect x="160.49" y="256.44" width="0.8" height="0.8" fill="#5a80c0" opacity="0.5"/>
<rect x="161.08" y="255.07" width="0.8" height="0.8" fill="#5a80c0" opacity="0.5"/>
<rect x="158.8" y="249.55" width="0.8" height="0.8" fill="#5a80c0" opacity="0.5"/>
<rect x="157.86" y="254.44" width="0.8" height="0.8" fill="#5a80c0" opacity="0.5"/>
<rect x="161.19" y="260.33" width="0.8" height="0.8" fill="#5a80c0" opacity="0.5"/>
<rect x="157.38" y="260.35" width="0.8" height="0.8" fill="#5a80c0" opacity="0.5"/>
<rect x="159.71" y="256.97" width="0.8" height="0.8" fill="#5a80c0" opacity="0.5"/>
<rect x="159.03" y="256.66" width="0.8" height="0.8" fill="#5a80c0" opacity="0.5"/>
<rect x="158.21" y="250.21" width="0.8" height="0.8" fill="#5a80c0" opacity="0.5"/>
<rect x="158.87" y="263.64" width="0.8" height="0.8" fill="#5a80c0" opacity="0.5"/>
<rect x="161.1" y="256.78" width="0.8" height="0.8" fill="#5a80c0" opacity="0.5"/>
<rect x="157.91" y="257.07" width="0.8" height="0.8" fill="#5a80c0" opacity="0.5"/>
<rect x="160.31" y="259.54" width="0.8" height="0.8" fill="#5a80c0" opacity="0.5"/>
<rect x="158.94" y="226.08" width="0.7" height="0.7" fill="#6a8cc8" opacity="0.35"/>
<rect x="154.29" y="222.51" width="0.7" height="0.7" fill="#6a8cc8" opacity="0.35"/>
<rect x="172.52" y="251.87" width="0.7" height="0.7" fill="#6a8cc8" opacity="0.35"/>
<rect x="150.94" y="228.29" width="0.7" height="0.7" fill="#6a8cc8" opacity="0.35"/>
<rect x="163.71" y="239.48" width="0.7" height="0.7" fill="#6a8cc8" opacity="0.35"/>
<rect x="183.05" y="234.33" width="0.7" height="0.7" fill="#6a8cc8" opacity="0.35"/>
<rect x="151.6" y="322.93" width="0.8" height="0.8" fill="#6a8cc8" opacity="0.45"/>
<rect x="154.78" y="319.51" width="0.8" height="0.8" fill="#6a8cc8" opacity="0.45"/>
<rect x="150.97" y="321.57" width="0.8" height="0.8" fill="#6a8cc8" opacity="0.45"/>
<rect x="149.45" y="314.23" width="0.8" height="0.8" fill="#6a8cc8" opacity="0.45"/>
<rect x="154.58" y="320.53" width="0.8" height="0.8" fill="#6a8cc8" opacity="0.45"/>
<rect x="151.01" y="313.74" width="0.8" height="0.8" fill="#6a8cc8" opacity="0.45"/>
<rect x="153.42" y="309.43" width="0.8" height="0.8" fill="#6a8cc8" opacity="0.45"/>
<rect x="154.37" y="317.91" width="0.8" height="0.8" fill="#6a8cc8" opacity="0.45"/>
<rect x="152.04" y="317.83" width="0.8" height="0.8" fill="#6a8cc8" opacity="0.45"/>
<rect x="154.66" y="317.05" width="0.8" height="0.8" fill="#6a8cc8" opacity="0.45"/>
<rect x="154.12" y="321.15" width="0.8" height="0.8" fill="#6a8cc8" opacity="0.45"/>
<rect x="151.98" y="316.55" width="0.8" height="0.8" fill="#6a8cc8" opacity="0.45"/>
<rect x="151.88" y="319.51" width="0.8" height="0.8" fill="#6a8cc8" opacity="0.45"/>
<rect x="152.13" y="317.61" width="0.8" height="0.8" fill="#6a8cc8" opacity="0.45"/>
<rect x="153.29" y="316.23" width="0.8" height="0.8" fill="#6a8cc8" opacity="0.45"/>
<rect x="156.66" y="315.71" width="0.8" height="0.8" fill="#6a8cc8" opacity="0.45"/>
<rect x="156.02" y="318.8" width="0.8" height="0.8" fill="#6a8cc8" opacity="0.45"/>
<rect x="155.81" y="315.44" width="0.8" height="0.8" fill="#6a8cc8" opacity="0.45"/>
<rect x="154.98" y="318.56" width="0.8" height="0.8" fill="#6a8cc8" opacity="0.45"/>
<rect x="151.69" y="316.91" width="0.8" height="0.8" fill="#6a8cc8" opacity="0.45"/>
<rect x="152.73" y="315.88" width="0.8" height="0.8" fill="#6a8cc8" opacity="0.45"/>
<rect x="155.77" y="313.56" width="0.8" height="0.8" fill="#6a8cc8" opacity="0.45"/>
<rect x="149.42" y="310.11" width="0.8" height="0.8" fill="#6a8cc8" opacity="0.45"/>
<rect x="152.04" y="313.82" width="0.8" height="0.8" fill="#6a8cc8" opacity="0.45"/>
<rect x="153.03" y="317.91" width="0.8" height="0.8" fill="#6a8cc8" opacity="0.45"/>
<rect x="156.74" y="317.04" width="0.8" height="0.8" fill="#6a8cc8" opacity="0.45"/>
<rect x="153.98" y="313.52" width="0.8" height="0.8" fill="#6a8cc8" opacity="0.45"/>
<rect x="154.23" y="320.59" width="0.8" height="0.8" fill="#6a8cc8" opacity="0.45"/>
<rect x="155.85" y="309.4" width="0.8" height="0.8" fill="#6a8cc8" opacity="0.45"/>
<rect x="154.89" y="321.35" width="0.8" height="0.8" fill="#6a8cc8" opacity="0.45"/>
<rect x="154.75" y="310.96" width="0.8" height="0.8" fill="#6a8cc8" opacity="0.45"/>
<rect x="152.35" y="317.98" width="0.8" height="0.8" fill="#6a8cc8" opacity="0.45"/>
<rect x="153.88" y="313.26" width="0.8" height="0.8" fill="#6a8cc8" opacity="0.45"/>
<rect x="151.11" y="319.26" width="0.8" height="0.8" fill="#6a8cc8" opacity="0.45"/>
<rect x="150.17" y="320.83" width="0.8" height="0.8" fill="#6a8cc8" opacity="0.45"/>
<rect x="153.04" y="317.01" width="0.8" height="0.8" fill="#6a8cc8" opacity="0.45"/>
<rect x="150.17" y="313.99" width="0.8" height="0.8" fill="#6a8cc8" opacity="0.45"/>
<rect x="154.46" y="311.04" width="0.8" height="0.8" fill="#6a8cc8" opacity="0.45"/>
<rect x="157.39" y="311.27" width="0.8" height="0.8" fill="#6a8cc8" opacity="0.45"/>
<rect x="150.41" y="316.15" width="0.8" height="0.8" fill="#6a8cc8" opacity="0.45"/>
<rect x="154.02" y="318.47" width="0.8" height="0.8" fill="#6a8cc8" opacity="0.45"/>
<rect x="152.21" y="315.3" width="0.8" height="0.8" fill="#6a8cc8" opacity="0.45"/>
<rect x="152.5" y="314.06" width="0.8" height="0.8" fill="#6a8cc8" opacity="0.45"/>
<rect x="147.55" y="319.24" width="0.8" height="0.8" fill="#6a8cc8" opacity="0.45"/>
<rect x="153.53" y="316.53" width="0.8" height="0.8" fill="#6a8cc8" opacity="0.45"/>
<rect x="151.67" y="316.85" width="0.8" height="0.8" fill="#6a8cc8" opacity="0.45"/>
<rect x="152.97" y="315.74" width="0.8" height="0.8" fill="#6a8cc8" opacity="0.45"/>
<rect x="155.34" y="310.21" width="0.8" height="0.8" fill="#6a8cc8" opacity="0.45"/>
<rect x="153.53" y="312.41" width="0.8" height="0.8" fill="#6a8cc8" opacity="0.45"/>
<rect x="152.33" y="321.04" width="0.8" height="0.8" fill="#6a8cc8" opacity="0.45"/>
<rect x="150.71" y="315.66" width="0.8" height="0.8" fill="#6a8cc8" opacity="0.45"/>
<rect x="151.75" y="319.19" width="0.8" height="0.8" fill="#6a8cc8" opacity="0.45"/>
<rect x="150.93" y="310.34" width="0.8" height="0.8" fill="#6a8cc8" opacity="0.45"/>
<rect x="154.09" y="314.81" width="0.8" height="0.8" fill="#6a8cc8" opacity="0.45"/>
<rect x="152.33" y="319.63" width="0.8" height="0.8" fill="#6a8cc8" opacity="0.45"/>
<rect x="151.12" y="314.74" width="0.8" height="0.8" fill="#6a8cc8" opacity="0.45"/>
<rect x="153.31" y="317.39" width="0.8" height="0.8" fill="#6a8cc8" opacity="0.45"/>
<rect x="151.91" y="319.48" width="0.8" height="0.8" fill="#6a8cc8" opacity="0.45"/>
<rect x="157.74" y="314.63" width="0.8" height="0.8" fill="#6a8cc8" opacity="0.45"/>
<rect x="156.95" y="308.91" width="0.8" height="0.8" fill="#6a8cc8" opacity="0.45"/>
<rect x="155.97" y="314.84" width="0.8" height="0.8" fill="#6a8cc8" opacity="0.45"/>
<rect x="153.29" y="314.86" width="0.8" height="0.8" fill="#6a8cc8" opacity="0.45"/>
<rect x="151.66" y="311.71" width="0.8" height="0.8" fill="#6a8cc8" opacity="0.45"/>
<rect x="152.17" y="320.36" width="0.8" height="0.8" fill="#6a8cc8" opacity="0.45"/>
<rect x="155.41" y="314.83" width="0.8" height="0.8" fill="#6a8cc8" opacity="0.45"/>
<rect x="151.88" y="313.64" width="0.8" height="0.8" fill="#6a8cc8" opacity="0.45"/>
<rect x="150.47" y="322.06" width="0.8" height="0.8" fill="#6a8cc8" opacity="0.45"/>
<rect x="154.4" y="316.39" width="0.8" height="0.8" fill="#6a8cc8" opacity="0.45"/>
<rect x="151.96" y="312.56" width="0.8" height="0.8" fill="#6a8cc8" opacity="0.45"/>
<rect x="155.78" y="318.62" width="0.8" height="0.8" fill="#6a8cc8" opacity="0.45"/>
<rect x="151.44" y="343.7" width="0.8" height="0.8" fill="#5a80c0" opacity="0.45"/>
<rect x="151.02" y="341.7" width="0.8" height="0.8" fill="#5a80c0" opacity="0.45"/>
<rect x="151.42" y="335.61" width="0.8" height="0.8" fill="#5a80c0" opacity="0.45"/>
<rect x="155.33" y="340.49" width="0.8" height="0.8" fill="#5a80c0" opacity="0.45"/>
<rect x="156.72" y="333.18" width="0.8" height="0.8" fill="#5a80c0" opacity="0.45"/>
<rect x="158.24" y="345.74" width="0.8" height="0.8" fill="#5a80c0" opacity="0.45"/>
<rect x="153.97" y="340.68" width="0.8" height="0.8" fill="#5a80c0" opacity="0.45"/>
<rect x="151.91" y="337.12" width="0.8" height="0.8" fill="#5a80c0" opacity="0.45"/>
<rect x="150.45" y="338.51" width="0.8" height="0.8" fill="#5a80c0" opacity="0.45"/>
<rect x="154.54" y="345.74" width="0.8" height="0.8" fill="#5a80c0" opacity="0.45"/>
<rect x="156.55" y="342.69" width="0.8" height="0.8" fill="#5a80c0" opacity="0.45"/>
<rect x="153.03" y="336.71" width="0.8" height="0.8" fill="#5a80c0" opacity="0.45"/>
<rect x="153.08" y="339.28" width="0.8" height="0.8" fill="#5a80c0" opacity="0.45"/>
<rect x="148.81" y="342.44" width="0.8" height="0.8" fill="#5a80c0" opacity="0.45"/>
<rect x="149.79" y="335.03" width="0.8" height="0.8" fill="#5a80c0" opacity="0.45"/>
<rect x="154.06" y="335.04" width="0.8" height="0.8" fill="#5a80c0" opacity="0.45"/>
<rect x="158.47" y="337.44" width="0.8" height="0.8" fill="#5a80c0" opacity="0.45"/>
<rect x="158.22" y="344.76" width="0.8" height="0.8" fill="#5a80c0" opacity="0.45"/>
<rect x="152.66" y="340.31" width="0.8" height="0.8" fill="#5a80c0" opacity="0.45"/>
<rect x="157.49" y="336.08" width="0.8" height="0.8" fill="#5a80c0" opacity="0.45"/>
<rect x="154.24" y="334.79" width="0.8" height="0.8" fill="#5a80c0" opacity="0.45"/>
<rect x="154.16" y="335.96" width="0.8" height="0.8" fill="#5a80c0" opacity="0.45"/>
<rect x="154.22" y="343.77" width="0.8" height="0.8" fill="#5a80c0" opacity="0.45"/>
<rect x="157.74" y="338.77" width="0.8" height="0.8" fill="#5a80c0" opacity="0.45"/>
<rect x="154.54" y="342.93" width="0.8" height="0.8" fill="#5a80c0" opacity="0.45"/>
<rect x="153.22" y="331.9" width="0.8" height="0.8" fill="#5a80c0" opacity="0.45"/>
<rect x="156.98" y="332.62" width="0.8" height="0.8" fill="#5a80c0" opacity="0.45"/>
<rect x="156.5" y="332.44" width="0.8" height="0.8" fill="#5a80c0" opacity="0.45"/>
<rect x="158.92" y="331.99" width="0.8" height="0.8" fill="#5a80c0" opacity="0.45"/>
<rect x="156.28" y="346.64" width="0.8" height="0.8" fill="#5a80c0" opacity="0.45"/>
<rect x="151.42" y="346.56" width="0.8" height="0.8" fill="#5a80c0" opacity="0.45"/>
<rect x="151.79" y="327.84" width="0.8" height="0.8" fill="#5a80c0" opacity="0.45"/>
<rect x="155.94" y="342.04" width="0.8" height="0.8" fill="#5a80c0" opacity="0.45"/>
<rect x="153.46" y="323.46" width="0.8" height="0.8" fill="#5a80c0" opacity="0.45"/>
<rect x="153.85" y="336.24" width="0.8" height="0.8" fill="#5a80c0" opacity="0.45"/>
<rect x="152.98" y="336.33" width="0.8" height="0.8" fill="#5a80c0" opacity="0.45"/>
<rect x="149.19" y="334.73" width="0.8" height="0.8" fill="#5a80c0" opacity="0.45"/>
<rect x="158.84" y="346.91" width="0.8" height="0.8" fill="#5a80c0" opacity="0.45"/>
<rect x="153.03" y="333.9" width="0.8" height="0.8" fill="#5a80c0" opacity="0.45"/>
<rect x="155.07" y="344.12" width="0.8" height="0.8" fill="#5a80c0" opacity="0.45"/>
<rect x="155.94" y="331.27" width="0.8" height="0.8" fill="#5a80c0" opacity="0.45"/>
<rect x="154.44" y="338.81" width="0.8" height="0.8" fill="#5a80c0" opacity="0.45"/>
<rect x="157.87" y="344.89" width="0.8" height="0.8" fill="#5a80c0" opacity="0.45"/>
<rect x="155.41" y="345.01" width="0.8" height="0.8" fill="#5a80c0" opacity="0.45"/>
<rect x="152.94" y="346.86" width="0.8" height="0.8" fill="#5a80c0" opacity="0.45"/>
<rect x="152.86" y="340.28" width="0.8" height="0.8" fill="#5a80c0" opacity="0.45"/>
<rect x="156.47" y="332.74" width="0.8" height="0.8" fill="#5a80c0" opacity="0.45"/>
<rect x="152.11" y="327.87" width="0.8" height="0.8" fill="#5a80c0" opacity="0.45"/>
<rect x="154.44" y="337.68" width="0.8" height="0.8" fill="#5a80c0" opacity="0.45"/>
<rect x="153.12" y="340.87" width="0.8" height="0.8" fill="#5a80c0" opacity="0.45"/>
<rect x="148.31" y="337.86" width="0.8" height="0.8" fill="#5a80c0" opacity="0.45"/>
<rect x="154.23" y="336.47" width="0.8" height="0.8" fill="#5a80c0" opacity="0.45"/>
<rect x="156.13" y="348.09" width="0.8" height="0.8" fill="#5a80c0" opacity="0.45"/>
<rect x="152.8" y="332.59" width="0.8" height="0.8" fill="#5a80c0" opacity="0.45"/>
<rect x="152.38" y="338.53" width="0.8" height="0.8" fill="#5a80c0" opacity="0.45"/>
<rect x="155.58" y="333.04" width="0.8" height="0.8" fill="#5a80c0" opacity="0.45"/>
<rect x="156.69" y="332.1" width="0.8" height="0.8" fill="#5a80c0" opacity="0.45"/>
<rect x="156.22" y="340.46" width="0.8" height="0.8" fill="#5a80c0" opacity="0.45"/>
<rect x="155.25" y="350.43" width="0.8" height="0.8" fill="#5a80c0" opacity="0.45"/>
<rect x="153.29" y="337.05" width="0.8" height="0.8" fill="#5a80c0" opacity="0.45"/>
<rect x="155.28" y="342.97" width="0.8" height="0.8" fill="#5a80c0" opacity="0.45"/>
<rect x="150.4" y="339.58" width="0.8" height="0.8" fill="#5a80c0" opacity="0.45"/>
<rect x="152.01" y="341.63" width="0.8" height="0.8" fill="#5a80c0" opacity="0.45"/>
<rect x="157.68" y="338.3" width="0.8" height="0.8" fill="#5a80c0" opacity="0.45"/>
<rect x="153.71" y="339.06" width="0.8" height="0.8" fill="#5a80c0" opacity="0.45"/>
<rect x="146.06" y="342.44" width="0.8" height="0.8" fill="#5a80c0" opacity="0.45"/>
<rect x="155.51" y="338.95" width="0.8" height="0.8" fill="#5a80c0" opacity="0.45"/>
<rect x="152.94" y="333.79" width="0.8" height="0.8" fill="#5a80c0" opacity="0.45"/>
<rect x="153.52" y="344.99" width="0.8" height="0.8" fill="#5a80c0" opacity="0.45"/>
<rect x="153.72" y="345.76" width="0.8" height="0.8" fill="#5a80c0" opacity="0.45"/>
<rect x="147.09" y="335.35" width="0.8" height="0.8" fill="#5a80c0" opacity="0.45"/>
<rect x="154.74" y="337.92" width="0.8" height="0.8" fill="#5a80c0" opacity="0.45"/>
<rect x="149.54" y="334.17" width="0.8" height="0.8" fill="#5a80c0" opacity="0.45"/>
<rect x="157.36" y="330.56" width="0.8" height="0.8" fill="#5a80c0" opacity="0.45"/>
<rect x="151.34" y="331.68" width="0.8" height="0.8" fill="#5a80c0" opacity="0.45"/>
<rect x="152.52" y="341.7" width="0.8" height="0.8" fill="#5a80c0" opacity="0.45"/>
<rect x="155.6" y="326.31" width="0.8" height="0.8" fill="#5a80c0" opacity="0.45"/>
<rect x="157.92" y="334.59" width="0.8" height="0.8" fill="#5a80c0" opacity="0.45"/>
<rect x="152.42" y="347.61" width="0.8" height="0.8" fill="#5a80c0" opacity="0.45"/>
<rect x="153.78" y="330.86" width="0.8" height="0.8" fill="#5a80c0" opacity="0.45"/>
<rect x="152.28" y="333.81" width="0.8" height="0.8" fill="#5a80c0" opacity="0.45"/>
<rect x="151.29" y="336.08" width="0.8" height="0.8" fill="#5a80c0" opacity="0.45"/>
<rect x="156.36" y="340.02" width="0.8" height="0.8" fill="#5a80c0" opacity="0.45"/>
<rect x="150.29" y="354.06" width="0.8" height="0.8" fill="#5a80c0" opacity="0.45"/>
<rect x="151.34" y="338.67" width="0.8" height="0.8" fill="#5a80c0" opacity="0.45"/>
<rect x="154.08" y="342.39" width="0.8" height="0.8" fill="#5a80c0" opacity="0.45"/>
<rect x="153.12" y="340.63" width="0.8" height="0.8" fill="#5a80c0" opacity="0.45"/>
<rect x="159.66" y="338.55" width="0.8" height="0.8" fill="#5a80c0" opacity="0.45"/>
<rect x="151.09" y="339.89" width="0.8" height="0.8" fill="#5a80c0" opacity="0.45"/>
<rect x="151.84" y="335.87" width="0.8" height="0.8" fill="#5a80c0" opacity="0.45"/>
<rect x="154.51" y="339.94" width="0.8" height="0.8" fill="#5a80c0" opacity="0.45"/>
<rect x="153.24" y="342.89" width="0.8" height="0.8" fill="#5a80c0" opacity="0.45"/>
<rect x="153.48" y="330.49" width="0.8" height="0.8" fill="#5a80c0" opacity="0.45"/>
<rect x="156.36" y="335.9" width="0.8" height="0.8" fill="#5a80c0" opacity="0.45"/>
<rect x="157.26" y="334.23" width="0.8" height="0.8" fill="#5a80c0" opacity="0.45"/>
<rect x="155.54" y="339.81" width="0.8" height="0.8" fill="#5a80c0" opacity="0.45"/>
<rect x="146.75" y="329.4" width="0.8" height="0.8" fill="#5a80c0" opacity="0.45"/>
<rect x="150.99" y="346.1" width="0.8" height="0.8" fill="#5a80c0" opacity="0.45"/>
<rect x="148.92" y="343.26" width="0.8" height="0.8" fill="#5a80c0" opacity="0.45"/>
<rect x="156.94" y="340.85" width="0.8" height="0.8" fill="#5a80c0" opacity="0.45"/>
<rect x="155.81" y="335.14" width="0.8" height="0.8" fill="#5a80c0" opacity="0.45"/>
<rect x="153.97" y="339.29" width="0.8" height="0.8" fill="#5a80c0" opacity="0.45"/>
<rect x="155.13" y="342.07" width="0.8" height="0.8" fill="#5a80c0" opacity="0.45"/>
<rect x="153.44" y="333.96" width="0.8" height="0.8" fill="#5a80c0" opacity="0.45"/>
<rect x="152.49" y="340.37" width="0.8" height="0.8" fill="#5a80c0" opacity="0.45"/>
<rect x="149.54" y="330.78" width="0.8" height="0.8" fill="#5a80c0" opacity="0.45"/>
<rect x="152.89" y="334.82" width="0.8" height="0.8" fill="#5a80c0" opacity="0.45"/>
<rect x="153.27" y="322.66" width="0.8" height="0.8" fill="#5a80c0" opacity="0.45"/>
<rect x="153.08" y="336.55" width="0.8" height="0.8" fill="#5a80c0" opacity="0.45"/>
<rect x="156.09" y="326.6" width="0.8" height="0.8" fill="#5a80c0" opacity="0.45"/>
<rect x="153.18" y="340.73" width="0.8" height="0.8" fill="#5a80c0" opacity="0.45"/>
<rect x="155.32" y="344.89" width="0.8" height="0.8" fill="#5a80c0" opacity="0.45"/>
<rect x="156.84" y="331.95" width="0.8" height="0.8" fill="#5a80c0" opacity="0.45"/>
<rect x="155.71" y="336.07" width="0.8" height="0.8" fill="#5a80c0" opacity="0.45"/>
<rect x="151.84" y="346.84" width="0.8" height="0.8" fill="#5a80c0" opacity="0.45"/>
<rect x="152.31" y="333.08" width="0.8" height="0.8" fill="#5a80c0" opacity="0.45"/>
<rect x="152.9" y="333.09" width="0.8" height="0.8" fill="#5a80c0" opacity="0.45"/>
<rect x="156.71" y="340.19" width="0.8" height="0.8" fill="#5a80c0" opacity="0.45"/>
<rect x="157.77" y="340.37" width="0.8" height="0.8" fill="#5a80c0" opacity="0.45"/>
<rect x="152.34" y="344.04" width="0.8" height="0.8" fill="#5a80c0" opacity="0.45"/>
<rect x="152.24" y="335.33" width="0.8" height="0.8" fill="#5a80c0" opacity="0.45"/>
<rect x="153.55" y="338.23" width="0.8" height="0.8" fill="#5a80c0" opacity="0.45"/>
<rect x="157.22" y="334.5" width="0.8" height="0.8" fill="#5a80c0" opacity="0.45"/>
<rect x="154.95" y="337.84" width="0.8" height="0.8" fill="#5a80c0" opacity="0.45"/>
<rect x="150.61" y="331.68" width="0.8" height="0.8" fill="#5a80c0" opacity="0.45"/>
<rect x="153.41" y="340.34" width="0.8" height="0.8" fill="#5a80c0" opacity="0.45"/>
<rect x="154.86" y="340.77" width="0.8" height="0.8" fill="#5a80c0" opacity="0.45"/>
<rect x="154.13" y="335.41" width="0.8" height="0.8" fill="#5a80c0" opacity="0.45"/>
<rect x="155.15" y="332.21" width="0.8" height="0.8" fill="#5a80c0" opacity="0.45"/>
<rect x="150.38" y="336.08" width="0.8" height="0.8" fill="#5a80c0" opacity="0.45"/>
<rect x="150.14" y="335.03" width="0.8" height="0.8" fill="#5a80c0" opacity="0.45"/>
<rect x="151.98" y="334.8" width="0.8" height="0.8" fill="#5a80c0" opacity="0.45"/>
<rect x="153.88" y="333.37" width="0.8" height="0.8" fill="#5a80c0" opacity="0.45"/>
<rect x="152.86" y="328.11" width="0.8" height="0.8" fill="#5a80c0" opacity="0.45"/>
<rect x="154.39" y="332.91" width="0.8" height="0.8" fill="#5a80c0" opacity="0.45"/>
<rect x="155.09" y="321.65" width="0.8" height="0.8" fill="#5a80c0" opacity="0.45"/>
<rect x="151.84" y="339.41" width="0.8" height="0.8" fill="#5a80c0" opacity="0.45"/>
<rect x="147.41" y="335.92" width="0.8" height="0.8" fill="#5a80c0" opacity="0.45"/>
<rect x="154.26" y="338.6" width="0.8" height="0.8" fill="#5a80c0" opacity="0.45"/>
<rect x="149.96" y="339.33" width="0.8" height="0.8" fill="#5a80c0" opacity="0.45"/>
<rect x="154.4" y="332.37" width="0.8" height="0.8" fill="#5a80c0" opacity="0.45"/>
<rect x="156.01" y="337.72" width="0.8" height="0.8" fill="#5a80c0" opacity="0.45"/>
<rect x="154.05" y="335.4" width="0.8" height="0.8" fill="#5a80c0" opacity="0.45"/>
<rect x="155.48" y="338.56" width="0.8" height="0.8" fill="#5a80c0" opacity="0.45"/>
<rect x="157.07" y="340.61" width="0.8" height="0.8" fill="#5a80c0" opacity="0.45"/>
<rect x="152.33" y="336.71" width="0.8" height="0.8" fill="#5a80c0" opacity="0.45"/>
<rect x="156.48" y="335.88" width="0.8" height="0.8" fill="#5a80c0" opacity="0.45"/>
<rect x="155.03" y="341.02" width="0.8" height="0.8" fill="#5a80c0" opacity="0.45"/>
<rect x="153.51" y="324.51" width="0.8" height="0.8" fill="#5a80c0" opacity="0.45"/>
<rect x="154.36" y="339.24" width="0.8" height="0.8" fill="#5a80c0" opacity="0.45"/>
<rect x="263.67" y="242.86" width="0.8" height="0.8" fill="#5a80c0" opacity="0.5"/>
<rect x="265.02" y="247.09" width="0.8" height="0.8" fill="#5a80c0" opacity="0.5"/>
<rect x="262.72" y="243.15" width="0.8" height="0.8" fill="#5a80c0" opacity="0.5"/>
<rect x="263.95" y="240.62" width="0.8" height="0.8" fill="#5a80c0" opacity="0.5"/>
<rect x="262.24" y="261.54" width="0.8" height="0.8" fill="#5a80c0" opacity="0.5"/>
<rect x="265.15" y="255.13" width="0.8" height="0.8" fill="#5a80c0" opacity="0.5"/>
<rect x="265.22" y="252.03" width="0.8" height="0.8" fill="#5a80c0" opacity="0.5"/>
<rect x="261.38" y="256.09" width="0.8" height="0.8" fill="#5a80c0" opacity="0.5"/>
<rect x="265.06" y="251.32" width="0.8" height="0.8" fill="#5a80c0" opacity="0.5"/>
<rect x="261.04" y="256.42" width="0.8" height="0.8" fill="#5a80c0" opacity="0.5"/>
<rect x="265.22" y="244.67" width="0.8" height="0.8" fill="#5a80c0" opacity="0.5"/>
<rect x="263.66" y="253.26" width="0.8" height="0.8" fill="#5a80c0" opacity="0.5"/>
<rect x="263.39" y="255.44" width="0.8" height="0.8" fill="#5a80c0" opacity="0.5"/>
<rect x="263.6" y="252.69" width="0.8" height="0.8" fill="#5a80c0" opacity="0.5"/>
<rect x="263.61" y="237.97" width="0.8" height="0.8" fill="#5a80c0" opacity="0.5"/>
<rect x="262.25" y="269.47" width="0.8" height="0.8" fill="#5a80c0" opacity="0.5"/>
<rect x="263.85" y="256.89" width="0.8" height="0.8" fill="#5a80c0" opacity="0.5"/>
<rect x="264.93" y="259.63" width="0.8" height="0.8" fill="#5a80c0" opacity="0.5"/>
<rect x="264.2" y="243.96" width="0.8" height="0.8" fill="#5a80c0" opacity="0.5"/>
<rect x="263.52" y="234.98" width="0.8" height="0.8" fill="#5a80c0" opacity="0.5"/>
<rect x="263.26" y="254.15" width="0.8" height="0.8" fill="#5a80c0" opacity="0.5"/>
<rect x="260.77" y="249.34" width="0.8" height="0.8" fill="#5a80c0" opacity="0.5"/>
<rect x="264.54" y="257.01" width="0.8" height="0.8" fill="#5a80c0" opacity="0.5"/>
<rect x="262.33" y="243.57" width="0.8" height="0.8" fill="#5a80c0" opacity="0.5"/>
<rect x="261.13" y="241.08" width="0.8" height="0.8" fill="#5a80c0" opacity="0.5"/>
<rect x="264.17" y="262.06" width="0.8" height="0.8" fill="#5a80c0" opacity="0.5"/>
<rect x="262.05" y="257.37" width="0.8" height="0.8" fill="#5a80c0" opacity="0.5"/>
<rect x="264.04" y="244.64" width="0.8" height="0.8" fill="#5a80c0" opacity="0.5"/>
<rect x="266.27" y="230.87" width="0.8" height="0.8" fill="#5a80c0" opacity="0.5"/>
<rect x="263.41" y="249.49" width="0.8" height="0.8" fill="#5a80c0" opacity="0.5"/>
<rect x="266.19" y="260.22" width="0.8" height="0.8" fill="#5a80c0" opacity="0.5"/>
<rect x="266.36" y="248.91" width="0.8" height="0.8" fill="#5a80c0" opacity="0.5"/>
<rect x="264.74" y="257.28" width="0.8" height="0.8" fill="#5a80c0" opacity="0.5"/>
<rect x="264.15" y="250.45" width="0.8" height="0.8" fill="#5a80c0" opacity="0.5"/>
<rect x="263.27" y="245.22" width="0.8" height="0.8" fill="#5a80c0" opacity="0.5"/>
<rect x="261.95" y="261.26" width="0.8" height="0.8" fill="#5a80c0" opacity="0.5"/>
<rect x="262.94" y="233.85" width="0.8" height="0.8" fill="#5a80c0" opacity="0.5"/>
<rect x="263.83" y="247.77" width="0.8" height="0.8" fill="#5a80c0" opacity="0.5"/>
<rect x="263.72" y="260.35" width="0.8" height="0.8" fill="#5a80c0" opacity="0.5"/>
<rect x="263.37" y="246.19" width="0.8" height="0.8" fill="#5a80c0" opacity="0.5"/>
<rect x="262.56" y="247.85" width="0.8" height="0.8" fill="#5a80c0" opacity="0.5"/>
<rect x="262.95" y="249.39" width="0.8" height="0.8" fill="#5a80c0" opacity="0.5"/>
<rect x="267.45" y="250.68" width="0.8" height="0.8" fill="#5a80c0" opacity="0.5"/>
<rect x="262.42" y="261.14" width="0.8" height="0.8" fill="#5a80c0" opacity="0.5"/>
<rect x="264.59" y="253.56" width="0.8" height="0.8" fill="#5a80c0" opacity="0.5"/>
<rect x="264.4" y="253.58" width="0.8" height="0.8" fill="#5a80c0" opacity="0.5"/>
<rect x="264.35" y="257.6" width="0.8" height="0.8" fill="#5a80c0" opacity="0.5"/>
<rect x="264.77" y="257.18" width="0.8" height="0.8" fill="#5a80c0" opacity="0.5"/>
<rect x="262.87" y="247.98" width="0.8" height="0.8" fill="#5a80c0" opacity="0.5"/>
<rect x="262.58" y="254.52" width="0.8" height="0.8" fill="#5a80c0" opacity="0.5"/>
<rect x="264.55" y="244.83" width="0.8" height="0.8" fill="#5a80c0" opacity="0.5"/>
<rect x="264.24" y="265.89" width="0.8" height="0.8" fill="#5a80c0" opacity="0.5"/>
<rect x="265.06" y="240.4" width="0.8" height="0.8" fill="#5a80c0" opacity="0.5"/>
<rect x="263.38" y="252.33" width="0.8" height="0.8" fill="#5a80c0" opacity="0.5"/>
<rect x="263.45" y="250.63" width="0.8" height="0.8" fill="#5a80c0" opacity="0.5"/>
<rect x="264.99" y="250.24" width="0.8" height="0.8" fill="#5a80c0" opacity="0.5"/>
<rect x="262.11" y="252.87" width="0.8" height="0.8" fill="#5a80c0" opacity="0.5"/>
<rect x="263.38" y="248.78" width="0.8" height="0.8" fill="#5a80c0" opacity="0.5"/>
<rect x="262.78" y="238.57" width="0.8" height="0.8" fill="#5a80c0" opacity="0.5"/>
<rect x="261.92" y="245.59" width="0.8" height="0.8" fill="#5a80c0" opacity="0.5"/>
<rect x="262.15" y="229.49" width="0.8" height="0.8" fill="#5a80c0" opacity="0.5"/>
<rect x="264.95" y="240.08" width="0.8" height="0.8" fill="#5a80c0" opacity="0.5"/>
<rect x="262.58" y="251.62" width="0.8" height="0.8" fill="#5a80c0" opacity="0.5"/>
<rect x="260.45" y="257.15" width="0.8" height="0.8" fill="#5a80c0" opacity="0.5"/>
<rect x="262.53" y="252.5" width="0.8" height="0.8" fill="#5a80c0" opacity="0.5"/>
<rect x="262.89" y="250.08" width="0.8" height="0.8" fill="#5a80c0" opacity="0.5"/>
<rect x="263.63" y="247.99" width="0.8" height="0.8" fill="#5a80c0" opacity="0.5"/>
<rect x="261.19" y="237.98" width="0.8" height="0.8" fill="#5a80c0" opacity="0.5"/>
<rect x="263.45" y="257.61" width="0.8" height="0.8" fill="#5a80c0" opacity="0.5"/>
<rect x="262.81" y="251.63" width="0.8" height="0.8" fill="#5a80c0" opacity="0.5"/>
<rect x="263.71" y="251.3" width="0.8" height="0.8" fill="#5a80c0" opacity="0.5"/>
<rect x="264.76" y="237.78" width="0.8" height="0.8" fill="#5a80c0" opacity="0.5"/>
<rect x="263.85" y="246.79" width="0.8" height="0.8" fill="#5a80c0" opacity="0.5"/>
<rect x="263.1" y="242.18" width="0.8" height="0.8" fill="#5a80c0" opacity="0.5"/>
<rect x="262.5" y="240.98" width="0.8" height="0.8" fill="#5a80c0" opacity="0.5"/>
<rect x="262.11" y="265.12" width="0.8" height="0.8" fill="#5a80c0" opacity="0.5"/>
<rect x="265.65" y="248.07" width="0.8" height="0.8" fill="#5a80c0" opacity="0.5"/>
<rect x="264.44" y="241.34" width="0.8" height="0.8" fill="#5a80c0" opacity="0.5"/>
<rect x="259.98" y="235.57" width="0.8" height="0.8" fill="#5a80c0" opacity="0.5"/>
<rect x="263.68" y="257.82" width="0.8" height="0.8" fill="#5a80c0" opacity="0.5"/>
<rect x="263.45" y="241.17" width="0.8" height="0.8" fill="#5a80c0" opacity="0.5"/>
<rect x="263.19" y="241.2" width="0.8" height="0.8" fill="#5a80c0" opacity="0.5"/>
<rect x="261.73" y="246.42" width="0.8" height="0.8" fill="#5a80c0" opacity="0.5"/>
<rect x="262.99" y="242.46" width="0.8" height="0.8" fill="#5a80c0" opacity="0.5"/>
<rect x="262.38" y="241.66" width="0.8" height="0.8" fill="#5a80c0" opacity="0.5"/>
<rect x="263.8" y="257.5" width="0.8" height="0.8" fill="#5a80c0" opacity="0.5"/>
<rect x="263.23" y="263.25" width="0.8" height="0.8" fill="#5a80c0" opacity="0.5"/>
<rect x="261.45" y="249.87" width="0.8" height="0.8" fill="#5a80c0" opacity="0.5"/>
<rect x="262.03" y="246.9" width="0.8" height="0.8" fill="#5a80c0" opacity="0.5"/>
<rect x="263.63" y="251.81" width="0.8" height="0.8" fill="#5a80c0" opacity="0.5"/>
<rect x="264.93" y="244.21" width="0.8" height="0.8" fill="#5a80c0" opacity="0.5"/>
<rect x="261.93" y="246.72" width="0.8" height="0.8" fill="#5a80c0" opacity="0.5"/>
<rect x="263.87" y="243.24" width="0.8" height="0.8" fill="#5a80c0" opacity="0.5"/>
<rect x="264.63" y="259.49" width="0.8" height="0.8" fill="#5a80c0" opacity="0.5"/>
<rect x="261.7" y="250.47" width="0.8" height="0.8" fill="#5a80c0" opacity="0.5"/>
<rect x="264.79" y="234.89" width="0.8" height="0.8" fill="#5a80c0" opacity="0.5"/>
<rect x="263.76" y="246.46" width="0.8" height="0.8" fill="#5a80c0" opacity="0.5"/>
<rect x="261.7" y="256.98" width="0.8" height="0.8" fill="#5a80c0" opacity="0.5"/>
<rect x="263.78" y="244.73" width="0.8" height="0.8" fill="#5a80c0" opacity="0.5"/>
<rect x="264.06" y="252.38" width="0.8" height="0.8" fill="#5a80c0" opacity="0.5"/>
<rect x="262" y="270.5" width="3" height="1" fill="#f0a070" opacity="0.6"/>
<rect x="250.72" y="316.98" width="0.8" height="0.8" fill="#6a8cc8" opacity="0.45"/>
<rect x="249.92" y="310.99" width="0.8" height="0.8" fill="#6a8cc8" opacity="0.45"/>
<rect x="248.06" y="315.44" width="0.8" height="0.8" fill="#6a8cc8" opacity="0.45"/>
<rect x="242.8" y="322.27" width="0.8" height="0.8" fill="#6a8cc8" opacity="0.45"/>
<rect x="248.15" y="311.4" width="0.8" height="0.8" fill="#6a8cc8" opacity="0.45"/>
<rect x="244.92" y="315.85" width="0.8" height="0.8" fill="#6a8cc8" opacity="0.45"/>
<rect x="249.07" y="313.01" width="0.8" height="0.8" fill="#6a8cc8" opacity="0.45"/>
<rect x="248.07" y="311.97" width="0.8" height="0.8" fill="#6a8cc8" opacity="0.45"/>
<rect x="247.32" y="314.67" width="0.8" height="0.8" fill="#6a8cc8" opacity="0.45"/>
<rect x="247.56" y="317.32" width="0.8" height="0.8" fill="#6a8cc8" opacity="0.45"/>
<rect x="248.68" y="315.45" width="0.8" height="0.8" fill="#6a8cc8" opacity="0.45"/>
<rect x="249.91" y="319.34" width="0.8" height="0.8" fill="#6a8cc8" opacity="0.45"/>
<rect x="250.35" y="315.78" width="0.8" height="0.8" fill="#6a8cc8" opacity="0.45"/>
<rect x="248.63" y="312.25" width="0.8" height="0.8" fill="#6a8cc8" opacity="0.45"/>
<rect x="248.23" y="317.33" width="0.8" height="0.8" fill="#6a8cc8" opacity="0.45"/>
<rect x="249.51" y="313.68" width="0.8" height="0.8" fill="#6a8cc8" opacity="0.45"/>
<rect x="246.01" y="309.77" width="0.8" height="0.8" fill="#6a8cc8" opacity="0.45"/>
<rect x="249.72" y="318.5" width="0.8" height="0.8" fill="#6a8cc8" opacity="0.45"/>
<rect x="249.84" y="310.32" width="0.8" height="0.8" fill="#6a8cc8" opacity="0.45"/>
<rect x="248.52" y="315.76" width="0.8" height="0.8" fill="#6a8cc8" opacity="0.45"/>
<rect x="246.94" y="316.18" width="0.8" height="0.8" fill="#6a8cc8" opacity="0.45"/>
<rect x="248.55" y="312.15" width="0.8" height="0.8" fill="#6a8cc8" opacity="0.45"/>
<rect x="246.22" y="317.77" width="0.8" height="0.8" fill="#6a8cc8" opacity="0.45"/>
<rect x="249.8" y="311.97" width="0.8" height="0.8" fill="#6a8cc8" opacity="0.45"/>
<rect x="246.73" y="318.04" width="0.8" height="0.8" fill="#6a8cc8" opacity="0.45"/>
<rect x="250.34" y="313.96" width="0.8" height="0.8" fill="#6a8cc8" opacity="0.45"/>
<rect x="252.57" y="314.01" width="0.8" height="0.8" fill="#6a8cc8" opacity="0.45"/>
<rect x="246.63" y="318.72" width="0.8" height="0.8" fill="#6a8cc8" opacity="0.45"/>
<rect x="248.58" y="316.18" width="0.8" height="0.8" fill="#6a8cc8" opacity="0.45"/>
<rect x="249.09" y="311.58" width="0.8" height="0.8" fill="#6a8cc8" opacity="0.45"/>
<rect x="246.34" y="314.34" width="0.8" height="0.8" fill="#6a8cc8" opacity="0.45"/>
<rect x="252.15" y="311.58" width="0.8" height="0.8" fill="#6a8cc8" opacity="0.45"/>
<rect x="252.04" y="315.75" width="0.8" height="0.8" fill="#6a8cc8" opacity="0.45"/>
<rect x="246.51" y="315.91" width="0.8" height="0.8" fill="#6a8cc8" opacity="0.45"/>
<rect x="250.27" y="311.94" width="0.8" height="0.8" fill="#6a8cc8" opacity="0.45"/>
<rect x="244.23" y="316.22" width="0.8" height="0.8" fill="#6a8cc8" opacity="0.45"/>
<rect x="246.51" y="316.5" width="0.8" height="0.8" fill="#6a8cc8" opacity="0.45"/>
<rect x="244.72" y="314.52" width="0.8" height="0.8" fill="#6a8cc8" opacity="0.45"/>
<rect x="247.19" y="309.96" width="0.8" height="0.8" fill="#6a8cc8" opacity="0.45"/>
<rect x="248.46" y="315.58" width="0.8" height="0.8" fill="#6a8cc8" opacity="0.45"/>
<rect x="247.75" y="310.98" width="0.8" height="0.8" fill="#6a8cc8" opacity="0.45"/>
<rect x="249.48" y="309.04" width="0.8" height="0.8" fill="#6a8cc8" opacity="0.45"/>
<rect x="250.2" y="316.67" width="0.8" height="0.8" fill="#6a8cc8" opacity="0.45"/>
<rect x="252.75" y="318.01" width="0.8" height="0.8" fill="#6a8cc8" opacity="0.45"/>
<rect x="249.79" y="315.9" width="0.8" height="0.8" fill="#6a8cc8" opacity="0.45"/>
<rect x="249.06" y="310.49" width="0.8" height="0.8" fill="#6a8cc8" opacity="0.45"/>
<rect x="252.27" y="316.79" width="0.8" height="0.8" fill="#6a8cc8" opacity="0.45"/>
<rect x="248.36" y="311.1" width="0.8" height="0.8" fill="#6a8cc8" opacity="0.45"/>
<rect x="252.32" y="316.81" width="0.8" height="0.8" fill="#6a8cc8" opacity="0.45"/>
<rect x="246.35" y="317.29" width="0.8" height="0.8" fill="#6a8cc8" opacity="0.45"/>
<rect x="253.24" y="314.92" width="0.8" height="0.8" fill="#6a8cc8" opacity="0.45"/>
<rect x="249.89" y="313.59" width="0.8" height="0.8" fill="#6a8cc8" opacity="0.45"/>
<rect x="247.6" y="318.65" width="0.8" height="0.8" fill="#6a8cc8" opacity="0.45"/>
<rect x="255.88" y="315.4" width="0.8" height="0.8" fill="#6a8cc8" opacity="0.45"/>
<rect x="248.72" y="317.7" width="0.8" height="0.8" fill="#6a8cc8" opacity="0.45"/>
<rect x="248.32" y="317.48" width="0.8" height="0.8" fill="#6a8cc8" opacity="0.45"/>
<rect x="250.85" y="311.54" width="0.8" height="0.8" fill="#6a8cc8" opacity="0.45"/>
<rect x="246.6" y="314.75" width="0.8" height="0.8" fill="#6a8cc8" opacity="0.45"/>
<rect x="250.86" y="315.94" width="0.8" height="0.8" fill="#6a8cc8" opacity="0.45"/>
<rect x="251.77" y="310.32" width="0.8" height="0.8" fill="#6a8cc8" opacity="0.45"/>
<rect x="250.1" y="312.89" width="0.8" height="0.8" fill="#6a8cc8" opacity="0.45"/>
<rect x="249.22" y="316.09" width="0.8" height="0.8" fill="#6a8cc8" opacity="0.45"/>
<rect x="246.83" y="314.22" width="0.8" height="0.8" fill="#6a8cc8" opacity="0.45"/>
<rect x="246.4" y="315.9" width="0.8" height="0.8" fill="#6a8cc8" opacity="0.45"/>
<rect x="247.1" y="313.32" width="0.8" height="0.8" fill="#6a8cc8" opacity="0.45"/>
<rect x="249.49" y="312.78" width="0.8" height="0.8" fill="#6a8cc8" opacity="0.45"/>
<rect x="251.56" y="312.84" width="0.8" height="0.8" fill="#6a8cc8" opacity="0.45"/>
<rect x="250.9" y="315.96" width="0.8" height="0.8" fill="#6a8cc8" opacity="0.45"/>
<rect x="246.69" y="314.26" width="0.8" height="0.8" fill="#6a8cc8" opacity="0.45"/>
<rect x="247.13" y="313.77" width="0.8" height="0.8" fill="#6a8cc8" opacity="0.45"/>
<rect x="248.26" y="351.46" width="0.8" height="0.8" fill="#5a80c0" opacity="0.42"/>
<rect x="247.86" y="349.89" width="0.8" height="0.8" fill="#5a80c0" opacity="0.42"/>
<rect x="250.21" y="331.76" width="0.8" height="0.8" fill="#5a80c0" opacity="0.42"/>
<rect x="242.72" y="344.27" width="0.8" height="0.8" fill="#5a80c0" opacity="0.42"/>
<rect x="243.6" y="344.53" width="0.8" height="0.8" fill="#5a80c0" opacity="0.42"/>
<rect x="251.79" y="342.46" width="0.8" height="0.8" fill="#5a80c0" opacity="0.42"/>
<rect x="248.43" y="338.42" width="0.8" height="0.8" fill="#5a80c0" opacity="0.42"/>
<rect x="249.7" y="338.09" width="0.8" height="0.8" fill="#5a80c0" opacity="0.42"/>
<rect x="247.55" y="337.67" width="0.8" height="0.8" fill="#5a80c0" opacity="0.42"/>
<rect x="252.17" y="336.09" width="0.8" height="0.8" fill="#5a80c0" opacity="0.42"/>
<rect x="250.03" y="332.75" width="0.8" height="0.8" fill="#5a80c0" opacity="0.42"/>
<rect x="247.07" y="331.35" width="0.8" height="0.8" fill="#5a80c0" opacity="0.42"/>
<rect x="248.46" y="344.3" width="0.8" height="0.8" fill="#5a80c0" opacity="0.42"/>
<rect x="249.83" y="336.9" width="0.8" height="0.8" fill="#5a80c0" opacity="0.42"/>
<rect x="250.66" y="337.82" width="0.8" height="0.8" fill="#5a80c0" opacity="0.42"/>
<rect x="250.01" y="341.72" width="0.8" height="0.8" fill="#5a80c0" opacity="0.42"/>
<rect x="250.47" y="324.41" width="0.8" height="0.8" fill="#5a80c0" opacity="0.42"/>
<rect x="245.47" y="344.87" width="0.8" height="0.8" fill="#5a80c0" opacity="0.42"/>
<rect x="248.71" y="354.12" width="0.8" height="0.8" fill="#5a80c0" opacity="0.42"/>
<rect x="248.36" y="336.53" width="0.8" height="0.8" fill="#5a80c0" opacity="0.42"/>
<rect x="253.05" y="343.49" width="0.8" height="0.8" fill="#5a80c0" opacity="0.42"/>
<rect x="254.14" y="343.21" width="0.8" height="0.8" fill="#5a80c0" opacity="0.42"/>
<rect x="248.45" y="344.55" width="0.8" height="0.8" fill="#5a80c0" opacity="0.42"/>
<rect x="246.87" y="337.19" width="0.8" height="0.8" fill="#5a80c0" opacity="0.42"/>
<rect x="247.5" y="338.6" width="0.8" height="0.8" fill="#5a80c0" opacity="0.42"/>
<rect x="251.11" y="336.97" width="0.8" height="0.8" fill="#5a80c0" opacity="0.42"/>
<rect x="249.87" y="336.87" width="0.8" height="0.8" fill="#5a80c0" opacity="0.42"/>
<rect x="251.39" y="322.68" width="0.8" height="0.8" fill="#5a80c0" opacity="0.42"/>
<rect x="248.44" y="341.06" width="0.8" height="0.8" fill="#5a80c0" opacity="0.42"/>
<rect x="246.08" y="346.37" width="0.8" height="0.8" fill="#5a80c0" opacity="0.42"/>
<rect x="249.59" y="348.05" width="0.8" height="0.8" fill="#5a80c0" opacity="0.42"/>
<rect x="251.6" y="344.03" width="0.8" height="0.8" fill="#5a80c0" opacity="0.42"/>
<rect x="248.6" y="333.17" width="0.8" height="0.8" fill="#5a80c0" opacity="0.42"/>
<rect x="248.4" y="337.11" width="0.8" height="0.8" fill="#5a80c0" opacity="0.42"/>
<rect x="249.68" y="337.08" width="0.8" height="0.8" fill="#5a80c0" opacity="0.42"/>
<rect x="257.27" y="329.96" width="0.8" height="0.8" fill="#5a80c0" opacity="0.42"/>
<rect x="252.18" y="337.05" width="0.8" height="0.8" fill="#5a80c0" opacity="0.42"/>
<rect x="248.34" y="345.82" width="0.8" height="0.8" fill="#5a80c0" opacity="0.42"/>
<rect x="249.01" y="332.38" width="0.8" height="0.8" fill="#5a80c0" opacity="0.42"/>
<rect x="250.12" y="338.77" width="0.8" height="0.8" fill="#5a80c0" opacity="0.42"/>
<rect x="243.43" y="341.24" width="0.8" height="0.8" fill="#5a80c0" opacity="0.42"/>
<rect x="246.15" y="335.33" width="0.8" height="0.8" fill="#5a80c0" opacity="0.42"/>
<rect x="250.31" y="341.88" width="0.8" height="0.8" fill="#5a80c0" opacity="0.42"/>
<rect x="248.21" y="353.62" width="0.8" height="0.8" fill="#5a80c0" opacity="0.42"/>
<rect x="250.13" y="336.15" width="0.8" height="0.8" fill="#5a80c0" opacity="0.42"/>
<rect x="249.64" y="339.24" width="0.8" height="0.8" fill="#5a80c0" opacity="0.42"/>
<rect x="243.04" y="330.11" width="0.8" height="0.8" fill="#5a80c0" opacity="0.42"/>
<rect x="245.24" y="352.96" width="0.8" height="0.8" fill="#5a80c0" opacity="0.42"/>
<rect x="248.5" y="338.27" width="0.8" height="0.8" fill="#5a80c0" opacity="0.42"/>
<rect x="247.47" y="346.16" width="0.8" height="0.8" fill="#5a80c0" opacity="0.42"/>
<rect x="249.08" y="350.7" width="0.8" height="0.8" fill="#5a80c0" opacity="0.42"/>
<rect x="251.13" y="350.32" width="0.8" height="0.8" fill="#5a80c0" opacity="0.42"/>
<rect x="248.68" y="342.35" width="0.8" height="0.8" fill="#5a80c0" opacity="0.42"/>
<rect x="247.83" y="338.94" width="0.8" height="0.8" fill="#5a80c0" opacity="0.42"/>
<rect x="244.32" y="336.36" width="0.8" height="0.8" fill="#5a80c0" opacity="0.42"/>
<rect x="246.43" y="335.91" width="0.8" height="0.8" fill="#5a80c0" opacity="0.42"/>
<rect x="252.29" y="341.64" width="0.8" height="0.8" fill="#5a80c0" opacity="0.42"/>
<rect x="252.31" y="345.38" width="0.8" height="0.8" fill="#5a80c0" opacity="0.42"/>
<rect x="251.48" y="346.3" width="0.8" height="0.8" fill="#5a80c0" opacity="0.42"/>
<rect x="247.37" y="345.03" width="0.8" height="0.8" fill="#5a80c0" opacity="0.42"/>
<rect x="248.13" y="336.68" width="0.8" height="0.8" fill="#5a80c0" opacity="0.42"/>
<rect x="252.23" y="353.56" width="0.8" height="0.8" fill="#5a80c0" opacity="0.42"/>
<rect x="246.36" y="350.89" width="0.8" height="0.8" fill="#5a80c0" opacity="0.42"/>
<rect x="251.24" y="334.69" width="0.8" height="0.8" fill="#5a80c0" opacity="0.42"/>
<rect x="249.74" y="342.33" width="0.8" height="0.8" fill="#5a80c0" opacity="0.42"/>
<rect x="250.01" y="337.77" width="0.8" height="0.8" fill="#5a80c0" opacity="0.42"/>
<rect x="245.53" y="340.2" width="0.8" height="0.8" fill="#5a80c0" opacity="0.42"/>
<rect x="251.32" y="344.92" width="0.8" height="0.8" fill="#5a80c0" opacity="0.42"/>
<rect x="250.78" y="346.9" width="0.8" height="0.8" fill="#5a80c0" opacity="0.42"/>
<rect x="246.33" y="339.74" width="0.8" height="0.8" fill="#5a80c0" opacity="0.42"/>
<rect x="249.92" y="346.26" width="0.8" height="0.8" fill="#5a80c0" opacity="0.42"/>
<rect x="249.42" y="343.25" width="0.8" height="0.8" fill="#5a80c0" opacity="0.42"/>
<rect x="249.36" y="353.14" width="0.8" height="0.8" fill="#5a80c0" opacity="0.42"/>
<rect x="243.11" y="339.85" width="0.8" height="0.8" fill="#5a80c0" opacity="0.42"/>
<rect x="255.68" y="341.48" width="0.8" height="0.8" fill="#5a80c0" opacity="0.42"/>
<rect x="244.06" y="340.84" width="0.8" height="0.8" fill="#5a80c0" opacity="0.42"/>
<rect x="245.13" y="335.75" width="0.8" height="0.8" fill="#5a80c0" opacity="0.42"/>
<rect x="249.61" y="350.73" width="0.8" height="0.8" fill="#5a80c0" opacity="0.42"/>
<rect x="250.25" y="344.19" width="0.8" height="0.8" fill="#5a80c0" opacity="0.42"/>
<rect x="251.75" y="341.25" width="0.8" height="0.8" fill="#5a80c0" opacity="0.42"/>
<rect x="246.69" y="339.39" width="0.8" height="0.8" fill="#5a80c0" opacity="0.42"/>
<rect x="249.91" y="338.27" width="0.8" height="0.8" fill="#5a80c0" opacity="0.42"/>
<rect x="247.2" y="337.75" width="0.8" height="0.8" fill="#5a80c0" opacity="0.42"/>
<rect x="244.95" y="333.59" width="0.8" height="0.8" fill="#5a80c0" opacity="0.42"/>
<rect x="248.76" y="337.74" width="0.8" height="0.8" fill="#5a80c0" opacity="0.42"/>
<rect x="249.1" y="348.79" width="0.8" height="0.8" fill="#5a80c0" opacity="0.42"/>
<rect x="249.81" y="339.8" width="0.8" height="0.8" fill="#5a80c0" opacity="0.42"/>
<rect x="245.84" y="333.25" width="0.8" height="0.8" fill="#5a80c0" opacity="0.42"/>
<rect x="250.01" y="334.54" width="0.8" height="0.8" fill="#5a80c0" opacity="0.42"/>
<rect x="250.16" y="333.28" width="0.8" height="0.8" fill="#5a80c0" opacity="0.42"/>
<rect x="249.36" y="339.54" width="0.8" height="0.8" fill="#5a80c0" opacity="0.42"/>
<rect x="251.68" y="337.55" width="0.8" height="0.8" fill="#5a80c0" opacity="0.42"/>
<rect x="248" y="341.54" width="0.8" height="0.8" fill="#5a80c0" opacity="0.42"/>
<rect x="249.15" y="350.57" width="0.8" height="0.8" fill="#5a80c0" opacity="0.42"/>
<rect x="248.31" y="336.64" width="0.8" height="0.8" fill="#5a80c0" opacity="0.42"/>
<rect x="248.14" y="342.97" width="0.8" height="0.8" fill="#5a80c0" opacity="0.42"/>
<rect x="249.63" y="344.34" width="0.8" height="0.8" fill="#5a80c0" opacity="0.42"/>
<rect x="245.27" y="355.5" width="0.8" height="0.8" fill="#5a80c0" opacity="0.42"/>
<rect x="253.96" y="339.8" width="0.8" height="0.8" fill="#5a80c0" opacity="0.42"/>
<rect x="245.74" y="340.97" width="0.8" height="0.8" fill="#5a80c0" opacity="0.42"/>
<rect x="250.12" y="326.04" width="0.8" height="0.8" fill="#5a80c0" opacity="0.42"/>
<rect x="249.04" y="330.75" width="0.8" height="0.8" fill="#5a80c0" opacity="0.42"/>
<rect x="250.23" y="348.64" width="0.8" height="0.8" fill="#5a80c0" opacity="0.42"/>
<rect x="251.78" y="330.58" width="0.8" height="0.8" fill="#5a80c0" opacity="0.42"/>
<rect x="252.72" y="345.67" width="0.8" height="0.8" fill="#5a80c0" opacity="0.42"/>
<rect x="248.03" y="343.14" width="0.8" height="0.8" fill="#5a80c0" opacity="0.42"/>
<rect x="253.09" y="337.93" width="0.8" height="0.8" fill="#5a80c0" opacity="0.42"/>
<rect x="248.96" y="336.5" width="0.8" height="0.8" fill="#5a80c0" opacity="0.42"/>
<rect x="252.12" y="326.53" width="0.8" height="0.8" fill="#5a80c0" opacity="0.42"/>
<rect x="252.82" y="333.95" width="0.8" height="0.8" fill="#5a80c0" opacity="0.42"/>
<rect x="251.5" y="329.83" width="0.8" height="0.8" fill="#5a80c0" opacity="0.42"/>
<rect x="246.48" y="336.26" width="0.8" height="0.8" fill="#5a80c0" opacity="0.42"/>
<rect x="251.23" y="329.86" width="0.8" height="0.8" fill="#5a80c0" opacity="0.42"/>
<rect x="250.62" y="336.03" width="0.8" height="0.8" fill="#5a80c0" opacity="0.42"/>
<rect x="252.35" y="338.05" width="0.8" height="0.8" fill="#5a80c0" opacity="0.42"/>
<rect x="250.31" y="338.93" width="0.8" height="0.8" fill="#5a80c0" opacity="0.42"/>
<rect x="253.83" y="337.75" width="0.8" height="0.8" fill="#5a80c0" opacity="0.42"/>
<rect x="248.93" y="352.41" width="0.8" height="0.8" fill="#5a80c0" opacity="0.42"/>
<rect x="249.21" y="344.29" width="0.8" height="0.8" fill="#5a80c0" opacity="0.42"/>
<rect x="247.01" y="341.25" width="0.8" height="0.8" fill="#5a80c0" opacity="0.42"/>
<rect x="242.89" y="340.66" width="0.8" height="0.8" fill="#5a80c0" opacity="0.42"/>
<rect x="247.26" y="330.6" width="0.8" height="0.8" fill="#5a80c0" opacity="0.42"/>
<rect x="245.18" y="347.14" width="0.8" height="0.8" fill="#5a80c0" opacity="0.42"/>
<rect x="250.15" y="330.52" width="0.8" height="0.8" fill="#5a80c0" opacity="0.42"/>
<rect x="253.89" y="335.65" width="0.8" height="0.8" fill="#5a80c0" opacity="0.42"/>
<rect x="248.01" y="341.54" width="0.8" height="0.8" fill="#5a80c0" opacity="0.42"/>
<rect x="245.94" y="329.88" width="0.8" height="0.8" fill="#5a80c0" opacity="0.42"/>
<rect x="246.99" y="347.39" width="0.8" height="0.8" fill="#5a80c0" opacity="0.42"/>
<rect x="251.56" y="330.12" width="0.8" height="0.8" fill="#5a80c0" opacity="0.42"/>
<rect x="252.24" y="340.21" width="0.8" height="0.8" fill="#5a80c0" opacity="0.42"/>
<rect x="250.35" y="340.32" width="0.8" height="0.8" fill="#5a80c0" opacity="0.42"/>
<rect x="250.11" y="333.74" width="0.8" height="0.8" fill="#5a80c0" opacity="0.42"/>
<rect x="246.55" y="335.6" width="0.8" height="0.8" fill="#5a80c0" opacity="0.42"/>
<rect x="248.01" y="343.87" width="0.8" height="0.8" fill="#5a80c0" opacity="0.42"/>
<rect x="245.72" y="349.97" width="0.8" height="0.8" fill="#5a80c0" opacity="0.42"/>
<rect x="247.3" y="336.32" width="0.8" height="0.8" fill="#5a80c0" opacity="0.42"/>
<rect x="250.89" y="342.71" width="0.8" height="0.8" fill="#5a80c0" opacity="0.42"/>
<rect x="248.09" y="333.31" width="0.8" height="0.8" fill="#5a80c0" opacity="0.42"/>
<rect x="246.31" y="330" width="0.8" height="0.8" fill="#5a80c0" opacity="0.42"/>
<rect x="252.08" y="346.78" width="0.8" height="0.8" fill="#5a80c0" opacity="0.42"/>
<rect x="254.03" y="343.12" width="0.8" height="0.8" fill="#5a80c0" opacity="0.42"/>
<rect x="249.9" y="344.74" width="0.8" height="0.8" fill="#5a80c0" opacity="0.42"/>
<rect x="251.56" y="338.38" width="0.8" height="0.8" fill="#5a80c0" opacity="0.42"/>
<rect x="249.95" y="353.47" width="0.8" height="0.8" fill="#5a80c0" opacity="0.42"/>
<rect x="244.44" y="331.21" width="0.8" height="0.8" fill="#5a80c0" opacity="0.42"/>
<rect x="246.4" y="344.71" width="0.8" height="0.8" fill="#5a80c0" opacity="0.42"/>
<rect x="252.2" y="337.88" width="0.8" height="0.8" fill="#5a80c0" opacity="0.42"/>
<rect x="250.81" y="339.7" width="0.8" height="0.8" fill="#5a80c0" opacity="0.42"/>
<rect x="249.81" y="336.62" width="0.8" height="0.8" fill="#5a80c0" opacity="0.42"/>
<rect x="248.93" y="339.97" width="0.8" height="0.8" fill="#5a80c0" opacity="0.42"/>
<rect x="18.5" y="202.5" width="70" height="70" stroke="#333" stroke-width="1" fill="none" />
<rect x="18.5" y="286.5" width="70" height="70" stroke="#333" stroke-width="1" fill="none" />
<rect x="117.5" y="202.5" width="70" height="69" stroke="#333" stroke-width="1" fill="none" />
<rect x="117.5" y="286.5" width="70" height="71" stroke="#333" stroke-width="1" fill="none" />
<rect x="213.5" y="202.5" width="70" height="69" stroke="#333" stroke-width="1" fill="none" />
<rect x="213.5" y="286.5" width="70" height="70" stroke="#333" stroke-width="1" fill="none" />
<line x1="138.5" y1="202.5" x2="138.5" y2="271.5" stroke="#333" stroke-width="1" />
<line x1="117.5" y1="239.5" x2="187.5" y2="239.5" stroke="#333" stroke-width="1" />
<line x1="143.5" y1="286.5" x2="143.5" y2="357.5" stroke="#333" stroke-width="1" />
<line x1="117.5" y1="324.5" x2="187.5" y2="324.5" stroke="#333" stroke-width="1" />
<line x1="239.5" y1="202.5" x2="239.5" y2="271.5" stroke="#333" stroke-width="1" />
<line x1="213.5" y1="240.5" x2="283.5" y2="240.5" stroke="#333" stroke-width="1" />
<line x1="239.5" y1="286.5" x2="239.5" y2="356.5" stroke="#333" stroke-width="1" />
<line x1="213.5" y1="324.5" x2="283.5" y2="324.5" stroke="#333" stroke-width="1" />
<text x="167.4" y="212.3" font-size="6.5" fill="#222" >0.59</text>
<text x="167.4" y="266.3" font-size="6.5" fill="#222" >99.4</text>
<text x="167.4" y="297.3" font-size="6.5" fill="#222" >17.1</text>
<text x="167" y="350.9" font-size="6.5" fill="#222" >82.9</text>
<text x="263" y="212.7" font-size="6.5" fill="#222" >7.36</text>
<text x="263" y="266.3" font-size="6.5" fill="#222" >92.6</text>
<text x="263.4" y="297.7" font-size="6.5" fill="#222" >29.8</text>
<text x="263.4" y="351.1" font-size="6.5" fill="#222" >70.2</text>
<text x="118" y="210.8" font-size="6.7" font-weight="bold" fill="#1515ff" >B cell</text>
<text x="119" y="294.4" font-size="6.7" font-weight="bold" fill="#1515ff" >T cell</text>
<text x="215.4" y="210.8" font-size="6.7" font-weight="bold" fill="#1515ff" >CD4 T</text>
<text x="215" y="295" font-size="6.7" font-weight="bold" fill="#1515ff" >CD8 T</text>
<line x1="13.5" y1="271.5" x2="13.5" y2="250.2" stroke="#555" stroke-width="0.9" />
<polygon points="13.5,247.7 12,250.9 15,250.9" fill="#333"/>
<text x="15.1" y="243.2" font-size="6.7" fill="#222" transform="rotate(-90 15.1 243.2)" >SSC</text>
<line x1="17.7" y1="277.5" x2="39.3" y2="277.5" stroke="#444" stroke-width="0.9" />
<polygon points="41.8,277.5 38.6,276 38.6,279" fill="#333"/>
<text x="43.8" y="279.6" font-size="7.1" fill="#222" >FSC</text>
<line x1="13.5" y1="355.5" x2="13.5" y2="334.2" stroke="#555" stroke-width="0.9" />
<polygon points="13.5,331.7 12,334.9 15,334.9" fill="#333"/>
<text x="15.1" y="327.6" font-size="7.0" fill="#222" transform="rotate(-90 15.1 327.6)" >CD19</text>
<line x1="17.7" y1="361.5" x2="39.3" y2="361.5" stroke="#444" stroke-width="0.9" />
<polygon points="41.8,361.5 38.6,360 38.6,363" fill="#333"/>
<text x="43.8" y="363.6" font-size="7.1" fill="#222" >CD3</text>
<line x1="112.5" y1="270.5" x2="112.5" y2="249.2" stroke="#555" stroke-width="0.9" />
<polygon points="112.5,246.7 111,249.9 114,249.9" fill="#333"/>
<text x="114.6" y="243.8" font-size="7.0" fill="#222" transform="rotate(-90 114.6 243.8)" >mPD-1</text>
<line x1="117.3" y1="277.5" x2="139.3" y2="277.5" stroke="#444" stroke-width="0.9" />
<polygon points="141.8,277.5 138.6,276 138.6,279" fill="#333"/>
<text x="143.8" y="279.6" font-size="7.1" fill="#222" >CD19</text>
<line x1="112.5" y1="356.5" x2="112.5" y2="335.2" stroke="#555" stroke-width="0.9" />
<polygon points="112.5,332.7 111,335.9 114,335.9" fill="#333"/>
<text x="114.6" y="329.8" font-size="7.0" fill="#222" transform="rotate(-90 114.6 329.8)" >mPD-1</text>
<line x1="117.3" y1="361.5" x2="139.3" y2="361.5" stroke="#444" stroke-width="0.9" />
<polygon points="141.8,361.5 138.6,360 138.6,363" fill="#333"/>
<text x="143.8" y="363.6" font-size="7.1" fill="#222" >CD3</text>
<line x1="208.5" y1="270.5" x2="208.5" y2="249.2" stroke="#555" stroke-width="0.9" />
<polygon points="208.5,246.7 207,249.9 210,249.9" fill="#333"/>
<text x="210.6" y="243.8" font-size="7.0" fill="#222" transform="rotate(-90 210.6 243.8)" >mPD-1</text>
<line x1="213.3" y1="277.5" x2="235.3" y2="277.5" stroke="#444" stroke-width="0.9" />
<polygon points="237.8,277.5 234.6,276 234.6,279" fill="#333"/>
<text x="239.8" y="279.6" font-size="7.1" fill="#222" >CD4</text>
<line x1="208.5" y1="355.5" x2="208.5" y2="334.2" stroke="#555" stroke-width="0.9" />
<polygon points="208.5,331.7 207,334.9 210,334.9" fill="#333"/>
<text x="210.6" y="328.8" font-size="7.0" fill="#222" transform="rotate(-90 210.6 328.8)" >mPD-1</text>
<line x1="213.3" y1="361.5" x2="235.3" y2="361.5" stroke="#444" stroke-width="0.9" />
<polygon points="237.8,361.5 234.6,360 234.6,363" fill="#333"/>
<text x="239.8" y="363.6" font-size="7.1" fill="#222" >CD8</text>
<line x1="63.6" y1="273.6" x2="63.6" y2="281.5" stroke="#2b2bff" stroke-width="1" />
<polygon points="63.6,284.4 62,281 65.2,281" fill="#2b2bff"/>
<line x1="90" y1="317.5" x2="99" y2="317.5" stroke="#2b2bff" stroke-width="1" />
<line x1="99" y1="218.5" x2="99" y2="340.5" stroke="#2b2bff" stroke-width="1" />
<line x1="99" y1="218.5" x2="104" y2="218.5" stroke="#2b2bff" stroke-width="1" />
<circle cx="104.3" cy="218.5" r="1.1" stroke="#2b2bff" stroke-width="0" fill="#2b2bff"/>
<line x1="99" y1="340.5" x2="103.5" y2="340.5" stroke="#2b2bff" stroke-width="1" />
<polygon points="106,340.5 102.8,338.9 102.8,342.1" fill="#2b2bff"/>
<line x1="189" y1="318.5" x2="198.5" y2="318.5" stroke="#2b2bff" stroke-width="1" />
<line x1="198.5" y1="219.5" x2="198.5" y2="342.5" stroke="#2b2bff" stroke-width="1" />
<line x1="198.5" y1="219.5" x2="203.6" y2="219.5" stroke="#2b2bff" stroke-width="1" />
<circle cx="204" cy="219.5" r="1.1" stroke="#2b2bff" stroke-width="0" fill="#2b2bff"/>
<line x1="198.5" y1="342.5" x2="204" y2="342.5" stroke="#2b2bff" stroke-width="1" />
<polygon points="206.5,342.5 203.3,340.9 203.3,344.1" fill="#2b2bff"/>
<text x="302.4" y="202.5" font-size="14" font-weight="bold" fill="#1a1212" >d</text>
<line x1="343.5" y1="311.4" x2="626.5" y2="311.4" stroke="#e2e2e2" stroke-width="0.9" />
<line x1="343.5" y1="290.2" x2="626.5" y2="290.2" stroke="#e2e2e2" stroke-width="0.9" />
<line x1="343.5" y1="269" x2="626.5" y2="269" stroke="#e2e2e2" stroke-width="0.9" />
<line x1="343.5" y1="247.8" x2="626.5" y2="247.8" stroke="#e2e2e2" stroke-width="0.9" />
<line x1="340.3" y1="332.6" x2="343.5" y2="332.6" stroke="#2a2a2a" stroke-width="0.8" />
<text x="338.7" y="334.9" font-size="6.8" text-anchor="end" fill="#222" >0</text>
<line x1="340.3" y1="311.4" x2="343.5" y2="311.4" stroke="#2a2a2a" stroke-width="0.8" />
<text x="338.7" y="313.7" font-size="6.8" text-anchor="end" fill="#222" >10</text>
<line x1="340.3" y1="290.2" x2="343.5" y2="290.2" stroke="#2a2a2a" stroke-width="0.8" />
<text x="338.7" y="292.5" font-size="6.8" text-anchor="end" fill="#222" >20</text>
<line x1="340.3" y1="269" x2="343.5" y2="269" stroke="#2a2a2a" stroke-width="0.8" />
<text x="338.7" y="271.3" font-size="6.8" text-anchor="end" fill="#222" >30</text>
<line x1="340.3" y1="247.8" x2="343.5" y2="247.8" stroke="#2a2a2a" stroke-width="0.8" />
<text x="338.7" y="250.1" font-size="6.8" text-anchor="end" fill="#222" >40</text>
<line x1="340.3" y1="226.6" x2="343.5" y2="226.6" stroke="#2a2a2a" stroke-width="0.8" />
<text x="338.7" y="228.9" font-size="6.8" text-anchor="end" fill="#222" >50</text>
<rect x="345.2" y="330.48" width="4.6" height="2.12" stroke="#b8b8b8" stroke-width="0.8" fill="#fff" />
<rect x="350.6" y="330.48" width="4.6" height="2.12" stroke="#222" stroke-width="0.8" fill="#fff" />
<circle cx="348.15" cy="329.33" r="1.3" stroke="#b0b0b0" stroke-width="0.8" fill="none"/>
<circle cx="347.52" cy="328.2" r="1.3" stroke="#b0b0b0" stroke-width="0.8" fill="none"/>
<circle cx="347.28" cy="332.18" r="1.3" stroke="#b0b0b0" stroke-width="0.8" fill="none"/>
<circle cx="348.27" cy="329.94" r="1.3" stroke="#b0b0b0" stroke-width="0.8" fill="none"/>
<circle cx="348.21" cy="330.49" r="1.3" stroke="#b0b0b0" stroke-width="0.8" fill="none"/>
<circle cx="347.8" cy="329.49" r="1.3" stroke="#b0b0b0" stroke-width="0.8" fill="none"/>
<circle cx="346.74" cy="329.4" r="1.3" stroke="#b0b0b0" stroke-width="0.8" fill="none"/>
<circle cx="347.72" cy="329.68" r="1.3" stroke="#b0b0b0" stroke-width="0.8" fill="none"/>
<circle cx="353.55" cy="332.18" r="1.3" stroke="#111" stroke-width="0.8" fill="none"/>
<circle cx="352.9" cy="329.65" r="1.3" stroke="#111" stroke-width="0.8" fill="none"/>
<circle cx="352.68" cy="331.39" r="1.3" stroke="#111" stroke-width="0.8" fill="none"/>
<circle cx="353.66" cy="329.41" r="1.3" stroke="#111" stroke-width="0.8" fill="none"/>
<circle cx="352.19" cy="331.11" r="1.3" stroke="#111" stroke-width="0.8" fill="none"/>
<circle cx="353.44" cy="331.16" r="1.3" stroke="#111" stroke-width="0.8" fill="none"/>
<circle cx="353.19" cy="331.9" r="1.3" stroke="#111" stroke-width="0.8" fill="none"/>
<circle cx="352.99" cy="330.68" r="1.3" stroke="#111" stroke-width="0.8" fill="none"/>
<ellipse cx="352.8" cy="331.08" rx="2.5" ry="2.2" fill="#111"/>
<ellipse cx="347.6" cy="331.08" rx="2.5" ry="2.2" fill="#b4b4b4"/>
<line x1="350.2" y1="332.6" x2="350.2" y2="335" stroke="#2a2a2a" stroke-width="0.8" />
<text x="354.5" y="341" font-size="7.5" text-anchor="end" fill="#222" transform="rotate(-45 354.5 341)" >3</text>
<rect x="358.63" y="330.48" width="4.6" height="2.12" stroke="#b8b8b8" stroke-width="0.8" fill="#fff" />
<rect x="364.03" y="330.48" width="4.6" height="2.12" stroke="#222" stroke-width="0.8" fill="#fff" />
<circle cx="361.75" cy="332.15" r="1.3" stroke="#b0b0b0" stroke-width="0.8" fill="none"/>
<circle cx="361.63" cy="329.91" r="1.3" stroke="#b0b0b0" stroke-width="0.8" fill="none"/>
<circle cx="360.29" cy="329.15" r="1.3" stroke="#b0b0b0" stroke-width="0.8" fill="none"/>
<circle cx="361.09" cy="331.56" r="1.3" stroke="#b0b0b0" stroke-width="0.8" fill="none"/>
<circle cx="361.07" cy="330.48" r="1.3" stroke="#b0b0b0" stroke-width="0.8" fill="none"/>
<circle cx="360.11" cy="330.76" r="1.3" stroke="#b0b0b0" stroke-width="0.8" fill="none"/>
<circle cx="360.74" cy="330.74" r="1.3" stroke="#b0b0b0" stroke-width="0.8" fill="none"/>
<circle cx="361.38" cy="329.97" r="1.3" stroke="#b0b0b0" stroke-width="0.8" fill="none"/>
<circle cx="366.82" cy="330.97" r="1.3" stroke="#111" stroke-width="0.8" fill="none"/>
<circle cx="366.61" cy="331.08" r="1.3" stroke="#111" stroke-width="0.8" fill="none"/>
<circle cx="366.14" cy="330.42" r="1.3" stroke="#111" stroke-width="0.8" fill="none"/>
<circle cx="367.07" cy="331.27" r="1.3" stroke="#111" stroke-width="0.8" fill="none"/>
<circle cx="366.67" cy="331.44" r="1.3" stroke="#111" stroke-width="0.8" fill="none"/>
<circle cx="366.64" cy="330.75" r="1.3" stroke="#111" stroke-width="0.8" fill="none"/>
<circle cx="365.97" cy="329.11" r="1.3" stroke="#111" stroke-width="0.8" fill="none"/>
<circle cx="365.79" cy="330.67" r="1.3" stroke="#111" stroke-width="0.8" fill="none"/>
<ellipse cx="366.23" cy="331.08" rx="2.5" ry="2.2" fill="#111"/>
<ellipse cx="361.03" cy="331.08" rx="2.5" ry="2.2" fill="#b4b4b4"/>
<line x1="363.63" y1="332.6" x2="363.63" y2="335" stroke="#2a2a2a" stroke-width="0.8" />
<text x="367.93" y="341" font-size="7.5" text-anchor="end" fill="#222" transform="rotate(-45 367.93 341)" >7</text>
<rect x="372.06" y="330.48" width="4.6" height="2.12" stroke="#b8b8b8" stroke-width="0.8" fill="#fff" />
<rect x="377.46" y="330.48" width="4.6" height="2.12" stroke="#222" stroke-width="0.8" fill="#fff" />
<circle cx="374.79" cy="332.18" r="1.3" stroke="#b0b0b0" stroke-width="0.8" fill="none"/>
<circle cx="373.77" cy="331.38" r="1.3" stroke="#b0b0b0" stroke-width="0.8" fill="none"/>
<circle cx="374.02" cy="330.21" r="1.3" stroke="#b0b0b0" stroke-width="0.8" fill="none"/>
<circle cx="373.56" cy="331.42" r="1.3" stroke="#b0b0b0" stroke-width="0.8" fill="none"/>
<circle cx="374" cy="329.67" r="1.3" stroke="#b0b0b0" stroke-width="0.8" fill="none"/>
<circle cx="374.15" cy="329.5" r="1.3" stroke="#b0b0b0" stroke-width="0.8" fill="none"/>
<circle cx="375.2" cy="330.03" r="1.3" stroke="#b0b0b0" stroke-width="0.8" fill="none"/>
<circle cx="375.19" cy="330.92" r="1.3" stroke="#b0b0b0" stroke-width="0.8" fill="none"/>
<circle cx="379.59" cy="330.16" r="1.3" stroke="#111" stroke-width="0.8" fill="none"/>
<circle cx="379.58" cy="329.72" r="1.3" stroke="#111" stroke-width="0.8" fill="none"/>
<circle cx="380.5" cy="329.89" r="1.3" stroke="#111" stroke-width="0.8" fill="none"/>
<circle cx="379.39" cy="330.7" r="1.3" stroke="#111" stroke-width="0.8" fill="none"/>
<circle cx="379.29" cy="330.92" r="1.3" stroke="#111" stroke-width="0.8" fill="none"/>
<circle cx="380.41" cy="329.56" r="1.3" stroke="#111" stroke-width="0.8" fill="none"/>
<circle cx="379.68" cy="329.9" r="1.3" stroke="#111" stroke-width="0.8" fill="none"/>
<circle cx="380.3" cy="330.01" r="1.3" stroke="#111" stroke-width="0.8" fill="none"/>
<ellipse cx="379.66" cy="331.08" rx="2.5" ry="2.2" fill="#111"/>
<ellipse cx="374.46" cy="331.08" rx="2.5" ry="2.2" fill="#b4b4b4"/>
<line x1="377.06" y1="332.6" x2="377.06" y2="335" stroke="#2a2a2a" stroke-width="0.8" />
<text x="381.36" y="341" font-size="7.5" text-anchor="end" fill="#222" transform="rotate(-45 381.36 341)" >10</text>
<rect x="385.49" y="330.9" width="4.6" height="1.7" stroke="#b8b8b8" stroke-width="0.8" fill="#fff" />
<rect x="390.89" y="330.48" width="4.6" height="2.12" stroke="#222" stroke-width="0.8" fill="#fff" />
<circle cx="388.24" cy="332.1" r="1.3" stroke="#b0b0b0" stroke-width="0.8" fill="none"/>
<circle cx="387.39" cy="332.18" r="1.3" stroke="#b0b0b0" stroke-width="0.8" fill="none"/>
<circle cx="387.54" cy="331.14" r="1.3" stroke="#b0b0b0" stroke-width="0.8" fill="none"/>
<circle cx="388.54" cy="330.34" r="1.3" stroke="#b0b0b0" stroke-width="0.8" fill="none"/>
<circle cx="387.84" cy="330.85" r="1.3" stroke="#b0b0b0" stroke-width="0.8" fill="none"/>
<circle cx="387.41" cy="332.1" r="1.3" stroke="#b0b0b0" stroke-width="0.8" fill="none"/>
<circle cx="388.02" cy="332.18" r="1.3" stroke="#b0b0b0" stroke-width="0.8" fill="none"/>
<circle cx="387.36" cy="331.47" r="1.3" stroke="#b0b0b0" stroke-width="0.8" fill="none"/>
<circle cx="392.5" cy="330.44" r="1.3" stroke="#111" stroke-width="0.8" fill="none"/>
<circle cx="393.27" cy="330.75" r="1.3" stroke="#111" stroke-width="0.8" fill="none"/>
<circle cx="393.6" cy="329.91" r="1.3" stroke="#111" stroke-width="0.8" fill="none"/>
<circle cx="393.47" cy="331.57" r="1.3" stroke="#111" stroke-width="0.8" fill="none"/>
<circle cx="393.05" cy="331.85" r="1.3" stroke="#111" stroke-width="0.8" fill="none"/>
<circle cx="393.68" cy="328.68" r="1.3" stroke="#111" stroke-width="0.8" fill="none"/>
<circle cx="392.57" cy="330.55" r="1.3" stroke="#111" stroke-width="0.8" fill="none"/>
<circle cx="392.88" cy="329.77" r="1.3" stroke="#111" stroke-width="0.8" fill="none"/>
<ellipse cx="393.09" cy="331.08" rx="2.5" ry="2.2" fill="#111"/>
<ellipse cx="387.89" cy="331.5" rx="2.5" ry="2.2" fill="#b4b4b4"/>
<line x1="390.49" y1="332.6" x2="390.49" y2="335" stroke="#2a2a2a" stroke-width="0.8" />
<text x="394.79" y="341" font-size="7.5" text-anchor="end" fill="#222" transform="rotate(-45 394.79 341)" >14</text>
<rect x="398.92" y="331.12" width="4.6" height="1.48" stroke="#b8b8b8" stroke-width="0.8" fill="#fff" />
<rect x="404.32" y="330.9" width="4.6" height="1.7" stroke="#222" stroke-width="0.8" fill="#fff" />
<circle cx="400.94" cy="332.18" r="1.3" stroke="#b0b0b0" stroke-width="0.8" fill="none"/>
<circle cx="401.03" cy="332.18" r="1.3" stroke="#b0b0b0" stroke-width="0.8" fill="none"/>
<circle cx="401.77" cy="332.18" r="1.3" stroke="#b0b0b0" stroke-width="0.8" fill="none"/>
<circle cx="400.95" cy="332.18" r="1.3" stroke="#b0b0b0" stroke-width="0.8" fill="none"/>
<circle cx="400.65" cy="330.95" r="1.3" stroke="#b0b0b0" stroke-width="0.8" fill="none"/>
<circle cx="401.89" cy="332.17" r="1.3" stroke="#b0b0b0" stroke-width="0.8" fill="none"/>
<circle cx="401.28" cy="329.49" r="1.3" stroke="#b0b0b0" stroke-width="0.8" fill="none"/>
<circle cx="401.26" cy="331.76" r="1.3" stroke="#b0b0b0" stroke-width="0.8" fill="none"/>
<circle cx="406.89" cy="331.9" r="1.3" stroke="#111" stroke-width="0.8" fill="none"/>
<circle cx="406.74" cy="332.18" r="1.3" stroke="#111" stroke-width="0.8" fill="none"/>
<circle cx="406.47" cy="330.32" r="1.3" stroke="#111" stroke-width="0.8" fill="none"/>
<circle cx="406.74" cy="330.26" r="1.3" stroke="#111" stroke-width="0.8" fill="none"/>
<circle cx="406.26" cy="330" r="1.3" stroke="#111" stroke-width="0.8" fill="none"/>
<circle cx="407.17" cy="330.51" r="1.3" stroke="#111" stroke-width="0.8" fill="none"/>
<circle cx="407.08" cy="332.18" r="1.3" stroke="#111" stroke-width="0.8" fill="none"/>
<circle cx="407.16" cy="330.93" r="1.3" stroke="#111" stroke-width="0.8" fill="none"/>
<ellipse cx="406.52" cy="331.5" rx="2.5" ry="2.2" fill="#111"/>
<ellipse cx="401.32" cy="331.72" rx="2.5" ry="2.2" fill="#b4b4b4"/>
<line x1="403.92" y1="332.6" x2="403.92" y2="335" stroke="#2a2a2a" stroke-width="0.8" />
<text x="408.22" y="341" font-size="7.5" text-anchor="end" fill="#222" transform="rotate(-45 408.22 341)" >17</text>
<rect x="412.35" y="330.69" width="4.6" height="1.91" stroke="#b8b8b8" stroke-width="0.8" fill="#fff" />
<rect x="417.75" y="330.9" width="4.6" height="1.7" stroke="#222" stroke-width="0.8" fill="#fff" />
<circle cx="414.92" cy="329.77" r="1.3" stroke="#b0b0b0" stroke-width="0.8" fill="none"/>
<circle cx="415.33" cy="329.41" r="1.3" stroke="#b0b0b0" stroke-width="0.8" fill="none"/>
<circle cx="413.99" cy="330.66" r="1.3" stroke="#b0b0b0" stroke-width="0.8" fill="none"/>
<circle cx="415.02" cy="331.94" r="1.3" stroke="#b0b0b0" stroke-width="0.8" fill="none"/>
<circle cx="415.02" cy="328.87" r="1.3" stroke="#b0b0b0" stroke-width="0.8" fill="none"/>
<circle cx="414.85" cy="332.04" r="1.3" stroke="#b0b0b0" stroke-width="0.8" fill="none"/>
<circle cx="414.25" cy="330.78" r="1.3" stroke="#b0b0b0" stroke-width="0.8" fill="none"/>
<circle cx="413.87" cy="332.18" r="1.3" stroke="#b0b0b0" stroke-width="0.8" fill="none"/>
<circle cx="420.53" cy="332.18" r="1.3" stroke="#111" stroke-width="0.8" fill="none"/>
<circle cx="419.83" cy="331.98" r="1.3" stroke="#111" stroke-width="0.8" fill="none"/>
<circle cx="420.37" cy="331" r="1.3" stroke="#111" stroke-width="0.8" fill="none"/>
<circle cx="419.37" cy="330.25" r="1.3" stroke="#111" stroke-width="0.8" fill="none"/>
<circle cx="420.59" cy="330.83" r="1.3" stroke="#111" stroke-width="0.8" fill="none"/>
<circle cx="419.77" cy="330.49" r="1.3" stroke="#111" stroke-width="0.8" fill="none"/>
<circle cx="419.26" cy="332.06" r="1.3" stroke="#111" stroke-width="0.8" fill="none"/>
<circle cx="420.26" cy="332.18" r="1.3" stroke="#111" stroke-width="0.8" fill="none"/>
<ellipse cx="419.95" cy="331.5" rx="2.5" ry="2.2" fill="#111"/>
<ellipse cx="414.75" cy="331.29" rx="2.5" ry="2.2" fill="#b4b4b4"/>
<line x1="417.35" y1="332.6" x2="417.35" y2="335" stroke="#2a2a2a" stroke-width="0.8" />
<text x="421.65" y="341" font-size="7.5" text-anchor="end" fill="#222" transform="rotate(-45 421.65 341)" >21</text>
<rect x="425.78" y="331.75" width="4.6" height="0.85" stroke="#b8b8b8" stroke-width="0.8" fill="#fff" />
<rect x="431.18" y="330.9" width="4.6" height="1.7" stroke="#222" stroke-width="0.8" fill="#fff" />
<circle cx="427.38" cy="331.2" r="1.3" stroke="#b0b0b0" stroke-width="0.8" fill="none"/>
<circle cx="427.58" cy="331.1" r="1.3" stroke="#b0b0b0" stroke-width="0.8" fill="none"/>
<circle cx="428.31" cy="330.68" r="1.3" stroke="#b0b0b0" stroke-width="0.8" fill="none"/>
<circle cx="427.79" cy="331.33" r="1.3" stroke="#b0b0b0" stroke-width="0.8" fill="none"/>
<circle cx="427.78" cy="332.18" r="1.3" stroke="#b0b0b0" stroke-width="0.8" fill="none"/>
<circle cx="428.2" cy="332.18" r="1.3" stroke="#b0b0b0" stroke-width="0.8" fill="none"/>
<circle cx="427.57" cy="329.83" r="1.3" stroke="#b0b0b0" stroke-width="0.8" fill="none"/>
<circle cx="428.61" cy="331.26" r="1.3" stroke="#b0b0b0" stroke-width="0.8" fill="none"/>
<circle cx="433.36" cy="330.44" r="1.3" stroke="#111" stroke-width="0.8" fill="none"/>
<circle cx="432.78" cy="329.14" r="1.3" stroke="#111" stroke-width="0.8" fill="none"/>
<circle cx="433.69" cy="330.48" r="1.3" stroke="#111" stroke-width="0.8" fill="none"/>
<circle cx="433.84" cy="332.01" r="1.3" stroke="#111" stroke-width="0.8" fill="none"/>
<circle cx="433.62" cy="329.28" r="1.3" stroke="#111" stroke-width="0.8" fill="none"/>
<circle cx="433.32" cy="330.59" r="1.3" stroke="#111" stroke-width="0.8" fill="none"/>
<circle cx="433.5" cy="329.79" r="1.3" stroke="#111" stroke-width="0.8" fill="none"/>
<circle cx="433.62" cy="330.7" r="1.3" stroke="#111" stroke-width="0.8" fill="none"/>
<ellipse cx="433.38" cy="331.5" rx="2.5" ry="2.2" fill="#111"/>
<ellipse cx="428.18" cy="332.35" rx="2.5" ry="2.2" fill="#b4b4b4"/>
<line x1="430.78" y1="332.6" x2="430.78" y2="335" stroke="#2a2a2a" stroke-width="0.8" />
<text x="435.08" y="341" font-size="7.5" text-anchor="end" fill="#222" transform="rotate(-45 435.08 341)" >24</text>
<rect x="439.2" y="324.12" width="4.6" height="8.48" stroke="#b8b8b8" stroke-width="0.8" fill="#fff" />
<rect x="444.6" y="324.12" width="4.6" height="8.48" stroke="#222" stroke-width="0.8" fill="#fff" />
<circle cx="441.46" cy="323.49" r="1.3" stroke="#b0b0b0" stroke-width="0.8" fill="none"/>
<circle cx="440.84" cy="319.9" r="1.3" stroke="#b0b0b0" stroke-width="0.8" fill="none"/>
<circle cx="441.42" cy="320.29" r="1.3" stroke="#b0b0b0" stroke-width="0.8" fill="none"/>
<circle cx="441.83" cy="324.22" r="1.3" stroke="#b0b0b0" stroke-width="0.8" fill="none"/>
<circle cx="441.88" cy="322.28" r="1.3" stroke="#b0b0b0" stroke-width="0.8" fill="none"/>
<circle cx="441.42" cy="324.58" r="1.3" stroke="#b0b0b0" stroke-width="0.8" fill="none"/>
<circle cx="441.22" cy="323.31" r="1.3" stroke="#b0b0b0" stroke-width="0.8" fill="none"/>
<circle cx="440.94" cy="324.19" r="1.3" stroke="#b0b0b0" stroke-width="0.8" fill="none"/>
<circle cx="446.41" cy="325.25" r="1.3" stroke="#111" stroke-width="0.8" fill="none"/>
<circle cx="446.52" cy="323.33" r="1.3" stroke="#111" stroke-width="0.8" fill="none"/>
<circle cx="447" cy="323.17" r="1.3" stroke="#111" stroke-width="0.8" fill="none"/>
<circle cx="447.22" cy="321.52" r="1.3" stroke="#111" stroke-width="0.8" fill="none"/>
<circle cx="447.66" cy="325.93" r="1.3" stroke="#111" stroke-width="0.8" fill="none"/>
<circle cx="447.3" cy="324.31" r="1.3" stroke="#111" stroke-width="0.8" fill="none"/>
<circle cx="447.62" cy="323.27" r="1.3" stroke="#111" stroke-width="0.8" fill="none"/>
<circle cx="447.57" cy="321.62" r="1.3" stroke="#111" stroke-width="0.8" fill="none"/>
<line x1="444.2" y1="332.6" x2="444.2" y2="335" stroke="#2a2a2a" stroke-width="0.8" />
<text x="448.5" y="341" font-size="7.5" text-anchor="end" fill="#222" transform="rotate(-45 448.5 341)" >3</text>
<rect x="452.63" y="320.94" width="4.6" height="11.66" stroke="#b8b8b8" stroke-width="0.8" fill="#fff" />
<rect x="458.03" y="316.7" width="4.6" height="15.9" stroke="#222" stroke-width="0.8" fill="#fff" />
<circle cx="455.33" cy="311.4" r="1.3" stroke="#b0b0b0" stroke-width="0.8" fill="none"/>
<circle cx="455.33" cy="317.76" r="1.3" stroke="#b0b0b0" stroke-width="0.8" fill="none"/>
<circle cx="454.14" cy="319.88" r="1.3" stroke="#b0b0b0" stroke-width="0.8" fill="none"/>
<circle cx="454.4" cy="320.94" r="1.3" stroke="#b0b0b0" stroke-width="0.8" fill="none"/>
<circle cx="454.05" cy="322" r="1.3" stroke="#b0b0b0" stroke-width="0.8" fill="none"/>
<circle cx="455.58" cy="323.06" r="1.3" stroke="#b0b0b0" stroke-width="0.8" fill="none"/>
<circle cx="455.33" cy="324.12" r="1.3" stroke="#b0b0b0" stroke-width="0.8" fill="none"/>
<circle cx="460.54" cy="309.28" r="1.3" stroke="#111" stroke-width="0.8" fill="none"/>
<circle cx="459.95" cy="313.52" r="1.3" stroke="#111" stroke-width="0.8" fill="none"/>
<circle cx="460.1" cy="315.64" r="1.3" stroke="#111" stroke-width="0.8" fill="none"/>
<circle cx="459.79" cy="316.7" r="1.3" stroke="#111" stroke-width="0.8" fill="none"/>
<circle cx="460.54" cy="317.76" r="1.3" stroke="#111" stroke-width="0.8" fill="none"/>
<circle cx="461.12" cy="318.82" r="1.3" stroke="#111" stroke-width="0.8" fill="none"/>
<circle cx="460.02" cy="319.88" r="1.3" stroke="#111" stroke-width="0.8" fill="none"/>
<circle cx="459.6" cy="322" r="1.3" stroke="#111" stroke-width="0.8" fill="none"/>
<line x1="457.63" y1="332.6" x2="457.63" y2="335" stroke="#2a2a2a" stroke-width="0.8" />
<text x="461.93" y="341" font-size="7.5" text-anchor="end" fill="#222" transform="rotate(-45 461.93 341)" >7</text>
<rect x="466.06" y="318.82" width="4.6" height="13.78" stroke="#b8b8b8" stroke-width="0.8" fill="#fff" />
<rect x="471.46" y="313.52" width="4.6" height="19.08" stroke="#222" stroke-width="0.8" fill="#fff" />
<circle cx="468.86" cy="317.47" r="1.3" stroke="#b0b0b0" stroke-width="0.8" fill="none"/>
<circle cx="468.31" cy="316.16" r="1.3" stroke="#b0b0b0" stroke-width="0.8" fill="none"/>
<circle cx="469.24" cy="314.19" r="1.3" stroke="#b0b0b0" stroke-width="0.8" fill="none"/>
<circle cx="469.1" cy="322.23" r="1.3" stroke="#b0b0b0" stroke-width="0.8" fill="none"/>
<circle cx="468.89" cy="320.24" r="1.3" stroke="#b0b0b0" stroke-width="0.8" fill="none"/>
<circle cx="468.32" cy="318.41" r="1.3" stroke="#b0b0b0" stroke-width="0.8" fill="none"/>
<circle cx="468.94" cy="317.38" r="1.3" stroke="#b0b0b0" stroke-width="0.8" fill="none"/>
<circle cx="467.69" cy="317.68" r="1.3" stroke="#b0b0b0" stroke-width="0.8" fill="none"/>
<circle cx="474.47" cy="310.35" r="1.3" stroke="#111" stroke-width="0.8" fill="none"/>
<circle cx="474.53" cy="310.93" r="1.3" stroke="#111" stroke-width="0.8" fill="none"/>
<circle cx="473.66" cy="315.7" r="1.3" stroke="#111" stroke-width="0.8" fill="none"/>
<circle cx="474.13" cy="313.63" r="1.3" stroke="#111" stroke-width="0.8" fill="none"/>
<circle cx="473.57" cy="313.53" r="1.3" stroke="#111" stroke-width="0.8" fill="none"/>
<circle cx="474.26" cy="312.86" r="1.3" stroke="#111" stroke-width="0.8" fill="none"/>
<circle cx="474.31" cy="309.31" r="1.3" stroke="#111" stroke-width="0.8" fill="none"/>
<circle cx="473.17" cy="316.23" r="1.3" stroke="#111" stroke-width="0.8" fill="none"/>
<line x1="471.06" y1="332.6" x2="471.06" y2="335" stroke="#2a2a2a" stroke-width="0.8" />
<text x="475.36" y="341" font-size="7.5" text-anchor="end" fill="#222" transform="rotate(-45 475.36 341)" >10</text>
<rect x="479.49" y="315.64" width="4.6" height="16.96" stroke="#b8b8b8" stroke-width="0.8" fill="#fff" />
<rect x="484.89" y="311.4" width="4.6" height="21.2" stroke="#222" stroke-width="0.8" fill="#fff" />
<circle cx="480.91" cy="298.68" r="1.3" stroke="#b0b0b0" stroke-width="0.8" fill="none"/>
<circle cx="481.28" cy="307.16" r="1.3" stroke="#b0b0b0" stroke-width="0.8" fill="none"/>
<circle cx="481.94" cy="309.28" r="1.3" stroke="#b0b0b0" stroke-width="0.8" fill="none"/>
<circle cx="481.57" cy="311.4" r="1.3" stroke="#b0b0b0" stroke-width="0.8" fill="none"/>
<circle cx="480.91" cy="313.52" r="1.3" stroke="#b0b0b0" stroke-width="0.8" fill="none"/>
<circle cx="482.38" cy="315.64" r="1.3" stroke="#b0b0b0" stroke-width="0.8" fill="none"/>
<circle cx="482.3" cy="317.76" r="1.3" stroke="#b0b0b0" stroke-width="0.8" fill="none"/>
<circle cx="487.13" cy="303.77" r="1.3" stroke="#111" stroke-width="0.8" fill="none"/>
<circle cx="486.46" cy="306.1" r="1.3" stroke="#111" stroke-width="0.8" fill="none"/>
<circle cx="487.81" cy="308.22" r="1.3" stroke="#111" stroke-width="0.8" fill="none"/>
<circle cx="487.24" cy="310.34" r="1.3" stroke="#111" stroke-width="0.8" fill="none"/>
<circle cx="486.5" cy="311.4" r="1.3" stroke="#111" stroke-width="0.8" fill="none"/>
<circle cx="486.91" cy="312.46" r="1.3" stroke="#111" stroke-width="0.8" fill="none"/>
<circle cx="487.39" cy="313.52" r="1.3" stroke="#111" stroke-width="0.8" fill="none"/>
<circle cx="487.81" cy="315.64" r="1.3" stroke="#111" stroke-width="0.8" fill="none"/>
<circle cx="487.17" cy="316.91" r="1.3" stroke="#111" stroke-width="0.8" fill="none"/>
<line x1="484.49" y1="332.6" x2="484.49" y2="335" stroke="#2a2a2a" stroke-width="0.8" />
<text x="488.79" y="341" font-size="7.5" text-anchor="end" fill="#222" transform="rotate(-45 488.79 341)" >14</text>
<rect x="492.92" y="317.76" width="4.6" height="14.84" stroke="#b8b8b8" stroke-width="0.8" fill="#fff" />
<rect x="498.32" y="315.22" width="4.6" height="17.38" stroke="#222" stroke-width="0.8" fill="#fff" />
<circle cx="494.68" cy="319.6" r="1.3" stroke="#b0b0b0" stroke-width="0.8" fill="none"/>
<circle cx="495.14" cy="319.97" r="1.3" stroke="#b0b0b0" stroke-width="0.8" fill="none"/>
<circle cx="495.37" cy="317.38" r="1.3" stroke="#b0b0b0" stroke-width="0.8" fill="none"/>
<circle cx="495.47" cy="308.55" r="1.3" stroke="#b0b0b0" stroke-width="0.8" fill="none"/>
<circle cx="495.59" cy="319.23" r="1.3" stroke="#b0b0b0" stroke-width="0.8" fill="none"/>
<circle cx="495.11" cy="316.42" r="1.3" stroke="#b0b0b0" stroke-width="0.8" fill="none"/>
<circle cx="494.44" cy="319.61" r="1.3" stroke="#b0b0b0" stroke-width="0.8" fill="none"/>
<circle cx="495.62" cy="318.95" r="1.3" stroke="#b0b0b0" stroke-width="0.8" fill="none"/>
<circle cx="500.57" cy="311.16" r="1.3" stroke="#111" stroke-width="0.8" fill="none"/>
<circle cx="500.05" cy="313.79" r="1.3" stroke="#111" stroke-width="0.8" fill="none"/>
<circle cx="501.27" cy="319.84" r="1.3" stroke="#111" stroke-width="0.8" fill="none"/>
<circle cx="500.78" cy="311.87" r="1.3" stroke="#111" stroke-width="0.8" fill="none"/>
<circle cx="499.92" cy="315.85" r="1.3" stroke="#111" stroke-width="0.8" fill="none"/>
<circle cx="500.2" cy="317.97" r="1.3" stroke="#111" stroke-width="0.8" fill="none"/>
<circle cx="501.4" cy="318.67" r="1.3" stroke="#111" stroke-width="0.8" fill="none"/>
<circle cx="500.19" cy="319.94" r="1.3" stroke="#111" stroke-width="0.8" fill="none"/>
<line x1="497.92" y1="332.6" x2="497.92" y2="335" stroke="#2a2a2a" stroke-width="0.8" />
<text x="502.22" y="341" font-size="7.5" text-anchor="end" fill="#222" transform="rotate(-45 502.22 341)" >17</text>
<rect x="506.35" y="311.4" width="4.6" height="21.2" stroke="#b8b8b8" stroke-width="0.8" fill="#fff" />
<rect x="511.75" y="312.88" width="4.6" height="19.72" stroke="#222" stroke-width="0.8" fill="#fff" />
<circle cx="509.19" cy="316.64" r="1.3" stroke="#b0b0b0" stroke-width="0.8" fill="none"/>
<circle cx="507.82" cy="307.19" r="1.3" stroke="#b0b0b0" stroke-width="0.8" fill="none"/>
<circle cx="507.84" cy="308.98" r="1.3" stroke="#b0b0b0" stroke-width="0.8" fill="none"/>
<circle cx="508.18" cy="316.24" r="1.3" stroke="#b0b0b0" stroke-width="0.8" fill="none"/>
<circle cx="509.43" cy="311.46" r="1.3" stroke="#b0b0b0" stroke-width="0.8" fill="none"/>
<circle cx="508.15" cy="312.46" r="1.3" stroke="#b0b0b0" stroke-width="0.8" fill="none"/>
<circle cx="508.96" cy="302.73" r="1.3" stroke="#b0b0b0" stroke-width="0.8" fill="none"/>
<circle cx="509.42" cy="305.6" r="1.3" stroke="#b0b0b0" stroke-width="0.8" fill="none"/>
<circle cx="514.39" cy="316.87" r="1.3" stroke="#111" stroke-width="0.8" fill="none"/>
<circle cx="513.55" cy="317.61" r="1.3" stroke="#111" stroke-width="0.8" fill="none"/>
<circle cx="514.54" cy="313.01" r="1.3" stroke="#111" stroke-width="0.8" fill="none"/>
<circle cx="513.51" cy="311.3" r="1.3" stroke="#111" stroke-width="0.8" fill="none"/>
<circle cx="514.07" cy="308.28" r="1.3" stroke="#111" stroke-width="0.8" fill="none"/>
<circle cx="513.42" cy="312.35" r="1.3" stroke="#111" stroke-width="0.8" fill="none"/>
<circle cx="514.51" cy="306.99" r="1.3" stroke="#111" stroke-width="0.8" fill="none"/>
<circle cx="514.67" cy="308.38" r="1.3" stroke="#111" stroke-width="0.8" fill="none"/>
<line x1="511.35" y1="332.6" x2="511.35" y2="335" stroke="#2a2a2a" stroke-width="0.8" />
<text x="515.65" y="341" font-size="7.5" text-anchor="end" fill="#222" transform="rotate(-45 515.65 341)" >21</text>
<rect x="519.78" y="314.58" width="4.6" height="18.02" stroke="#b8b8b8" stroke-width="0.8" fill="#fff" />
<rect x="525.18" y="316.06" width="4.6" height="16.54" stroke="#222" stroke-width="0.8" fill="#fff" />
<circle cx="522.62" cy="314.43" r="1.3" stroke="#b0b0b0" stroke-width="0.8" fill="none"/>
<circle cx="521.32" cy="314.67" r="1.3" stroke="#b0b0b0" stroke-width="0.8" fill="none"/>
<circle cx="521.28" cy="312.65" r="1.3" stroke="#b0b0b0" stroke-width="0.8" fill="none"/>
<circle cx="522.16" cy="317.19" r="1.3" stroke="#b0b0b0" stroke-width="0.8" fill="none"/>
<circle cx="521.7" cy="313.28" r="1.3" stroke="#b0b0b0" stroke-width="0.8" fill="none"/>
<circle cx="521.89" cy="317.29" r="1.3" stroke="#b0b0b0" stroke-width="0.8" fill="none"/>
<circle cx="521.19" cy="317.07" r="1.3" stroke="#b0b0b0" stroke-width="0.8" fill="none"/>
<circle cx="522.52" cy="316.92" r="1.3" stroke="#b0b0b0" stroke-width="0.8" fill="none"/>
<circle cx="526.86" cy="310.15" r="1.3" stroke="#111" stroke-width="0.8" fill="none"/>
<circle cx="528.24" cy="315.16" r="1.3" stroke="#111" stroke-width="0.8" fill="none"/>
<circle cx="527.55" cy="314.74" r="1.3" stroke="#111" stroke-width="0.8" fill="none"/>
<circle cx="527.24" cy="319.32" r="1.3" stroke="#111" stroke-width="0.8" fill="none"/>
<circle cx="526.83" cy="312.75" r="1.3" stroke="#111" stroke-width="0.8" fill="none"/>
<circle cx="527.85" cy="312.86" r="1.3" stroke="#111" stroke-width="0.8" fill="none"/>
<circle cx="528.04" cy="315.17" r="1.3" stroke="#111" stroke-width="0.8" fill="none"/>
<circle cx="528.04" cy="312.82" r="1.3" stroke="#111" stroke-width="0.8" fill="none"/>
<line x1="524.78" y1="332.6" x2="524.78" y2="335" stroke="#2a2a2a" stroke-width="0.8" />
<text x="529.08" y="341" font-size="7.5" text-anchor="end" fill="#222" transform="rotate(-45 529.08 341)" >24</text>
<rect x="533.2" y="328.36" width="4.6" height="4.24" stroke="#b8b8b8" stroke-width="0.8" fill="#fff" />
<rect x="538.6" y="329.42" width="4.6" height="3.18" stroke="#222" stroke-width="0.8" fill="#fff" />
<circle cx="534.61" cy="327.06" r="1.3" stroke="#b0b0b0" stroke-width="0.8" fill="none"/>
<circle cx="534.73" cy="327.39" r="1.3" stroke="#b0b0b0" stroke-width="0.8" fill="none"/>
<circle cx="534.8" cy="329.3" r="1.3" stroke="#b0b0b0" stroke-width="0.8" fill="none"/>
<circle cx="535.85" cy="325.64" r="1.3" stroke="#b0b0b0" stroke-width="0.8" fill="none"/>
<circle cx="535.68" cy="326.97" r="1.3" stroke="#b0b0b0" stroke-width="0.8" fill="none"/>
<circle cx="535.54" cy="326.51" r="1.3" stroke="#b0b0b0" stroke-width="0.8" fill="none"/>
<circle cx="535.42" cy="325.48" r="1.3" stroke="#b0b0b0" stroke-width="0.8" fill="none"/>
<circle cx="535.33" cy="328.75" r="1.3" stroke="#b0b0b0" stroke-width="0.8" fill="none"/>
<circle cx="540.15" cy="330.83" r="1.3" stroke="#111" stroke-width="0.8" fill="none"/>
<circle cx="541.19" cy="330.6" r="1.3" stroke="#111" stroke-width="0.8" fill="none"/>
<circle cx="541.46" cy="327.63" r="1.3" stroke="#111" stroke-width="0.8" fill="none"/>
<circle cx="540.79" cy="330.46" r="1.3" stroke="#111" stroke-width="0.8" fill="none"/>
<circle cx="541.51" cy="328.61" r="1.3" stroke="#111" stroke-width="0.8" fill="none"/>
<circle cx="540.39" cy="332.11" r="1.3" stroke="#111" stroke-width="0.8" fill="none"/>
<circle cx="541.61" cy="328.37" r="1.3" stroke="#111" stroke-width="0.8" fill="none"/>
<circle cx="540.81" cy="331.14" r="1.3" stroke="#111" stroke-width="0.8" fill="none"/>
<ellipse cx="540.8" cy="330.02" rx="2.5" ry="2.2" fill="#111"/>
<ellipse cx="535.6" cy="328.96" rx="2.5" ry="2.2" fill="#b4b4b4"/>
<line x1="538.2" y1="332.6" x2="538.2" y2="335" stroke="#2a2a2a" stroke-width="0.8" />
<text x="542.5" y="341" font-size="7.5" text-anchor="end" fill="#222" transform="rotate(-45 542.5 341)" >3</text>
<rect x="546.63" y="324.12" width="4.6" height="8.48" stroke="#b8b8b8" stroke-width="0.8" fill="#fff" />
<rect x="552.03" y="316.06" width="4.6" height="16.54" stroke="#222" stroke-width="0.8" fill="#fff" />
<circle cx="549.3" cy="317.76" r="1.3" stroke="#b0b0b0" stroke-width="0.8" fill="none"/>
<circle cx="548.48" cy="319.88" r="1.3" stroke="#b0b0b0" stroke-width="0.8" fill="none"/>
<circle cx="548.57" cy="322" r="1.3" stroke="#b0b0b0" stroke-width="0.8" fill="none"/>
<circle cx="548.66" cy="324.12" r="1.3" stroke="#b0b0b0" stroke-width="0.8" fill="none"/>
<circle cx="548.61" cy="326.24" r="1.3" stroke="#b0b0b0" stroke-width="0.8" fill="none"/>
<circle cx="548.2" cy="328.36" r="1.3" stroke="#b0b0b0" stroke-width="0.8" fill="none"/>
<circle cx="548.83" cy="329.42" r="1.3" stroke="#b0b0b0" stroke-width="0.8" fill="none"/>
<circle cx="549.8" cy="330.48" r="1.3" stroke="#b0b0b0" stroke-width="0.8" fill="none"/>
<circle cx="554.58" cy="299.32" r="1.3" stroke="#111" stroke-width="0.8" fill="none"/>
<circle cx="555.02" cy="305.04" r="1.3" stroke="#111" stroke-width="0.8" fill="none"/>
<circle cx="554.75" cy="308.22" r="1.3" stroke="#111" stroke-width="0.8" fill="none"/>
<circle cx="554.87" cy="311.4" r="1.3" stroke="#111" stroke-width="0.8" fill="none"/>
<circle cx="555.12" cy="313.52" r="1.3" stroke="#111" stroke-width="0.8" fill="none"/>
<circle cx="554.73" cy="314.58" r="1.3" stroke="#111" stroke-width="0.8" fill="none"/>
<circle cx="553.97" cy="315.64" r="1.3" stroke="#111" stroke-width="0.8" fill="none"/>
<circle cx="553.93" cy="317.76" r="1.3" stroke="#111" stroke-width="0.8" fill="none"/>
<circle cx="554.19" cy="319.88" r="1.3" stroke="#111" stroke-width="0.8" fill="none"/>
<circle cx="553.56" cy="322" r="1.3" stroke="#111" stroke-width="0.8" fill="none"/>
<circle cx="553.9" cy="324.12" r="1.3" stroke="#111" stroke-width="0.8" fill="none"/>
<line x1="551.63" y1="332.6" x2="551.63" y2="335" stroke="#2a2a2a" stroke-width="0.8" />
<text x="555.93" y="341" font-size="7.5" text-anchor="end" fill="#222" transform="rotate(-45 555.93 341)" >7</text>
<rect x="560.06" y="325.18" width="4.6" height="7.42" stroke="#b8b8b8" stroke-width="0.8" fill="#fff" />
<rect x="565.46" y="289.14" width="4.6" height="43.46" stroke="#222" stroke-width="0.8" fill="#fff" />
<circle cx="563.06" cy="319.88" r="1.3" stroke="#b0b0b0" stroke-width="0.8" fill="none"/>
<circle cx="563.12" cy="322" r="1.3" stroke="#b0b0b0" stroke-width="0.8" fill="none"/>
<circle cx="562.05" cy="324.12" r="1.3" stroke="#b0b0b0" stroke-width="0.8" fill="none"/>
<circle cx="562.85" cy="326.24" r="1.3" stroke="#b0b0b0" stroke-width="0.8" fill="none"/>
<circle cx="562.85" cy="328.36" r="1.3" stroke="#b0b0b0" stroke-width="0.8" fill="none"/>
<circle cx="563.06" cy="329.42" r="1.3" stroke="#b0b0b0" stroke-width="0.8" fill="none"/>
<circle cx="568.23" cy="271.12" r="1.3" stroke="#111" stroke-width="0.8" fill="none"/>
<circle cx="567.81" cy="280.45" r="1.3" stroke="#111" stroke-width="0.8" fill="none"/>
<circle cx="567.13" cy="282.78" r="1.3" stroke="#111" stroke-width="0.8" fill="none"/>
<circle cx="568.28" cy="283.84" r="1.3" stroke="#111" stroke-width="0.8" fill="none"/>
<circle cx="567.46" cy="285.96" r="1.3" stroke="#111" stroke-width="0.8" fill="none"/>
<circle cx="567.96" cy="288.08" r="1.3" stroke="#111" stroke-width="0.8" fill="none"/>
<circle cx="567.55" cy="290.2" r="1.3" stroke="#111" stroke-width="0.8" fill="none"/>
<circle cx="567.82" cy="292.32" r="1.3" stroke="#111" stroke-width="0.8" fill="none"/>
<circle cx="568.51" cy="294.44" r="1.3" stroke="#111" stroke-width="0.8" fill="none"/>
<circle cx="567.22" cy="295.5" r="1.3" stroke="#111" stroke-width="0.8" fill="none"/>
<circle cx="567.81" cy="299.74" r="1.3" stroke="#111" stroke-width="0.8" fill="none"/>
<circle cx="568" cy="307.16" r="1.3" stroke="#111" stroke-width="0.8" fill="none"/>
<line x1="565.06" y1="332.6" x2="565.06" y2="335" stroke="#2a2a2a" stroke-width="0.8" />
<text x="569.36" y="341" font-size="7.5" text-anchor="end" fill="#222" transform="rotate(-45 569.36 341)" >10</text>
<rect x="573.49" y="320.94" width="4.6" height="11.66" stroke="#b8b8b8" stroke-width="0.8" fill="#fff" />
<rect x="578.89" y="269" width="4.6" height="63.6" stroke="#222" stroke-width="0.8" fill="#fff" />
<circle cx="575.86" cy="302.92" r="1.3" stroke="#b0b0b0" stroke-width="0.8" fill="none"/>
<circle cx="576.58" cy="309.28" r="1.3" stroke="#b0b0b0" stroke-width="0.8" fill="none"/>
<circle cx="575.62" cy="315.64" r="1.3" stroke="#b0b0b0" stroke-width="0.8" fill="none"/>
<circle cx="576.53" cy="319.88" r="1.3" stroke="#b0b0b0" stroke-width="0.8" fill="none"/>
<circle cx="576.13" cy="324.12" r="1.3" stroke="#b0b0b0" stroke-width="0.8" fill="none"/>
<circle cx="576.63" cy="326.24" r="1.3" stroke="#b0b0b0" stroke-width="0.8" fill="none"/>
<circle cx="580.53" cy="252.04" r="1.3" stroke="#111" stroke-width="0.8" fill="none"/>
<circle cx="580.73" cy="260.52" r="1.3" stroke="#111" stroke-width="0.8" fill="none"/>
<circle cx="580.85" cy="262.64" r="1.3" stroke="#111" stroke-width="0.8" fill="none"/>
<circle cx="581.84" cy="264.76" r="1.3" stroke="#111" stroke-width="0.8" fill="none"/>
<circle cx="580.41" cy="266.88" r="1.3" stroke="#111" stroke-width="0.8" fill="none"/>
<circle cx="580.81" cy="267.94" r="1.3" stroke="#111" stroke-width="0.8" fill="none"/>
<circle cx="581.54" cy="269" r="1.3" stroke="#111" stroke-width="0.8" fill="none"/>
<circle cx="581.97" cy="271.12" r="1.3" stroke="#111" stroke-width="0.8" fill="none"/>
<circle cx="580.67" cy="275.36" r="1.3" stroke="#111" stroke-width="0.8" fill="none"/>
<circle cx="581.09" cy="279.6" r="1.3" stroke="#111" stroke-width="0.8" fill="none"/>
<circle cx="581.49" cy="284.9" r="1.3" stroke="#111" stroke-width="0.8" fill="none"/>
<circle cx="581.5" cy="302.92" r="1.3" stroke="#111" stroke-width="0.8" fill="none"/>
<line x1="578.49" y1="332.6" x2="578.49" y2="335" stroke="#2a2a2a" stroke-width="0.8" />
<text x="582.79" y="341" font-size="7.5" text-anchor="end" fill="#222" transform="rotate(-45 582.79 341)" >14</text>
<rect x="586.92" y="326.24" width="4.6" height="6.36" stroke="#b8b8b8" stroke-width="0.8" fill="#fff" />
<rect x="592.32" y="299.74" width="4.6" height="32.86" stroke="#222" stroke-width="0.8" fill="#fff" />
<circle cx="589.66" cy="315.64" r="1.3" stroke="#b0b0b0" stroke-width="0.8" fill="none"/>
<circle cx="589.68" cy="319.88" r="1.3" stroke="#b0b0b0" stroke-width="0.8" fill="none"/>
<circle cx="588.77" cy="324.12" r="1.3" stroke="#b0b0b0" stroke-width="0.8" fill="none"/>
<circle cx="588.78" cy="326.24" r="1.3" stroke="#b0b0b0" stroke-width="0.8" fill="none"/>
<circle cx="588.37" cy="328.36" r="1.3" stroke="#b0b0b0" stroke-width="0.8" fill="none"/>
<circle cx="589.56" cy="329.42" r="1.3" stroke="#b0b0b0" stroke-width="0.8" fill="none"/>
<circle cx="594.15" cy="281.72" r="1.3" stroke="#111" stroke-width="0.8" fill="none"/>
<circle cx="594.24" cy="283.84" r="1.3" stroke="#111" stroke-width="0.8" fill="none"/>
<circle cx="595.36" cy="288.08" r="1.3" stroke="#111" stroke-width="0.8" fill="none"/>
<circle cx="594.85" cy="294.44" r="1.3" stroke="#111" stroke-width="0.8" fill="none"/>
<circle cx="594.77" cy="297.62" r="1.3" stroke="#111" stroke-width="0.8" fill="none"/>
<circle cx="594.87" cy="299.74" r="1.3" stroke="#111" stroke-width="0.8" fill="none"/>
<circle cx="594.78" cy="300.8" r="1.3" stroke="#111" stroke-width="0.8" fill="none"/>
<circle cx="594.93" cy="302.92" r="1.3" stroke="#111" stroke-width="0.8" fill="none"/>
<circle cx="594.31" cy="305.04" r="1.3" stroke="#111" stroke-width="0.8" fill="none"/>
<circle cx="593.92" cy="307.16" r="1.3" stroke="#111" stroke-width="0.8" fill="none"/>
<circle cx="593.93" cy="311.4" r="1.3" stroke="#111" stroke-width="0.8" fill="none"/>
<circle cx="593.84" cy="313.52" r="1.3" stroke="#111" stroke-width="0.8" fill="none"/>
<line x1="591.92" y1="332.6" x2="591.92" y2="335" stroke="#2a2a2a" stroke-width="0.8" />
<text x="596.22" y="341" font-size="7.5" text-anchor="end" fill="#222" transform="rotate(-45 596.22 341)" >17</text>
<rect x="600.35" y="316.7" width="4.6" height="15.9" stroke="#b8b8b8" stroke-width="0.8" fill="#fff" />
<rect x="605.75" y="309.28" width="4.6" height="23.32" stroke="#222" stroke-width="0.8" fill="#fff" />
<circle cx="602.4" cy="311.4" r="1.3" stroke="#b0b0b0" stroke-width="0.8" fill="none"/>
<circle cx="602.01" cy="315.64" r="1.3" stroke="#b0b0b0" stroke-width="0.8" fill="none"/>
<circle cx="601.95" cy="317.76" r="1.3" stroke="#b0b0b0" stroke-width="0.8" fill="none"/>
<circle cx="602.64" cy="319.88" r="1.3" stroke="#b0b0b0" stroke-width="0.8" fill="none"/>
<circle cx="603.5" cy="324.12" r="1.3" stroke="#b0b0b0" stroke-width="0.8" fill="none"/>
<circle cx="602.99" cy="326.24" r="1.3" stroke="#b0b0b0" stroke-width="0.8" fill="none"/>
<circle cx="607.69" cy="296.56" r="1.3" stroke="#111" stroke-width="0.8" fill="none"/>
<circle cx="608.48" cy="297.62" r="1.3" stroke="#111" stroke-width="0.8" fill="none"/>
<circle cx="607.53" cy="307.16" r="1.3" stroke="#111" stroke-width="0.8" fill="none"/>
<circle cx="607.41" cy="309.28" r="1.3" stroke="#111" stroke-width="0.8" fill="none"/>
<circle cx="607.74" cy="310.34" r="1.3" stroke="#111" stroke-width="0.8" fill="none"/>
<circle cx="607.9" cy="311.4" r="1.3" stroke="#111" stroke-width="0.8" fill="none"/>
<circle cx="608.35" cy="313.52" r="1.3" stroke="#111" stroke-width="0.8" fill="none"/>
<circle cx="607.96" cy="315.64" r="1.3" stroke="#111" stroke-width="0.8" fill="none"/>
<circle cx="608.42" cy="317.76" r="1.3" stroke="#111" stroke-width="0.8" fill="none"/>
<line x1="605.35" y1="332.6" x2="605.35" y2="335" stroke="#2a2a2a" stroke-width="0.8" />
<text x="609.65" y="341" font-size="7.5" text-anchor="end" fill="#222" transform="rotate(-45 609.65 341)" >21</text>
<rect x="613.78" y="328.36" width="4.6" height="4.24" stroke="#b8b8b8" stroke-width="0.8" fill="#fff" />
<rect x="619.18" y="317.76" width="4.6" height="14.84" stroke="#222" stroke-width="0.8" fill="#fff" />
<circle cx="616.63" cy="325.1" r="1.3" stroke="#b0b0b0" stroke-width="0.8" fill="none"/>
<circle cx="616.39" cy="326.15" r="1.3" stroke="#b0b0b0" stroke-width="0.8" fill="none"/>
<circle cx="615.68" cy="330.12" r="1.3" stroke="#b0b0b0" stroke-width="0.8" fill="none"/>
<circle cx="615.2" cy="325.68" r="1.3" stroke="#b0b0b0" stroke-width="0.8" fill="none"/>
<circle cx="615.52" cy="325.23" r="1.3" stroke="#b0b0b0" stroke-width="0.8" fill="none"/>
<circle cx="616.81" cy="327.75" r="1.3" stroke="#b0b0b0" stroke-width="0.8" fill="none"/>
<circle cx="615.46" cy="327.86" r="1.3" stroke="#b0b0b0" stroke-width="0.8" fill="none"/>
<circle cx="616.37" cy="325.06" r="1.3" stroke="#b0b0b0" stroke-width="0.8" fill="none"/>
<circle cx="621.62" cy="315.64" r="1.3" stroke="#111" stroke-width="0.8" fill="none"/>
<circle cx="621.74" cy="316.7" r="1.3" stroke="#111" stroke-width="0.8" fill="none"/>
<circle cx="620.97" cy="317.76" r="1.3" stroke="#111" stroke-width="0.8" fill="none"/>
<circle cx="620.91" cy="319.88" r="1.3" stroke="#111" stroke-width="0.8" fill="none"/>
<circle cx="620.84" cy="322" r="1.3" stroke="#111" stroke-width="0.8" fill="none"/>
<circle cx="622.25" cy="324.12" r="1.3" stroke="#111" stroke-width="0.8" fill="none"/>
<circle cx="621.29" cy="326.24" r="1.3" stroke="#111" stroke-width="0.8" fill="none"/>
<line x1="618.78" y1="332.6" x2="618.78" y2="335" stroke="#2a2a2a" stroke-width="0.8" />
<text x="623.08" y="341" font-size="7.5" text-anchor="end" fill="#222" transform="rotate(-45 623.08 341)" >24</text>
<line x1="343.5" y1="226.5" x2="626.5" y2="226.5" stroke="#2a2a2a" stroke-width="1" />
<line x1="343.5" y1="226" x2="343.5" y2="333" stroke="#2a2a2a" stroke-width="1" />
<line x1="437.5" y1="226.5" x2="437.5" y2="332.6" stroke="#2a2a2a" stroke-width="1" />
<line x1="531.5" y1="226.5" x2="531.5" y2="332.6" stroke="#2a2a2a" stroke-width="1" />
<line x1="626.5" y1="226" x2="626.5" y2="333" stroke="#2a2a2a" stroke-width="1" />
<line x1="343.5" y1="332.5" x2="626.5" y2="332.5" stroke="#2a2a2a" stroke-width="1" />
<text x="348" y="236.8" font-size="9" fill="#222">mPD-1<tspan font-size="5" dy="-3.5">+</tspan><tspan dy="3.5">/CD19</tspan></text>
<text x="441" y="237.2" font-size="9" fill="#222">mPD-1<tspan font-size="5" dy="-3.5">+</tspan><tspan dy="3.5">/CD4</tspan></text>
<text x="536" y="237.2" font-size="9" fill="#222">mPD-1<tspan font-size="5" dy="-3.5">+</tspan><tspan dy="3.5">/CD8</tspan></text>
<text x="567" y="247" font-size="7" fill="#333" >p&lt;0.0001</text>
<circle cx="535" cy="217" r="1.8" stroke="#9a9a9a" stroke-width="0.8" fill="none"/>
<text x="541" y="220" font-size="8.3" fill="#222" >Ctrl IgG</text>
<circle cx="579" cy="217" r="1.8" stroke="#222" stroke-width="0.8" fill="none"/>
<text x="582.4" y="220" font-size="8.8" fill="#222" >Anti-4-1BB</text>
<text x="324.2" y="277.2" font-size="9.8" text-anchor="middle" fill="#222" transform="rotate(-90 324.2 277.2)" >Percentage of mPD-1 (%)</text>
<text x="474.4" y="359.2" font-size="9" text-anchor="middle" fill="#222" >Days post B16 inoculation</text>
</svg>
</body></html>
